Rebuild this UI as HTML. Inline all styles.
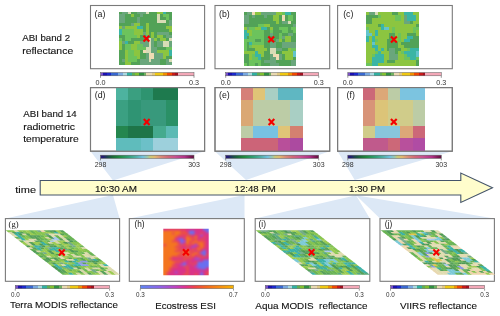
<!DOCTYPE html>
<html><head><meta charset="utf-8"><title>ABI figure</title>
<style>html,body{margin:0;padding:0;background:#fff;width:500px;height:316px;overflow:hidden;position:relative}</style>
</head><body>
<svg width="500" height="316" viewBox="0 0 500 316" style="position:absolute;left:0;top:0;will-change:transform" font-family='"Liberation Sans", sans-serif'><polygon points="90.5,151.2 204.6,151.2 113.0,180.5" fill="#dce8f6"/>
<polygon points="214.8,151.2 329.7,151.2 246.0,180.0" fill="#dce8f6"/>
<polygon points="337.6,151.2 452.3,151.2 354.7,180.0" fill="#dce8f6"/>
<polygon points="113.0,195.0 5.4,218.4 119.6,218.4" fill="#dce8f6"/>
<polygon points="244.5,195.0 129.3,218.4 244.5,218.4" fill="#dce8f6"/>
<polygon points="356.0,195.3 255.2,218.4 369.8,218.4" fill="#dce8f6"/>
<polygon points="356.0,195.3 380.0,218.4 494.4,218.4" fill="#dce8f6"/>
<polygon points="40.2,180.5 460.8,180.5 460.8,173 492.5,187.7 460.8,202.5 460.8,195 40.2,195" fill="#fffdcc" stroke="#44546a" stroke-width="1.1"/>
<rect x="90.5" y="5.5" width="114.1" height="63.2" fill="white" stroke="#7a7a7a" stroke-width="1.1"/>
<rect x="90.5" y="87.6" width="114.1" height="63.6" fill="white" stroke="#7a7a7a" stroke-width="1.1"/>
<rect x="215.0" y="5.5" width="114.7" height="63.2" fill="white" stroke="#7a7a7a" stroke-width="1.1"/>
<rect x="215.0" y="87.6" width="114.7" height="63.6" fill="white" stroke="#7a7a7a" stroke-width="1.1"/>
<rect x="337.6" y="5.5" width="114.7" height="63.2" fill="white" stroke="#7a7a7a" stroke-width="1.1"/>
<rect x="337.6" y="87.6" width="114.7" height="63.6" fill="white" stroke="#7a7a7a" stroke-width="1.1"/>
<rect x="5.4" y="218.6" width="114.2" height="62.7" fill="white" stroke="#7a7a7a" stroke-width="1.1"/>
<rect x="129.3" y="218.6" width="115.0" height="62.7" fill="white" stroke="#7a7a7a" stroke-width="1.1"/>
<rect x="255.2" y="218.6" width="114.6" height="62.7" fill="white" stroke="#7a7a7a" stroke-width="1.1"/>
<rect x="380.0" y="218.6" width="114.4" height="62.7" fill="white" stroke="#7a7a7a" stroke-width="1.1"/>
<g shape-rendering="crispEdges"><rect x="119.20" y="11.50" width="2.98" height="3.02" fill="#52a257"/><rect x="122.13" y="11.50" width="2.98" height="3.02" fill="#6aa67c"/><rect x="125.07" y="11.50" width="2.98" height="3.02" fill="#6aa67c"/><rect x="128.00" y="11.50" width="2.98" height="3.02" fill="#d8dcb6"/><rect x="130.93" y="11.50" width="2.98" height="3.02" fill="#52a257"/><rect x="133.87" y="11.50" width="2.98" height="3.02" fill="#52a257"/><rect x="136.80" y="11.50" width="2.98" height="3.02" fill="#6aa67c"/><rect x="139.73" y="11.50" width="2.98" height="3.02" fill="#6aa67c"/><rect x="142.67" y="11.50" width="2.98" height="3.02" fill="#6aa67c"/><rect x="145.60" y="11.50" width="2.98" height="3.02" fill="#d8dcb6"/><rect x="148.53" y="11.50" width="2.98" height="3.02" fill="#52a257"/><rect x="151.47" y="11.50" width="2.98" height="3.02" fill="#52a257"/><rect x="154.40" y="11.50" width="2.98" height="3.02" fill="#52a257"/><rect x="157.33" y="11.50" width="2.98" height="3.02" fill="#8cc540"/><rect x="160.27" y="11.50" width="2.98" height="3.02" fill="#8cc540"/><rect x="163.20" y="11.50" width="2.98" height="3.02" fill="#3ab5a5"/><rect x="166.13" y="11.50" width="2.98" height="3.02" fill="#52a257"/><rect x="169.07" y="11.50" width="2.98" height="3.02" fill="#52a257"/><rect x="119.20" y="14.47" width="2.98" height="3.02" fill="#6aa67c"/><rect x="122.13" y="14.47" width="2.98" height="3.02" fill="#6aa67c"/><rect x="125.07" y="14.47" width="2.98" height="3.02" fill="#52a257"/><rect x="128.00" y="14.47" width="2.98" height="3.02" fill="#52a257"/><rect x="130.93" y="14.47" width="2.98" height="3.02" fill="#8cc540"/><rect x="133.87" y="14.47" width="2.98" height="3.02" fill="#52a257"/><rect x="136.80" y="14.47" width="2.98" height="3.02" fill="#52a257"/><rect x="139.73" y="14.47" width="2.98" height="3.02" fill="#6aa67c"/><rect x="142.67" y="14.47" width="2.98" height="3.02" fill="#52a257"/><rect x="145.60" y="14.47" width="2.98" height="3.02" fill="#52a257"/><rect x="148.53" y="14.47" width="2.98" height="3.02" fill="#52a257"/><rect x="151.47" y="14.47" width="2.98" height="3.02" fill="#52a257"/><rect x="154.40" y="14.47" width="2.98" height="3.02" fill="#52a257"/><rect x="157.33" y="14.47" width="2.98" height="3.02" fill="#d8dcb6"/><rect x="160.27" y="14.47" width="2.98" height="3.02" fill="#52a257"/><rect x="163.20" y="14.47" width="2.98" height="3.02" fill="#6cc35c"/><rect x="166.13" y="14.47" width="2.98" height="3.02" fill="#6cc35c"/><rect x="169.07" y="14.47" width="2.98" height="3.02" fill="#52a257"/><rect x="119.20" y="17.44" width="2.98" height="3.02" fill="#6aa67c"/><rect x="122.13" y="17.44" width="2.98" height="3.02" fill="#6aa67c"/><rect x="125.07" y="17.44" width="2.98" height="3.02" fill="#52a257"/><rect x="128.00" y="17.44" width="2.98" height="3.02" fill="#52a257"/><rect x="130.93" y="17.44" width="2.98" height="3.02" fill="#52a257"/><rect x="133.87" y="17.44" width="2.98" height="3.02" fill="#52a257"/><rect x="136.80" y="17.44" width="2.98" height="3.02" fill="#6aa67c"/><rect x="139.73" y="17.44" width="2.98" height="3.02" fill="#52a257"/><rect x="142.67" y="17.44" width="2.98" height="3.02" fill="#52a257"/><rect x="145.60" y="17.44" width="2.98" height="3.02" fill="#52a257"/><rect x="148.53" y="17.44" width="2.98" height="3.02" fill="#52a257"/><rect x="151.47" y="17.44" width="2.98" height="3.02" fill="#52a257"/><rect x="154.40" y="17.44" width="2.98" height="3.02" fill="#52a257"/><rect x="157.33" y="17.44" width="2.98" height="3.02" fill="#d8dcb6"/><rect x="160.27" y="17.44" width="2.98" height="3.02" fill="#52a257"/><rect x="163.20" y="17.44" width="2.98" height="3.02" fill="#52a257"/><rect x="166.13" y="17.44" width="2.98" height="3.02" fill="#6cc35c"/><rect x="169.07" y="17.44" width="2.98" height="3.02" fill="#52a257"/><rect x="119.20" y="20.42" width="2.98" height="3.02" fill="#6aa67c"/><rect x="122.13" y="20.42" width="2.98" height="3.02" fill="#6aa67c"/><rect x="125.07" y="20.42" width="2.98" height="3.02" fill="#52a257"/><rect x="128.00" y="20.42" width="2.98" height="3.02" fill="#52a257"/><rect x="130.93" y="20.42" width="2.98" height="3.02" fill="#52a257"/><rect x="133.87" y="20.42" width="2.98" height="3.02" fill="#52a257"/><rect x="136.80" y="20.42" width="2.98" height="3.02" fill="#6aa67c"/><rect x="139.73" y="20.42" width="2.98" height="3.02" fill="#52a257"/><rect x="142.67" y="20.42" width="2.98" height="3.02" fill="#52a257"/><rect x="145.60" y="20.42" width="2.98" height="3.02" fill="#52a257"/><rect x="148.53" y="20.42" width="2.98" height="3.02" fill="#52a257"/><rect x="151.47" y="20.42" width="2.98" height="3.02" fill="#52a257"/><rect x="154.40" y="20.42" width="2.98" height="3.02" fill="#52a257"/><rect x="157.33" y="20.42" width="2.98" height="3.02" fill="#d8dcb6"/><rect x="160.27" y="20.42" width="2.98" height="3.02" fill="#d8dcb6"/><rect x="163.20" y="20.42" width="2.98" height="3.02" fill="#d8dcb6"/><rect x="166.13" y="20.42" width="2.98" height="3.02" fill="#52a257"/><rect x="169.07" y="20.42" width="2.98" height="3.02" fill="#6aa67c"/><rect x="119.20" y="23.39" width="2.98" height="3.02" fill="#52a257"/><rect x="122.13" y="23.39" width="2.98" height="3.02" fill="#52a257"/><rect x="125.07" y="23.39" width="2.98" height="3.02" fill="#52a257"/><rect x="128.00" y="23.39" width="2.98" height="3.02" fill="#52a257"/><rect x="130.93" y="23.39" width="2.98" height="3.02" fill="#6aa67c"/><rect x="133.87" y="23.39" width="2.98" height="3.02" fill="#8cc540"/><rect x="136.80" y="23.39" width="2.98" height="3.02" fill="#8cc540"/><rect x="139.73" y="23.39" width="2.98" height="3.02" fill="#52a257"/><rect x="142.67" y="23.39" width="2.98" height="3.02" fill="#52a257"/><rect x="145.60" y="23.39" width="2.98" height="3.02" fill="#8cc540"/><rect x="148.53" y="23.39" width="2.98" height="3.02" fill="#52a257"/><rect x="151.47" y="23.39" width="2.98" height="3.02" fill="#52a257"/><rect x="154.40" y="23.39" width="2.98" height="3.02" fill="#52a257"/><rect x="157.33" y="23.39" width="2.98" height="3.02" fill="#52a257"/><rect x="160.27" y="23.39" width="2.98" height="3.02" fill="#52a257"/><rect x="163.20" y="23.39" width="2.98" height="3.02" fill="#52a257"/><rect x="166.13" y="23.39" width="2.98" height="3.02" fill="#52a257"/><rect x="169.07" y="23.39" width="2.98" height="3.02" fill="#6aa67c"/><rect x="119.20" y="26.36" width="2.98" height="3.02" fill="#8cc540"/><rect x="122.13" y="26.36" width="2.98" height="3.02" fill="#6aa67c"/><rect x="125.07" y="26.36" width="2.98" height="3.02" fill="#8cc540"/><rect x="128.00" y="26.36" width="2.98" height="3.02" fill="#8cc540"/><rect x="130.93" y="26.36" width="2.98" height="3.02" fill="#8cc540"/><rect x="133.87" y="26.36" width="2.98" height="3.02" fill="#8cc540"/><rect x="136.80" y="26.36" width="2.98" height="3.02" fill="#3ab5a5"/><rect x="139.73" y="26.36" width="2.98" height="3.02" fill="#3ab5a5"/><rect x="142.67" y="26.36" width="2.98" height="3.02" fill="#52a257"/><rect x="145.60" y="26.36" width="2.98" height="3.02" fill="#8cc540"/><rect x="148.53" y="26.36" width="2.98" height="3.02" fill="#52a257"/><rect x="151.47" y="26.36" width="2.98" height="3.02" fill="#52a257"/><rect x="154.40" y="26.36" width="2.98" height="3.02" fill="#52a257"/><rect x="157.33" y="26.36" width="2.98" height="3.02" fill="#52a257"/><rect x="160.27" y="26.36" width="2.98" height="3.02" fill="#52a257"/><rect x="163.20" y="26.36" width="2.98" height="3.02" fill="#52a257"/><rect x="166.13" y="26.36" width="2.98" height="3.02" fill="#8cc540"/><rect x="169.07" y="26.36" width="2.98" height="3.02" fill="#8cc540"/><rect x="119.20" y="29.33" width="2.98" height="3.02" fill="#3ab5a5"/><rect x="122.13" y="29.33" width="2.98" height="3.02" fill="#6cc35c"/><rect x="125.07" y="29.33" width="2.98" height="3.02" fill="#6cc35c"/><rect x="128.00" y="29.33" width="2.98" height="3.02" fill="#6cc35c"/><rect x="130.93" y="29.33" width="2.98" height="3.02" fill="#6cc35c"/><rect x="133.87" y="29.33" width="2.98" height="3.02" fill="#8cc540"/><rect x="136.80" y="29.33" width="2.98" height="3.02" fill="#8cc540"/><rect x="139.73" y="29.33" width="2.98" height="3.02" fill="#8cc540"/><rect x="142.67" y="29.33" width="2.98" height="3.02" fill="#52a257"/><rect x="145.60" y="29.33" width="2.98" height="3.02" fill="#8cc540"/><rect x="148.53" y="29.33" width="2.98" height="3.02" fill="#52a257"/><rect x="151.47" y="29.33" width="2.98" height="3.02" fill="#52a257"/><rect x="154.40" y="29.33" width="2.98" height="3.02" fill="#52a257"/><rect x="157.33" y="29.33" width="2.98" height="3.02" fill="#52a257"/><rect x="160.27" y="29.33" width="2.98" height="3.02" fill="#52a257"/><rect x="163.20" y="29.33" width="2.98" height="3.02" fill="#52a257"/><rect x="166.13" y="29.33" width="2.98" height="3.02" fill="#52a257"/><rect x="169.07" y="29.33" width="2.98" height="3.02" fill="#8cc540"/><rect x="119.20" y="32.31" width="2.98" height="3.02" fill="#3ab5a5"/><rect x="122.13" y="32.31" width="2.98" height="3.02" fill="#6cc35c"/><rect x="125.07" y="32.31" width="2.98" height="3.02" fill="#6cc35c"/><rect x="128.00" y="32.31" width="2.98" height="3.02" fill="#6cc35c"/><rect x="130.93" y="32.31" width="2.98" height="3.02" fill="#6cc35c"/><rect x="133.87" y="32.31" width="2.98" height="3.02" fill="#8cc540"/><rect x="136.80" y="32.31" width="2.98" height="3.02" fill="#8cc540"/><rect x="139.73" y="32.31" width="2.98" height="3.02" fill="#8cc540"/><rect x="142.67" y="32.31" width="2.98" height="3.02" fill="#6aa67c"/><rect x="145.60" y="32.31" width="2.98" height="3.02" fill="#8cc540"/><rect x="148.53" y="32.31" width="2.98" height="3.02" fill="#52a257"/><rect x="151.47" y="32.31" width="2.98" height="3.02" fill="#8cc540"/><rect x="154.40" y="32.31" width="2.98" height="3.02" fill="#52a257"/><rect x="157.33" y="32.31" width="2.98" height="3.02" fill="#6aa67c"/><rect x="160.27" y="32.31" width="2.98" height="3.02" fill="#6aa67c"/><rect x="163.20" y="32.31" width="2.98" height="3.02" fill="#6aa67c"/><rect x="166.13" y="32.31" width="2.98" height="3.02" fill="#6aa67c"/><rect x="169.07" y="32.31" width="2.98" height="3.02" fill="#52a257"/><rect x="119.20" y="35.28" width="2.98" height="3.02" fill="#52a257"/><rect x="122.13" y="35.28" width="2.98" height="3.02" fill="#52a257"/><rect x="125.07" y="35.28" width="2.98" height="3.02" fill="#6cc35c"/><rect x="128.00" y="35.28" width="2.98" height="3.02" fill="#6cc35c"/><rect x="130.93" y="35.28" width="2.98" height="3.02" fill="#6cc35c"/><rect x="133.87" y="35.28" width="2.98" height="3.02" fill="#6cc35c"/><rect x="136.80" y="35.28" width="2.98" height="3.02" fill="#8cc540"/><rect x="139.73" y="35.28" width="2.98" height="3.02" fill="#52a257"/><rect x="142.67" y="35.28" width="2.98" height="3.02" fill="#52a257"/><rect x="145.60" y="35.28" width="2.98" height="3.02" fill="#6aa67c"/><rect x="148.53" y="35.28" width="2.98" height="3.02" fill="#52a257"/><rect x="151.47" y="35.28" width="2.98" height="3.02" fill="#8cc540"/><rect x="154.40" y="35.28" width="2.98" height="3.02" fill="#52a257"/><rect x="157.33" y="35.28" width="2.98" height="3.02" fill="#8cc540"/><rect x="160.27" y="35.28" width="2.98" height="3.02" fill="#8cc540"/><rect x="163.20" y="35.28" width="2.98" height="3.02" fill="#52a257"/><rect x="166.13" y="35.28" width="2.98" height="3.02" fill="#6aa67c"/><rect x="169.07" y="35.28" width="2.98" height="3.02" fill="#6aa67c"/><rect x="119.20" y="38.25" width="2.98" height="3.02" fill="#6cc35c"/><rect x="122.13" y="38.25" width="2.98" height="3.02" fill="#52a257"/><rect x="125.07" y="38.25" width="2.98" height="3.02" fill="#6cc35c"/><rect x="128.00" y="38.25" width="2.98" height="3.02" fill="#6cc35c"/><rect x="130.93" y="38.25" width="2.98" height="3.02" fill="#52a257"/><rect x="133.87" y="38.25" width="2.98" height="3.02" fill="#52a257"/><rect x="136.80" y="38.25" width="2.98" height="3.02" fill="#52a257"/><rect x="139.73" y="38.25" width="2.98" height="3.02" fill="#52a257"/><rect x="142.67" y="38.25" width="2.98" height="3.02" fill="#52a257"/><rect x="145.60" y="38.25" width="2.98" height="3.02" fill="#6aa67c"/><rect x="148.53" y="38.25" width="2.98" height="3.02" fill="#d8dcb6"/><rect x="151.47" y="38.25" width="2.98" height="3.02" fill="#6aa67c"/><rect x="154.40" y="38.25" width="2.98" height="3.02" fill="#8cc540"/><rect x="157.33" y="38.25" width="2.98" height="3.02" fill="#52a257"/><rect x="160.27" y="38.25" width="2.98" height="3.02" fill="#8cc540"/><rect x="163.20" y="38.25" width="2.98" height="3.02" fill="#8cc540"/><rect x="166.13" y="38.25" width="2.98" height="3.02" fill="#52a257"/><rect x="169.07" y="38.25" width="2.98" height="3.02" fill="#d8dcb6"/><rect x="119.20" y="41.22" width="2.98" height="3.02" fill="#8cc540"/><rect x="122.13" y="41.22" width="2.98" height="3.02" fill="#6aa67c"/><rect x="125.07" y="41.22" width="2.98" height="3.02" fill="#3ab5a5"/><rect x="128.00" y="41.22" width="2.98" height="3.02" fill="#52a257"/><rect x="130.93" y="41.22" width="2.98" height="3.02" fill="#52a257"/><rect x="133.87" y="41.22" width="2.98" height="3.02" fill="#8cc540"/><rect x="136.80" y="41.22" width="2.98" height="3.02" fill="#8cc540"/><rect x="139.73" y="41.22" width="2.98" height="3.02" fill="#6aa67c"/><rect x="142.67" y="41.22" width="2.98" height="3.02" fill="#6aa67c"/><rect x="145.60" y="41.22" width="2.98" height="3.02" fill="#6aa67c"/><rect x="148.53" y="41.22" width="2.98" height="3.02" fill="#d8dcb6"/><rect x="151.47" y="41.22" width="2.98" height="3.02" fill="#6aa67c"/><rect x="154.40" y="41.22" width="2.98" height="3.02" fill="#52a257"/><rect x="157.33" y="41.22" width="2.98" height="3.02" fill="#6aa67c"/><rect x="160.27" y="41.22" width="2.98" height="3.02" fill="#6aa67c"/><rect x="163.20" y="41.22" width="2.98" height="3.02" fill="#d8dcb6"/><rect x="166.13" y="41.22" width="2.98" height="3.02" fill="#d8dcb6"/><rect x="169.07" y="41.22" width="2.98" height="3.02" fill="#6aa67c"/><rect x="119.20" y="44.19" width="2.98" height="3.02" fill="#8cc540"/><rect x="122.13" y="44.19" width="2.98" height="3.02" fill="#52a257"/><rect x="125.07" y="44.19" width="2.98" height="3.02" fill="#6cc35c"/><rect x="128.00" y="44.19" width="2.98" height="3.02" fill="#6cc35c"/><rect x="130.93" y="44.19" width="2.98" height="3.02" fill="#8cc540"/><rect x="133.87" y="44.19" width="2.98" height="3.02" fill="#8cc540"/><rect x="136.80" y="44.19" width="2.98" height="3.02" fill="#6cc35c"/><rect x="139.73" y="44.19" width="2.98" height="3.02" fill="#6cc35c"/><rect x="142.67" y="44.19" width="2.98" height="3.02" fill="#6aa67c"/><rect x="145.60" y="44.19" width="2.98" height="3.02" fill="#6aa67c"/><rect x="148.53" y="44.19" width="2.98" height="3.02" fill="#d8dcb6"/><rect x="151.47" y="44.19" width="2.98" height="3.02" fill="#6aa67c"/><rect x="154.40" y="44.19" width="2.98" height="3.02" fill="#52a257"/><rect x="157.33" y="44.19" width="2.98" height="3.02" fill="#6aa67c"/><rect x="160.27" y="44.19" width="2.98" height="3.02" fill="#6aa67c"/><rect x="163.20" y="44.19" width="2.98" height="3.02" fill="#d8dcb6"/><rect x="166.13" y="44.19" width="2.98" height="3.02" fill="#d8dcb6"/><rect x="169.07" y="44.19" width="2.98" height="3.02" fill="#6aa67c"/><rect x="119.20" y="47.17" width="2.98" height="3.02" fill="#8cc540"/><rect x="122.13" y="47.17" width="2.98" height="3.02" fill="#52a257"/><rect x="125.07" y="47.17" width="2.98" height="3.02" fill="#6cc35c"/><rect x="128.00" y="47.17" width="2.98" height="3.02" fill="#6cc35c"/><rect x="130.93" y="47.17" width="2.98" height="3.02" fill="#8cc540"/><rect x="133.87" y="47.17" width="2.98" height="3.02" fill="#8cc540"/><rect x="136.80" y="47.17" width="2.98" height="3.02" fill="#6cc35c"/><rect x="139.73" y="47.17" width="2.98" height="3.02" fill="#6cc35c"/><rect x="142.67" y="47.17" width="2.98" height="3.02" fill="#6cc35c"/><rect x="145.60" y="47.17" width="2.98" height="3.02" fill="#d8dcb6"/><rect x="148.53" y="47.17" width="2.98" height="3.02" fill="#d8dcb6"/><rect x="151.47" y="47.17" width="2.98" height="3.02" fill="#6aa67c"/><rect x="154.40" y="47.17" width="2.98" height="3.02" fill="#6aa67c"/><rect x="157.33" y="47.17" width="2.98" height="3.02" fill="#52a257"/><rect x="160.27" y="47.17" width="2.98" height="3.02" fill="#52a257"/><rect x="163.20" y="47.17" width="2.98" height="3.02" fill="#52a257"/><rect x="166.13" y="47.17" width="2.98" height="3.02" fill="#6cc35c"/><rect x="169.07" y="47.17" width="2.98" height="3.02" fill="#6cc35c"/><rect x="119.20" y="50.14" width="2.98" height="3.02" fill="#52a257"/><rect x="122.13" y="50.14" width="2.98" height="3.02" fill="#52a257"/><rect x="125.07" y="50.14" width="2.98" height="3.02" fill="#8cc540"/><rect x="128.00" y="50.14" width="2.98" height="3.02" fill="#6cc35c"/><rect x="130.93" y="50.14" width="2.98" height="3.02" fill="#6cc35c"/><rect x="133.87" y="50.14" width="2.98" height="3.02" fill="#8cc540"/><rect x="136.80" y="50.14" width="2.98" height="3.02" fill="#8cc540"/><rect x="139.73" y="50.14" width="2.98" height="3.02" fill="#52a257"/><rect x="142.67" y="50.14" width="2.98" height="3.02" fill="#f0dcb4"/><rect x="145.60" y="50.14" width="2.98" height="3.02" fill="#d8dcb6"/><rect x="148.53" y="50.14" width="2.98" height="3.02" fill="#d8dcb6"/><rect x="151.47" y="50.14" width="2.98" height="3.02" fill="#6aa67c"/><rect x="154.40" y="50.14" width="2.98" height="3.02" fill="#6aa67c"/><rect x="157.33" y="50.14" width="2.98" height="3.02" fill="#8cc540"/><rect x="160.27" y="50.14" width="2.98" height="3.02" fill="#8cc540"/><rect x="163.20" y="50.14" width="2.98" height="3.02" fill="#8cc540"/><rect x="166.13" y="50.14" width="2.98" height="3.02" fill="#8cc540"/><rect x="169.07" y="50.14" width="2.98" height="3.02" fill="#3ab5a5"/><rect x="119.20" y="53.11" width="2.98" height="3.02" fill="#52a257"/><rect x="122.13" y="53.11" width="2.98" height="3.02" fill="#52a257"/><rect x="125.07" y="53.11" width="2.98" height="3.02" fill="#8cc540"/><rect x="128.00" y="53.11" width="2.98" height="3.02" fill="#6cc35c"/><rect x="130.93" y="53.11" width="2.98" height="3.02" fill="#6cc35c"/><rect x="133.87" y="53.11" width="2.98" height="3.02" fill="#8cc540"/><rect x="136.80" y="53.11" width="2.98" height="3.02" fill="#8cc540"/><rect x="139.73" y="53.11" width="2.98" height="3.02" fill="#52a257"/><rect x="142.67" y="53.11" width="2.98" height="3.02" fill="#52a257"/><rect x="145.60" y="53.11" width="2.98" height="3.02" fill="#6aa67c"/><rect x="148.53" y="53.11" width="2.98" height="3.02" fill="#f0dcb4"/><rect x="151.47" y="53.11" width="2.98" height="3.02" fill="#f0dcb4"/><rect x="154.40" y="53.11" width="2.98" height="3.02" fill="#6aa67c"/><rect x="157.33" y="53.11" width="2.98" height="3.02" fill="#6aa67c"/><rect x="160.27" y="53.11" width="2.98" height="3.02" fill="#6aa67c"/><rect x="163.20" y="53.11" width="2.98" height="3.02" fill="#8cc540"/><rect x="166.13" y="53.11" width="2.98" height="3.02" fill="#8cc540"/><rect x="169.07" y="53.11" width="2.98" height="3.02" fill="#3ab5a5"/><rect x="119.20" y="56.08" width="2.98" height="3.02" fill="#52a257"/><rect x="122.13" y="56.08" width="2.98" height="3.02" fill="#52a257"/><rect x="125.07" y="56.08" width="2.98" height="3.02" fill="#8cc540"/><rect x="128.00" y="56.08" width="2.98" height="3.02" fill="#6cc35c"/><rect x="130.93" y="56.08" width="2.98" height="3.02" fill="#6cc35c"/><rect x="133.87" y="56.08" width="2.98" height="3.02" fill="#6cc35c"/><rect x="136.80" y="56.08" width="2.98" height="3.02" fill="#8cc540"/><rect x="139.73" y="56.08" width="2.98" height="3.02" fill="#52a257"/><rect x="142.67" y="56.08" width="2.98" height="3.02" fill="#52a257"/><rect x="145.60" y="56.08" width="2.98" height="3.02" fill="#6aa67c"/><rect x="148.53" y="56.08" width="2.98" height="3.02" fill="#f0dcb4"/><rect x="151.47" y="56.08" width="2.98" height="3.02" fill="#f0dcb4"/><rect x="154.40" y="56.08" width="2.98" height="3.02" fill="#6aa67c"/><rect x="157.33" y="56.08" width="2.98" height="3.02" fill="#6aa67c"/><rect x="160.27" y="56.08" width="2.98" height="3.02" fill="#6aa67c"/><rect x="163.20" y="56.08" width="2.98" height="3.02" fill="#8cc540"/><rect x="166.13" y="56.08" width="2.98" height="3.02" fill="#52a257"/><rect x="169.07" y="56.08" width="2.98" height="3.02" fill="#52a257"/><rect x="119.20" y="59.06" width="2.98" height="3.02" fill="#52a257"/><rect x="122.13" y="59.06" width="2.98" height="3.02" fill="#6aa67c"/><rect x="125.07" y="59.06" width="2.98" height="3.02" fill="#8cc540"/><rect x="128.00" y="59.06" width="2.98" height="3.02" fill="#6cc35c"/><rect x="130.93" y="59.06" width="2.98" height="3.02" fill="#6cc35c"/><rect x="133.87" y="59.06" width="2.98" height="3.02" fill="#6cc35c"/><rect x="136.80" y="59.06" width="2.98" height="3.02" fill="#52a257"/><rect x="139.73" y="59.06" width="2.98" height="3.02" fill="#6aa67c"/><rect x="142.67" y="59.06" width="2.98" height="3.02" fill="#6aa67c"/><rect x="145.60" y="59.06" width="2.98" height="3.02" fill="#6aa67c"/><rect x="148.53" y="59.06" width="2.98" height="3.02" fill="#d8dcb6"/><rect x="151.47" y="59.06" width="2.98" height="3.02" fill="#6aa67c"/><rect x="154.40" y="59.06" width="2.98" height="3.02" fill="#6aa67c"/><rect x="157.33" y="59.06" width="2.98" height="3.02" fill="#6aa67c"/><rect x="160.27" y="59.06" width="2.98" height="3.02" fill="#52a257"/><rect x="163.20" y="59.06" width="2.98" height="3.02" fill="#52a257"/><rect x="166.13" y="59.06" width="2.98" height="3.02" fill="#6aa67c"/><rect x="169.07" y="59.06" width="2.98" height="3.02" fill="#d8dcb6"/><rect x="119.20" y="62.03" width="2.98" height="3.02" fill="#52a257"/><rect x="122.13" y="62.03" width="2.98" height="3.02" fill="#52a257"/><rect x="125.07" y="62.03" width="2.98" height="3.02" fill="#8cc540"/><rect x="128.00" y="62.03" width="2.98" height="3.02" fill="#8cc540"/><rect x="130.93" y="62.03" width="2.98" height="3.02" fill="#52a257"/><rect x="133.87" y="62.03" width="2.98" height="3.02" fill="#52a257"/><rect x="136.80" y="62.03" width="2.98" height="3.02" fill="#52a257"/><rect x="139.73" y="62.03" width="2.98" height="3.02" fill="#6aa67c"/><rect x="142.67" y="62.03" width="2.98" height="3.02" fill="#6aa67c"/><rect x="145.60" y="62.03" width="2.98" height="3.02" fill="#6aa67c"/><rect x="148.53" y="62.03" width="2.98" height="3.02" fill="#6aa67c"/><rect x="151.47" y="62.03" width="2.98" height="3.02" fill="#6aa67c"/><rect x="154.40" y="62.03" width="2.98" height="3.02" fill="#6aa67c"/><rect x="157.33" y="62.03" width="2.98" height="3.02" fill="#6aa67c"/><rect x="160.27" y="62.03" width="2.98" height="3.02" fill="#52a257"/><rect x="163.20" y="62.03" width="2.98" height="3.02" fill="#52a257"/><rect x="166.13" y="62.03" width="2.98" height="3.02" fill="#6aa67c"/><rect x="169.07" y="62.03" width="2.98" height="3.02" fill="#6aa67c"/></g>
<g shape-rendering="crispEdges"><rect x="243.60" y="12.00" width="2.98" height="3.03" fill="#52a257"/><rect x="246.53" y="12.00" width="2.98" height="3.03" fill="#6aa67c"/><rect x="249.47" y="12.00" width="2.98" height="3.03" fill="#6aa67c"/><rect x="252.40" y="12.00" width="2.98" height="3.03" fill="#f0dcb4"/><rect x="255.33" y="12.00" width="2.98" height="3.03" fill="#8cc540"/><rect x="258.27" y="12.00" width="2.98" height="3.03" fill="#8cc540"/><rect x="261.20" y="12.00" width="2.98" height="3.03" fill="#6aa67c"/><rect x="264.13" y="12.00" width="2.98" height="3.03" fill="#6aa67c"/><rect x="267.07" y="12.00" width="2.98" height="3.03" fill="#6aa67c"/><rect x="270.00" y="12.00" width="2.98" height="3.03" fill="#6aa67c"/><rect x="272.93" y="12.00" width="2.98" height="3.03" fill="#6aa67c"/><rect x="275.87" y="12.00" width="2.98" height="3.03" fill="#8cc540"/><rect x="278.80" y="12.00" width="2.98" height="3.03" fill="#8cc540"/><rect x="281.73" y="12.00" width="2.98" height="3.03" fill="#6cc35c"/><rect x="284.67" y="12.00" width="2.98" height="3.03" fill="#3ab5a5"/><rect x="287.60" y="12.00" width="2.98" height="3.03" fill="#3ab5a5"/><rect x="290.53" y="12.00" width="2.98" height="3.03" fill="#52a257"/><rect x="293.47" y="12.00" width="2.98" height="3.03" fill="#52a257"/><rect x="243.60" y="14.98" width="2.98" height="3.03" fill="#6aa67c"/><rect x="246.53" y="14.98" width="2.98" height="3.03" fill="#6aa67c"/><rect x="249.47" y="14.98" width="2.98" height="3.03" fill="#52a257"/><rect x="252.40" y="14.98" width="2.98" height="3.03" fill="#6aa67c"/><rect x="255.33" y="14.98" width="2.98" height="3.03" fill="#52a257"/><rect x="258.27" y="14.98" width="2.98" height="3.03" fill="#52a257"/><rect x="261.20" y="14.98" width="2.98" height="3.03" fill="#52a257"/><rect x="264.13" y="14.98" width="2.98" height="3.03" fill="#6aa67c"/><rect x="267.07" y="14.98" width="2.98" height="3.03" fill="#52a257"/><rect x="270.00" y="14.98" width="2.98" height="3.03" fill="#52a257"/><rect x="272.93" y="14.98" width="2.98" height="3.03" fill="#8cc540"/><rect x="275.87" y="14.98" width="2.98" height="3.03" fill="#8cc540"/><rect x="278.80" y="14.98" width="2.98" height="3.03" fill="#52a257"/><rect x="281.73" y="14.98" width="2.98" height="3.03" fill="#f0dcb4"/><rect x="284.67" y="14.98" width="2.98" height="3.03" fill="#52a257"/><rect x="287.60" y="14.98" width="2.98" height="3.03" fill="#6cc35c"/><rect x="290.53" y="14.98" width="2.98" height="3.03" fill="#6cc35c"/><rect x="293.47" y="14.98" width="2.98" height="3.03" fill="#52a257"/><rect x="243.60" y="17.96" width="2.98" height="3.03" fill="#6aa67c"/><rect x="246.53" y="17.96" width="2.98" height="3.03" fill="#6aa67c"/><rect x="249.47" y="17.96" width="2.98" height="3.03" fill="#52a257"/><rect x="252.40" y="17.96" width="2.98" height="3.03" fill="#52a257"/><rect x="255.33" y="17.96" width="2.98" height="3.03" fill="#52a257"/><rect x="258.27" y="17.96" width="2.98" height="3.03" fill="#52a257"/><rect x="261.20" y="17.96" width="2.98" height="3.03" fill="#52a257"/><rect x="264.13" y="17.96" width="2.98" height="3.03" fill="#52a257"/><rect x="267.07" y="17.96" width="2.98" height="3.03" fill="#52a257"/><rect x="270.00" y="17.96" width="2.98" height="3.03" fill="#52a257"/><rect x="272.93" y="17.96" width="2.98" height="3.03" fill="#8cc540"/><rect x="275.87" y="17.96" width="2.98" height="3.03" fill="#8cc540"/><rect x="278.80" y="17.96" width="2.98" height="3.03" fill="#52a257"/><rect x="281.73" y="17.96" width="2.98" height="3.03" fill="#f0dcb4"/><rect x="284.67" y="17.96" width="2.98" height="3.03" fill="#52a257"/><rect x="287.60" y="17.96" width="2.98" height="3.03" fill="#6cc35c"/><rect x="290.53" y="17.96" width="2.98" height="3.03" fill="#6cc35c"/><rect x="293.47" y="17.96" width="2.98" height="3.03" fill="#52a257"/><rect x="243.60" y="20.93" width="2.98" height="3.03" fill="#6aa67c"/><rect x="246.53" y="20.93" width="2.98" height="3.03" fill="#6aa67c"/><rect x="249.47" y="20.93" width="2.98" height="3.03" fill="#52a257"/><rect x="252.40" y="20.93" width="2.98" height="3.03" fill="#52a257"/><rect x="255.33" y="20.93" width="2.98" height="3.03" fill="#52a257"/><rect x="258.27" y="20.93" width="2.98" height="3.03" fill="#52a257"/><rect x="261.20" y="20.93" width="2.98" height="3.03" fill="#52a257"/><rect x="264.13" y="20.93" width="2.98" height="3.03" fill="#52a257"/><rect x="267.07" y="20.93" width="2.98" height="3.03" fill="#52a257"/><rect x="270.00" y="20.93" width="2.98" height="3.03" fill="#52a257"/><rect x="272.93" y="20.93" width="2.98" height="3.03" fill="#52a257"/><rect x="275.87" y="20.93" width="2.98" height="3.03" fill="#8cc540"/><rect x="278.80" y="20.93" width="2.98" height="3.03" fill="#52a257"/><rect x="281.73" y="20.93" width="2.98" height="3.03" fill="#6aa67c"/><rect x="284.67" y="20.93" width="2.98" height="3.03" fill="#6aa67c"/><rect x="287.60" y="20.93" width="2.98" height="3.03" fill="#d8dcb6"/><rect x="290.53" y="20.93" width="2.98" height="3.03" fill="#52a257"/><rect x="293.47" y="20.93" width="2.98" height="3.03" fill="#52a257"/><rect x="243.60" y="23.91" width="2.98" height="3.03" fill="#52a257"/><rect x="246.53" y="23.91" width="2.98" height="3.03" fill="#52a257"/><rect x="249.47" y="23.91" width="2.98" height="3.03" fill="#52a257"/><rect x="252.40" y="23.91" width="2.98" height="3.03" fill="#52a257"/><rect x="255.33" y="23.91" width="2.98" height="3.03" fill="#52a257"/><rect x="258.27" y="23.91" width="2.98" height="3.03" fill="#6cc35c"/><rect x="261.20" y="23.91" width="2.98" height="3.03" fill="#6cc35c"/><rect x="264.13" y="23.91" width="2.98" height="3.03" fill="#8cc540"/><rect x="267.07" y="23.91" width="2.98" height="3.03" fill="#8cc540"/><rect x="270.00" y="23.91" width="2.98" height="3.03" fill="#52a257"/><rect x="272.93" y="23.91" width="2.98" height="3.03" fill="#52a257"/><rect x="275.87" y="23.91" width="2.98" height="3.03" fill="#52a257"/><rect x="278.80" y="23.91" width="2.98" height="3.03" fill="#52a257"/><rect x="281.73" y="23.91" width="2.98" height="3.03" fill="#52a257"/><rect x="284.67" y="23.91" width="2.98" height="3.03" fill="#52a257"/><rect x="287.60" y="23.91" width="2.98" height="3.03" fill="#52a257"/><rect x="290.53" y="23.91" width="2.98" height="3.03" fill="#52a257"/><rect x="293.47" y="23.91" width="2.98" height="3.03" fill="#6aa67c"/><rect x="243.60" y="26.89" width="2.98" height="3.03" fill="#8cc540"/><rect x="246.53" y="26.89" width="2.98" height="3.03" fill="#6aa67c"/><rect x="249.47" y="26.89" width="2.98" height="3.03" fill="#6cc35c"/><rect x="252.40" y="26.89" width="2.98" height="3.03" fill="#6cc35c"/><rect x="255.33" y="26.89" width="2.98" height="3.03" fill="#8cc540"/><rect x="258.27" y="26.89" width="2.98" height="3.03" fill="#8cc540"/><rect x="261.20" y="26.89" width="2.98" height="3.03" fill="#3ab5a5"/><rect x="264.13" y="26.89" width="2.98" height="3.03" fill="#3ab5a5"/><rect x="267.07" y="26.89" width="2.98" height="3.03" fill="#52a257"/><rect x="270.00" y="26.89" width="2.98" height="3.03" fill="#8cc540"/><rect x="272.93" y="26.89" width="2.98" height="3.03" fill="#52a257"/><rect x="275.87" y="26.89" width="2.98" height="3.03" fill="#52a257"/><rect x="278.80" y="26.89" width="2.98" height="3.03" fill="#6cc35c"/><rect x="281.73" y="26.89" width="2.98" height="3.03" fill="#6cc35c"/><rect x="284.67" y="26.89" width="2.98" height="3.03" fill="#6cc35c"/><rect x="287.60" y="26.89" width="2.98" height="3.03" fill="#52a257"/><rect x="290.53" y="26.89" width="2.98" height="3.03" fill="#6cc35c"/><rect x="293.47" y="26.89" width="2.98" height="3.03" fill="#6cc35c"/><rect x="243.60" y="29.87" width="2.98" height="3.03" fill="#3ab5a5"/><rect x="246.53" y="29.87" width="2.98" height="3.03" fill="#8cc540"/><rect x="249.47" y="29.87" width="2.98" height="3.03" fill="#8cc540"/><rect x="252.40" y="29.87" width="2.98" height="3.03" fill="#6cc35c"/><rect x="255.33" y="29.87" width="2.98" height="3.03" fill="#6cc35c"/><rect x="258.27" y="29.87" width="2.98" height="3.03" fill="#6cc35c"/><rect x="261.20" y="29.87" width="2.98" height="3.03" fill="#6cc35c"/><rect x="264.13" y="29.87" width="2.98" height="3.03" fill="#52a257"/><rect x="267.07" y="29.87" width="2.98" height="3.03" fill="#52a257"/><rect x="270.00" y="29.87" width="2.98" height="3.03" fill="#6cc35c"/><rect x="272.93" y="29.87" width="2.98" height="3.03" fill="#52a257"/><rect x="275.87" y="29.87" width="2.98" height="3.03" fill="#52a257"/><rect x="278.80" y="29.87" width="2.98" height="3.03" fill="#52a257"/><rect x="281.73" y="29.87" width="2.98" height="3.03" fill="#6cc35c"/><rect x="284.67" y="29.87" width="2.98" height="3.03" fill="#6cc35c"/><rect x="287.60" y="29.87" width="2.98" height="3.03" fill="#52a257"/><rect x="290.53" y="29.87" width="2.98" height="3.03" fill="#52a257"/><rect x="293.47" y="29.87" width="2.98" height="3.03" fill="#6cc35c"/><rect x="243.60" y="32.84" width="2.98" height="3.03" fill="#3ab5a5"/><rect x="246.53" y="32.84" width="2.98" height="3.03" fill="#3ab5a5"/><rect x="249.47" y="32.84" width="2.98" height="3.03" fill="#8cc540"/><rect x="252.40" y="32.84" width="2.98" height="3.03" fill="#6cc35c"/><rect x="255.33" y="32.84" width="2.98" height="3.03" fill="#6cc35c"/><rect x="258.27" y="32.84" width="2.98" height="3.03" fill="#6cc35c"/><rect x="261.20" y="32.84" width="2.98" height="3.03" fill="#6cc35c"/><rect x="264.13" y="32.84" width="2.98" height="3.03" fill="#52a257"/><rect x="267.07" y="32.84" width="2.98" height="3.03" fill="#52a257"/><rect x="270.00" y="32.84" width="2.98" height="3.03" fill="#6aa67c"/><rect x="272.93" y="32.84" width="2.98" height="3.03" fill="#52a257"/><rect x="275.87" y="32.84" width="2.98" height="3.03" fill="#52a257"/><rect x="278.80" y="32.84" width="2.98" height="3.03" fill="#6cc35c"/><rect x="281.73" y="32.84" width="2.98" height="3.03" fill="#52a257"/><rect x="284.67" y="32.84" width="2.98" height="3.03" fill="#52a257"/><rect x="287.60" y="32.84" width="2.98" height="3.03" fill="#6aa67c"/><rect x="290.53" y="32.84" width="2.98" height="3.03" fill="#6aa67c"/><rect x="293.47" y="32.84" width="2.98" height="3.03" fill="#52a257"/><rect x="243.60" y="35.82" width="2.98" height="3.03" fill="#3ab5a5"/><rect x="246.53" y="35.82" width="2.98" height="3.03" fill="#52a257"/><rect x="249.47" y="35.82" width="2.98" height="3.03" fill="#6cc35c"/><rect x="252.40" y="35.82" width="2.98" height="3.03" fill="#6cc35c"/><rect x="255.33" y="35.82" width="2.98" height="3.03" fill="#6cc35c"/><rect x="258.27" y="35.82" width="2.98" height="3.03" fill="#6cc35c"/><rect x="261.20" y="35.82" width="2.98" height="3.03" fill="#6cc35c"/><rect x="264.13" y="35.82" width="2.98" height="3.03" fill="#52a257"/><rect x="267.07" y="35.82" width="2.98" height="3.03" fill="#52a257"/><rect x="270.00" y="35.82" width="2.98" height="3.03" fill="#52a257"/><rect x="272.93" y="35.82" width="2.98" height="3.03" fill="#52a257"/><rect x="275.87" y="35.82" width="2.98" height="3.03" fill="#52a257"/><rect x="278.80" y="35.82" width="2.98" height="3.03" fill="#6cc35c"/><rect x="281.73" y="35.82" width="2.98" height="3.03" fill="#6aa67c"/><rect x="284.67" y="35.82" width="2.98" height="3.03" fill="#8cc540"/><rect x="287.60" y="35.82" width="2.98" height="3.03" fill="#8cc540"/><rect x="290.53" y="35.82" width="2.98" height="3.03" fill="#52a257"/><rect x="293.47" y="35.82" width="2.98" height="3.03" fill="#52a257"/><rect x="243.60" y="38.80" width="2.98" height="3.03" fill="#6cc35c"/><rect x="246.53" y="38.80" width="2.98" height="3.03" fill="#6cc35c"/><rect x="249.47" y="38.80" width="2.98" height="3.03" fill="#6cc35c"/><rect x="252.40" y="38.80" width="2.98" height="3.03" fill="#6cc35c"/><rect x="255.33" y="38.80" width="2.98" height="3.03" fill="#52a257"/><rect x="258.27" y="38.80" width="2.98" height="3.03" fill="#52a257"/><rect x="261.20" y="38.80" width="2.98" height="3.03" fill="#6cc35c"/><rect x="264.13" y="38.80" width="2.98" height="3.03" fill="#52a257"/><rect x="267.07" y="38.80" width="2.98" height="3.03" fill="#52a257"/><rect x="270.00" y="38.80" width="2.98" height="3.03" fill="#52a257"/><rect x="272.93" y="38.80" width="2.98" height="3.03" fill="#52a257"/><rect x="275.87" y="38.80" width="2.98" height="3.03" fill="#6aa67c"/><rect x="278.80" y="38.80" width="2.98" height="3.03" fill="#8cc540"/><rect x="281.73" y="38.80" width="2.98" height="3.03" fill="#52a257"/><rect x="284.67" y="38.80" width="2.98" height="3.03" fill="#8cc540"/><rect x="287.60" y="38.80" width="2.98" height="3.03" fill="#8cc540"/><rect x="290.53" y="38.80" width="2.98" height="3.03" fill="#52a257"/><rect x="293.47" y="38.80" width="2.98" height="3.03" fill="#52a257"/><rect x="243.60" y="41.78" width="2.98" height="3.03" fill="#6cc35c"/><rect x="246.53" y="41.78" width="2.98" height="3.03" fill="#52a257"/><rect x="249.47" y="41.78" width="2.98" height="3.03" fill="#3ab5a5"/><rect x="252.40" y="41.78" width="2.98" height="3.03" fill="#6cc35c"/><rect x="255.33" y="41.78" width="2.98" height="3.03" fill="#6cc35c"/><rect x="258.27" y="41.78" width="2.98" height="3.03" fill="#6cc35c"/><rect x="261.20" y="41.78" width="2.98" height="3.03" fill="#6cc35c"/><rect x="264.13" y="41.78" width="2.98" height="3.03" fill="#52a257"/><rect x="267.07" y="41.78" width="2.98" height="3.03" fill="#52a257"/><rect x="270.00" y="41.78" width="2.98" height="3.03" fill="#6aa67c"/><rect x="272.93" y="41.78" width="2.98" height="3.03" fill="#6aa67c"/><rect x="275.87" y="41.78" width="2.98" height="3.03" fill="#52a257"/><rect x="278.80" y="41.78" width="2.98" height="3.03" fill="#52a257"/><rect x="281.73" y="41.78" width="2.98" height="3.03" fill="#6aa67c"/><rect x="284.67" y="41.78" width="2.98" height="3.03" fill="#6aa67c"/><rect x="287.60" y="41.78" width="2.98" height="3.03" fill="#6aa67c"/><rect x="290.53" y="41.78" width="2.98" height="3.03" fill="#6aa67c"/><rect x="293.47" y="41.78" width="2.98" height="3.03" fill="#6aa67c"/><rect x="243.60" y="44.76" width="2.98" height="3.03" fill="#6cc35c"/><rect x="246.53" y="44.76" width="2.98" height="3.03" fill="#52a257"/><rect x="249.47" y="44.76" width="2.98" height="3.03" fill="#6cc35c"/><rect x="252.40" y="44.76" width="2.98" height="3.03" fill="#8cc540"/><rect x="255.33" y="44.76" width="2.98" height="3.03" fill="#8cc540"/><rect x="258.27" y="44.76" width="2.98" height="3.03" fill="#8cc540"/><rect x="261.20" y="44.76" width="2.98" height="3.03" fill="#8cc540"/><rect x="264.13" y="44.76" width="2.98" height="3.03" fill="#52a257"/><rect x="267.07" y="44.76" width="2.98" height="3.03" fill="#52a257"/><rect x="270.00" y="44.76" width="2.98" height="3.03" fill="#6aa67c"/><rect x="272.93" y="44.76" width="2.98" height="3.03" fill="#6aa67c"/><rect x="275.87" y="44.76" width="2.98" height="3.03" fill="#52a257"/><rect x="278.80" y="44.76" width="2.98" height="3.03" fill="#52a257"/><rect x="281.73" y="44.76" width="2.98" height="3.03" fill="#6aa67c"/><rect x="284.67" y="44.76" width="2.98" height="3.03" fill="#6aa67c"/><rect x="287.60" y="44.76" width="2.98" height="3.03" fill="#6aa67c"/><rect x="290.53" y="44.76" width="2.98" height="3.03" fill="#6aa67c"/><rect x="293.47" y="44.76" width="2.98" height="3.03" fill="#6aa67c"/><rect x="243.60" y="47.73" width="2.98" height="3.03" fill="#6cc35c"/><rect x="246.53" y="47.73" width="2.98" height="3.03" fill="#52a257"/><rect x="249.47" y="47.73" width="2.98" height="3.03" fill="#52a257"/><rect x="252.40" y="47.73" width="2.98" height="3.03" fill="#52a257"/><rect x="255.33" y="47.73" width="2.98" height="3.03" fill="#8cc540"/><rect x="258.27" y="47.73" width="2.98" height="3.03" fill="#8cc540"/><rect x="261.20" y="47.73" width="2.98" height="3.03" fill="#8cc540"/><rect x="264.13" y="47.73" width="2.98" height="3.03" fill="#8cc540"/><rect x="267.07" y="47.73" width="2.98" height="3.03" fill="#52a257"/><rect x="270.00" y="47.73" width="2.98" height="3.03" fill="#d8dcb6"/><rect x="272.93" y="47.73" width="2.98" height="3.03" fill="#d8dcb6"/><rect x="275.87" y="47.73" width="2.98" height="3.03" fill="#6aa67c"/><rect x="278.80" y="47.73" width="2.98" height="3.03" fill="#6aa67c"/><rect x="281.73" y="47.73" width="2.98" height="3.03" fill="#52a257"/><rect x="284.67" y="47.73" width="2.98" height="3.03" fill="#52a257"/><rect x="287.60" y="47.73" width="2.98" height="3.03" fill="#8cc540"/><rect x="290.53" y="47.73" width="2.98" height="3.03" fill="#6cc35c"/><rect x="293.47" y="47.73" width="2.98" height="3.03" fill="#6cc35c"/><rect x="243.60" y="50.71" width="2.98" height="3.03" fill="#8cc540"/><rect x="246.53" y="50.71" width="2.98" height="3.03" fill="#8cc540"/><rect x="249.47" y="50.71" width="2.98" height="3.03" fill="#8cc540"/><rect x="252.40" y="50.71" width="2.98" height="3.03" fill="#8cc540"/><rect x="255.33" y="50.71" width="2.98" height="3.03" fill="#3ab5a5"/><rect x="258.27" y="50.71" width="2.98" height="3.03" fill="#8cc540"/><rect x="261.20" y="50.71" width="2.98" height="3.03" fill="#8cc540"/><rect x="264.13" y="50.71" width="2.98" height="3.03" fill="#52a257"/><rect x="267.07" y="50.71" width="2.98" height="3.03" fill="#52a257"/><rect x="270.00" y="50.71" width="2.98" height="3.03" fill="#d8dcb6"/><rect x="272.93" y="50.71" width="2.98" height="3.03" fill="#d8dcb6"/><rect x="275.87" y="50.71" width="2.98" height="3.03" fill="#52a257"/><rect x="278.80" y="50.71" width="2.98" height="3.03" fill="#52a257"/><rect x="281.73" y="50.71" width="2.98" height="3.03" fill="#8cc540"/><rect x="284.67" y="50.71" width="2.98" height="3.03" fill="#8cc540"/><rect x="287.60" y="50.71" width="2.98" height="3.03" fill="#8cc540"/><rect x="290.53" y="50.71" width="2.98" height="3.03" fill="#8cc540"/><rect x="293.47" y="50.71" width="2.98" height="3.03" fill="#62c4cc"/><rect x="243.60" y="53.69" width="2.98" height="3.03" fill="#52a257"/><rect x="246.53" y="53.69" width="2.98" height="3.03" fill="#52a257"/><rect x="249.47" y="53.69" width="2.98" height="3.03" fill="#8cc540"/><rect x="252.40" y="53.69" width="2.98" height="3.03" fill="#6cc35c"/><rect x="255.33" y="53.69" width="2.98" height="3.03" fill="#3ab5a5"/><rect x="258.27" y="53.69" width="2.98" height="3.03" fill="#3ab5a5"/><rect x="261.20" y="53.69" width="2.98" height="3.03" fill="#8cc540"/><rect x="264.13" y="53.69" width="2.98" height="3.03" fill="#52a257"/><rect x="267.07" y="53.69" width="2.98" height="3.03" fill="#52a257"/><rect x="270.00" y="53.69" width="2.98" height="3.03" fill="#6aa67c"/><rect x="272.93" y="53.69" width="2.98" height="3.03" fill="#f0dcb4"/><rect x="275.87" y="53.69" width="2.98" height="3.03" fill="#f0dcb4"/><rect x="278.80" y="53.69" width="2.98" height="3.03" fill="#6aa67c"/><rect x="281.73" y="53.69" width="2.98" height="3.03" fill="#52a257"/><rect x="284.67" y="53.69" width="2.98" height="3.03" fill="#8cc540"/><rect x="287.60" y="53.69" width="2.98" height="3.03" fill="#8cc540"/><rect x="290.53" y="53.69" width="2.98" height="3.03" fill="#8cc540"/><rect x="293.47" y="53.69" width="2.98" height="3.03" fill="#62c4cc"/><rect x="243.60" y="56.67" width="2.98" height="3.03" fill="#52a257"/><rect x="246.53" y="56.67" width="2.98" height="3.03" fill="#52a257"/><rect x="249.47" y="56.67" width="2.98" height="3.03" fill="#8cc540"/><rect x="252.40" y="56.67" width="2.98" height="3.03" fill="#6cc35c"/><rect x="255.33" y="56.67" width="2.98" height="3.03" fill="#6cc35c"/><rect x="258.27" y="56.67" width="2.98" height="3.03" fill="#3ab5a5"/><rect x="261.20" y="56.67" width="2.98" height="3.03" fill="#52a257"/><rect x="264.13" y="56.67" width="2.98" height="3.03" fill="#52a257"/><rect x="267.07" y="56.67" width="2.98" height="3.03" fill="#52a257"/><rect x="270.00" y="56.67" width="2.98" height="3.03" fill="#6aa67c"/><rect x="272.93" y="56.67" width="2.98" height="3.03" fill="#6aa67c"/><rect x="275.87" y="56.67" width="2.98" height="3.03" fill="#f0dcb4"/><rect x="278.80" y="56.67" width="2.98" height="3.03" fill="#6aa67c"/><rect x="281.73" y="56.67" width="2.98" height="3.03" fill="#52a257"/><rect x="284.67" y="56.67" width="2.98" height="3.03" fill="#8cc540"/><rect x="287.60" y="56.67" width="2.98" height="3.03" fill="#8cc540"/><rect x="290.53" y="56.67" width="2.98" height="3.03" fill="#8cc540"/><rect x="293.47" y="56.67" width="2.98" height="3.03" fill="#52a257"/><rect x="243.60" y="59.64" width="2.98" height="3.03" fill="#52a257"/><rect x="246.53" y="59.64" width="2.98" height="3.03" fill="#52a257"/><rect x="249.47" y="59.64" width="2.98" height="3.03" fill="#6cc35c"/><rect x="252.40" y="59.64" width="2.98" height="3.03" fill="#6cc35c"/><rect x="255.33" y="59.64" width="2.98" height="3.03" fill="#6cc35c"/><rect x="258.27" y="59.64" width="2.98" height="3.03" fill="#6cc35c"/><rect x="261.20" y="59.64" width="2.98" height="3.03" fill="#52a257"/><rect x="264.13" y="59.64" width="2.98" height="3.03" fill="#6aa67c"/><rect x="267.07" y="59.64" width="2.98" height="3.03" fill="#6aa67c"/><rect x="270.00" y="59.64" width="2.98" height="3.03" fill="#6aa67c"/><rect x="272.93" y="59.64" width="2.98" height="3.03" fill="#6aa67c"/><rect x="275.87" y="59.64" width="2.98" height="3.03" fill="#52a257"/><rect x="278.80" y="59.64" width="2.98" height="3.03" fill="#52a257"/><rect x="281.73" y="59.64" width="2.98" height="3.03" fill="#52a257"/><rect x="284.67" y="59.64" width="2.98" height="3.03" fill="#52a257"/><rect x="287.60" y="59.64" width="2.98" height="3.03" fill="#52a257"/><rect x="290.53" y="59.64" width="2.98" height="3.03" fill="#6aa67c"/><rect x="293.47" y="59.64" width="2.98" height="3.03" fill="#6aa67c"/><rect x="243.60" y="62.62" width="2.98" height="3.03" fill="#6cc35c"/><rect x="246.53" y="62.62" width="2.98" height="3.03" fill="#52a257"/><rect x="249.47" y="62.62" width="2.98" height="3.03" fill="#6cc35c"/><rect x="252.40" y="62.62" width="2.98" height="3.03" fill="#6cc35c"/><rect x="255.33" y="62.62" width="2.98" height="3.03" fill="#52a257"/><rect x="258.27" y="62.62" width="2.98" height="3.03" fill="#6cc35c"/><rect x="261.20" y="62.62" width="2.98" height="3.03" fill="#52a257"/><rect x="264.13" y="62.62" width="2.98" height="3.03" fill="#52a257"/><rect x="267.07" y="62.62" width="2.98" height="3.03" fill="#52a257"/><rect x="270.00" y="62.62" width="2.98" height="3.03" fill="#6aa67c"/><rect x="272.93" y="62.62" width="2.98" height="3.03" fill="#6aa67c"/><rect x="275.87" y="62.62" width="2.98" height="3.03" fill="#6aa67c"/><rect x="278.80" y="62.62" width="2.98" height="3.03" fill="#52a257"/><rect x="281.73" y="62.62" width="2.98" height="3.03" fill="#52a257"/><rect x="284.67" y="62.62" width="2.98" height="3.03" fill="#52a257"/><rect x="287.60" y="62.62" width="2.98" height="3.03" fill="#52a257"/><rect x="290.53" y="62.62" width="2.98" height="3.03" fill="#6aa67c"/><rect x="293.47" y="62.62" width="2.98" height="3.03" fill="#6aa67c"/></g>
<g shape-rendering="crispEdges"><rect x="365.80" y="12.00" width="3.01" height="3.03" fill="#8cc540"/><rect x="368.76" y="12.00" width="3.01" height="3.03" fill="#6aa67c"/><rect x="371.72" y="12.00" width="3.01" height="3.03" fill="#6aa67c"/><rect x="374.68" y="12.00" width="3.01" height="3.03" fill="#d8dcb6"/><rect x="377.64" y="12.00" width="3.01" height="3.03" fill="#8cc540"/><rect x="380.61" y="12.00" width="3.01" height="3.03" fill="#8cc540"/><rect x="383.57" y="12.00" width="3.01" height="3.03" fill="#8cc540"/><rect x="386.53" y="12.00" width="3.01" height="3.03" fill="#8cc540"/><rect x="389.49" y="12.00" width="3.01" height="3.03" fill="#8cc540"/><rect x="392.45" y="12.00" width="3.01" height="3.03" fill="#52a257"/><rect x="395.41" y="12.00" width="3.01" height="3.03" fill="#52a257"/><rect x="398.37" y="12.00" width="3.01" height="3.03" fill="#8cc540"/><rect x="401.33" y="12.00" width="3.01" height="3.03" fill="#8cc540"/><rect x="404.29" y="12.00" width="3.01" height="3.03" fill="#3ab5a5"/><rect x="407.26" y="12.00" width="3.01" height="3.03" fill="#3ab5a5"/><rect x="410.22" y="12.00" width="3.01" height="3.03" fill="#3ab5a5"/><rect x="413.18" y="12.00" width="3.01" height="3.03" fill="#8cc540"/><rect x="416.14" y="12.00" width="3.01" height="3.03" fill="#8cc540"/><rect x="365.80" y="14.98" width="3.01" height="3.03" fill="#52a257"/><rect x="368.76" y="14.98" width="3.01" height="3.03" fill="#52a257"/><rect x="371.72" y="14.98" width="3.01" height="3.03" fill="#52a257"/><rect x="374.68" y="14.98" width="3.01" height="3.03" fill="#52a257"/><rect x="377.64" y="14.98" width="3.01" height="3.03" fill="#6cc35c"/><rect x="380.61" y="14.98" width="3.01" height="3.03" fill="#8cc540"/><rect x="383.57" y="14.98" width="3.01" height="3.03" fill="#8cc540"/><rect x="386.53" y="14.98" width="3.01" height="3.03" fill="#8cc540"/><rect x="389.49" y="14.98" width="3.01" height="3.03" fill="#8cc540"/><rect x="392.45" y="14.98" width="3.01" height="3.03" fill="#8cc540"/><rect x="395.41" y="14.98" width="3.01" height="3.03" fill="#6cc35c"/><rect x="398.37" y="14.98" width="3.01" height="3.03" fill="#6cc35c"/><rect x="401.33" y="14.98" width="3.01" height="3.03" fill="#8cc540"/><rect x="404.29" y="14.98" width="3.01" height="3.03" fill="#6aa67c"/><rect x="407.26" y="14.98" width="3.01" height="3.03" fill="#3ab5a5"/><rect x="410.22" y="14.98" width="3.01" height="3.03" fill="#3ab5a5"/><rect x="413.18" y="14.98" width="3.01" height="3.03" fill="#3ab5a5"/><rect x="416.14" y="14.98" width="3.01" height="3.03" fill="#8cc540"/><rect x="365.80" y="17.96" width="3.01" height="3.03" fill="#52a257"/><rect x="368.76" y="17.96" width="3.01" height="3.03" fill="#52a257"/><rect x="371.72" y="17.96" width="3.01" height="3.03" fill="#8cc540"/><rect x="374.68" y="17.96" width="3.01" height="3.03" fill="#8cc540"/><rect x="377.64" y="17.96" width="3.01" height="3.03" fill="#8cc540"/><rect x="380.61" y="17.96" width="3.01" height="3.03" fill="#8cc540"/><rect x="383.57" y="17.96" width="3.01" height="3.03" fill="#8cc540"/><rect x="386.53" y="17.96" width="3.01" height="3.03" fill="#8cc540"/><rect x="389.49" y="17.96" width="3.01" height="3.03" fill="#8cc540"/><rect x="392.45" y="17.96" width="3.01" height="3.03" fill="#8cc540"/><rect x="395.41" y="17.96" width="3.01" height="3.03" fill="#6cc35c"/><rect x="398.37" y="17.96" width="3.01" height="3.03" fill="#6cc35c"/><rect x="401.33" y="17.96" width="3.01" height="3.03" fill="#8cc540"/><rect x="404.29" y="17.96" width="3.01" height="3.03" fill="#6aa67c"/><rect x="407.26" y="17.96" width="3.01" height="3.03" fill="#3ab5a5"/><rect x="410.22" y="17.96" width="3.01" height="3.03" fill="#3ab5a5"/><rect x="413.18" y="17.96" width="3.01" height="3.03" fill="#3ab5a5"/><rect x="416.14" y="17.96" width="3.01" height="3.03" fill="#8cc540"/><rect x="365.80" y="20.93" width="3.01" height="3.03" fill="#52a257"/><rect x="368.76" y="20.93" width="3.01" height="3.03" fill="#52a257"/><rect x="371.72" y="20.93" width="3.01" height="3.03" fill="#8cc540"/><rect x="374.68" y="20.93" width="3.01" height="3.03" fill="#8cc540"/><rect x="377.64" y="20.93" width="3.01" height="3.03" fill="#8cc540"/><rect x="380.61" y="20.93" width="3.01" height="3.03" fill="#8cc540"/><rect x="383.57" y="20.93" width="3.01" height="3.03" fill="#8cc540"/><rect x="386.53" y="20.93" width="3.01" height="3.03" fill="#8cc540"/><rect x="389.49" y="20.93" width="3.01" height="3.03" fill="#8cc540"/><rect x="392.45" y="20.93" width="3.01" height="3.03" fill="#8cc540"/><rect x="395.41" y="20.93" width="3.01" height="3.03" fill="#8cc540"/><rect x="398.37" y="20.93" width="3.01" height="3.03" fill="#8cc540"/><rect x="401.33" y="20.93" width="3.01" height="3.03" fill="#8cc540"/><rect x="404.29" y="20.93" width="3.01" height="3.03" fill="#6aa67c"/><rect x="407.26" y="20.93" width="3.01" height="3.03" fill="#6aa67c"/><rect x="410.22" y="20.93" width="3.01" height="3.03" fill="#52a257"/><rect x="413.18" y="20.93" width="3.01" height="3.03" fill="#8cc540"/><rect x="416.14" y="20.93" width="3.01" height="3.03" fill="#8cc540"/><rect x="365.80" y="23.91" width="3.01" height="3.03" fill="#8cc540"/><rect x="368.76" y="23.91" width="3.01" height="3.03" fill="#8cc540"/><rect x="371.72" y="23.91" width="3.01" height="3.03" fill="#8cc540"/><rect x="374.68" y="23.91" width="3.01" height="3.03" fill="#8cc540"/><rect x="377.64" y="23.91" width="3.01" height="3.03" fill="#52a257"/><rect x="380.61" y="23.91" width="3.01" height="3.03" fill="#3ab5a5"/><rect x="383.57" y="23.91" width="3.01" height="3.03" fill="#8cc540"/><rect x="386.53" y="23.91" width="3.01" height="3.03" fill="#8cc540"/><rect x="389.49" y="23.91" width="3.01" height="3.03" fill="#8cc540"/><rect x="392.45" y="23.91" width="3.01" height="3.03" fill="#8cc540"/><rect x="395.41" y="23.91" width="3.01" height="3.03" fill="#8cc540"/><rect x="398.37" y="23.91" width="3.01" height="3.03" fill="#8cc540"/><rect x="401.33" y="23.91" width="3.01" height="3.03" fill="#8cc540"/><rect x="404.29" y="23.91" width="3.01" height="3.03" fill="#8cc540"/><rect x="407.26" y="23.91" width="3.01" height="3.03" fill="#8cc540"/><rect x="410.22" y="23.91" width="3.01" height="3.03" fill="#8cc540"/><rect x="413.18" y="23.91" width="3.01" height="3.03" fill="#8cc540"/><rect x="416.14" y="23.91" width="3.01" height="3.03" fill="#52a257"/><rect x="365.80" y="26.89" width="3.01" height="3.03" fill="#6cc35c"/><rect x="368.76" y="26.89" width="3.01" height="3.03" fill="#8cc540"/><rect x="371.72" y="26.89" width="3.01" height="3.03" fill="#8cc540"/><rect x="374.68" y="26.89" width="3.01" height="3.03" fill="#8cc540"/><rect x="377.64" y="26.89" width="3.01" height="3.03" fill="#8cc540"/><rect x="380.61" y="26.89" width="3.01" height="3.03" fill="#3ab5a5"/><rect x="383.57" y="26.89" width="3.01" height="3.03" fill="#62c4cc"/><rect x="386.53" y="26.89" width="3.01" height="3.03" fill="#62c4cc"/><rect x="389.49" y="26.89" width="3.01" height="3.03" fill="#8cc540"/><rect x="392.45" y="26.89" width="3.01" height="3.03" fill="#6cc35c"/><rect x="395.41" y="26.89" width="3.01" height="3.03" fill="#8cc540"/><rect x="398.37" y="26.89" width="3.01" height="3.03" fill="#8cc540"/><rect x="401.33" y="26.89" width="3.01" height="3.03" fill="#8cc540"/><rect x="404.29" y="26.89" width="3.01" height="3.03" fill="#8cc540"/><rect x="407.26" y="26.89" width="3.01" height="3.03" fill="#8cc540"/><rect x="410.22" y="26.89" width="3.01" height="3.03" fill="#8cc540"/><rect x="413.18" y="26.89" width="3.01" height="3.03" fill="#6cc35c"/><rect x="416.14" y="26.89" width="3.01" height="3.03" fill="#6cc35c"/><rect x="365.80" y="29.87" width="3.01" height="3.03" fill="#62c4cc"/><rect x="368.76" y="29.87" width="3.01" height="3.03" fill="#8cc540"/><rect x="371.72" y="29.87" width="3.01" height="3.03" fill="#8cc540"/><rect x="374.68" y="29.87" width="3.01" height="3.03" fill="#3ab5a5"/><rect x="377.64" y="29.87" width="3.01" height="3.03" fill="#8cc540"/><rect x="380.61" y="29.87" width="3.01" height="3.03" fill="#8cc540"/><rect x="383.57" y="29.87" width="3.01" height="3.03" fill="#8cc540"/><rect x="386.53" y="29.87" width="3.01" height="3.03" fill="#8cc540"/><rect x="389.49" y="29.87" width="3.01" height="3.03" fill="#8cc540"/><rect x="392.45" y="29.87" width="3.01" height="3.03" fill="#6cc35c"/><rect x="395.41" y="29.87" width="3.01" height="3.03" fill="#8cc540"/><rect x="398.37" y="29.87" width="3.01" height="3.03" fill="#8cc540"/><rect x="401.33" y="29.87" width="3.01" height="3.03" fill="#8cc540"/><rect x="404.29" y="29.87" width="3.01" height="3.03" fill="#8cc540"/><rect x="407.26" y="29.87" width="3.01" height="3.03" fill="#8cc540"/><rect x="410.22" y="29.87" width="3.01" height="3.03" fill="#8cc540"/><rect x="413.18" y="29.87" width="3.01" height="3.03" fill="#6cc35c"/><rect x="416.14" y="29.87" width="3.01" height="3.03" fill="#8cc540"/><rect x="365.80" y="32.84" width="3.01" height="3.03" fill="#62c4cc"/><rect x="368.76" y="32.84" width="3.01" height="3.03" fill="#62c4cc"/><rect x="371.72" y="32.84" width="3.01" height="3.03" fill="#8cc540"/><rect x="374.68" y="32.84" width="3.01" height="3.03" fill="#3ab5a5"/><rect x="377.64" y="32.84" width="3.01" height="3.03" fill="#8cc540"/><rect x="380.61" y="32.84" width="3.01" height="3.03" fill="#8cc540"/><rect x="383.57" y="32.84" width="3.01" height="3.03" fill="#8cc540"/><rect x="386.53" y="32.84" width="3.01" height="3.03" fill="#8cc540"/><rect x="389.49" y="32.84" width="3.01" height="3.03" fill="#52a257"/><rect x="392.45" y="32.84" width="3.01" height="3.03" fill="#52a257"/><rect x="395.41" y="32.84" width="3.01" height="3.03" fill="#8cc540"/><rect x="398.37" y="32.84" width="3.01" height="3.03" fill="#6cc35c"/><rect x="401.33" y="32.84" width="3.01" height="3.03" fill="#8cc540"/><rect x="404.29" y="32.84" width="3.01" height="3.03" fill="#8cc540"/><rect x="407.26" y="32.84" width="3.01" height="3.03" fill="#52a257"/><rect x="410.22" y="32.84" width="3.01" height="3.03" fill="#52a257"/><rect x="413.18" y="32.84" width="3.01" height="3.03" fill="#52a257"/><rect x="416.14" y="32.84" width="3.01" height="3.03" fill="#8cc540"/><rect x="365.80" y="35.82" width="3.01" height="3.03" fill="#3ab5a5"/><rect x="368.76" y="35.82" width="3.01" height="3.03" fill="#8cc540"/><rect x="371.72" y="35.82" width="3.01" height="3.03" fill="#3ab5a5"/><rect x="374.68" y="35.82" width="3.01" height="3.03" fill="#8cc540"/><rect x="377.64" y="35.82" width="3.01" height="3.03" fill="#8cc540"/><rect x="380.61" y="35.82" width="3.01" height="3.03" fill="#8cc540"/><rect x="383.57" y="35.82" width="3.01" height="3.03" fill="#8cc540"/><rect x="386.53" y="35.82" width="3.01" height="3.03" fill="#8cc540"/><rect x="389.49" y="35.82" width="3.01" height="3.03" fill="#52a257"/><rect x="392.45" y="35.82" width="3.01" height="3.03" fill="#52a257"/><rect x="395.41" y="35.82" width="3.01" height="3.03" fill="#8cc540"/><rect x="398.37" y="35.82" width="3.01" height="3.03" fill="#6cc35c"/><rect x="401.33" y="35.82" width="3.01" height="3.03" fill="#8cc540"/><rect x="404.29" y="35.82" width="3.01" height="3.03" fill="#8cc540"/><rect x="407.26" y="35.82" width="3.01" height="3.03" fill="#3ab5a5"/><rect x="410.22" y="35.82" width="3.01" height="3.03" fill="#3ab5a5"/><rect x="413.18" y="35.82" width="3.01" height="3.03" fill="#52a257"/><rect x="416.14" y="35.82" width="3.01" height="3.03" fill="#52a257"/><rect x="365.80" y="38.80" width="3.01" height="3.03" fill="#3ab5a5"/><rect x="368.76" y="38.80" width="3.01" height="3.03" fill="#8cc540"/><rect x="371.72" y="38.80" width="3.01" height="3.03" fill="#3ab5a5"/><rect x="374.68" y="38.80" width="3.01" height="3.03" fill="#6cc35c"/><rect x="377.64" y="38.80" width="3.01" height="3.03" fill="#8cc540"/><rect x="380.61" y="38.80" width="3.01" height="3.03" fill="#8cc540"/><rect x="383.57" y="38.80" width="3.01" height="3.03" fill="#8cc540"/><rect x="386.53" y="38.80" width="3.01" height="3.03" fill="#52a257"/><rect x="389.49" y="38.80" width="3.01" height="3.03" fill="#52a257"/><rect x="392.45" y="38.80" width="3.01" height="3.03" fill="#52a257"/><rect x="395.41" y="38.80" width="3.01" height="3.03" fill="#8cc540"/><rect x="398.37" y="38.80" width="3.01" height="3.03" fill="#6cc35c"/><rect x="401.33" y="38.80" width="3.01" height="3.03" fill="#8cc540"/><rect x="404.29" y="38.80" width="3.01" height="3.03" fill="#3ab5a5"/><rect x="407.26" y="38.80" width="3.01" height="3.03" fill="#3ab5a5"/><rect x="410.22" y="38.80" width="3.01" height="3.03" fill="#52a257"/><rect x="413.18" y="38.80" width="3.01" height="3.03" fill="#52a257"/><rect x="416.14" y="38.80" width="3.01" height="3.03" fill="#52a257"/><rect x="365.80" y="41.78" width="3.01" height="3.03" fill="#8cc540"/><rect x="368.76" y="41.78" width="3.01" height="3.03" fill="#8cc540"/><rect x="371.72" y="41.78" width="3.01" height="3.03" fill="#62c4cc"/><rect x="374.68" y="41.78" width="3.01" height="3.03" fill="#8cc540"/><rect x="377.64" y="41.78" width="3.01" height="3.03" fill="#8cc540"/><rect x="380.61" y="41.78" width="3.01" height="3.03" fill="#8cc540"/><rect x="383.57" y="41.78" width="3.01" height="3.03" fill="#8cc540"/><rect x="386.53" y="41.78" width="3.01" height="3.03" fill="#52a257"/><rect x="389.49" y="41.78" width="3.01" height="3.03" fill="#52a257"/><rect x="392.45" y="41.78" width="3.01" height="3.03" fill="#52a257"/><rect x="395.41" y="41.78" width="3.01" height="3.03" fill="#52a257"/><rect x="398.37" y="41.78" width="3.01" height="3.03" fill="#8cc540"/><rect x="401.33" y="41.78" width="3.01" height="3.03" fill="#52a257"/><rect x="404.29" y="41.78" width="3.01" height="3.03" fill="#52a257"/><rect x="407.26" y="41.78" width="3.01" height="3.03" fill="#52a257"/><rect x="410.22" y="41.78" width="3.01" height="3.03" fill="#52a257"/><rect x="413.18" y="41.78" width="3.01" height="3.03" fill="#52a257"/><rect x="416.14" y="41.78" width="3.01" height="3.03" fill="#52a257"/><rect x="365.80" y="44.76" width="3.01" height="3.03" fill="#8cc540"/><rect x="368.76" y="44.76" width="3.01" height="3.03" fill="#8cc540"/><rect x="371.72" y="44.76" width="3.01" height="3.03" fill="#3ab5a5"/><rect x="374.68" y="44.76" width="3.01" height="3.03" fill="#3ab5a5"/><rect x="377.64" y="44.76" width="3.01" height="3.03" fill="#8cc540"/><rect x="380.61" y="44.76" width="3.01" height="3.03" fill="#8cc540"/><rect x="383.57" y="44.76" width="3.01" height="3.03" fill="#8cc540"/><rect x="386.53" y="44.76" width="3.01" height="3.03" fill="#52a257"/><rect x="389.49" y="44.76" width="3.01" height="3.03" fill="#52a257"/><rect x="392.45" y="44.76" width="3.01" height="3.03" fill="#52a257"/><rect x="395.41" y="44.76" width="3.01" height="3.03" fill="#52a257"/><rect x="398.37" y="44.76" width="3.01" height="3.03" fill="#8cc540"/><rect x="401.33" y="44.76" width="3.01" height="3.03" fill="#8cc540"/><rect x="404.29" y="44.76" width="3.01" height="3.03" fill="#52a257"/><rect x="407.26" y="44.76" width="3.01" height="3.03" fill="#52a257"/><rect x="410.22" y="44.76" width="3.01" height="3.03" fill="#52a257"/><rect x="413.18" y="44.76" width="3.01" height="3.03" fill="#52a257"/><rect x="416.14" y="44.76" width="3.01" height="3.03" fill="#52a257"/><rect x="365.80" y="47.73" width="3.01" height="3.03" fill="#8cc540"/><rect x="368.76" y="47.73" width="3.01" height="3.03" fill="#8cc540"/><rect x="371.72" y="47.73" width="3.01" height="3.03" fill="#8cc540"/><rect x="374.68" y="47.73" width="3.01" height="3.03" fill="#3ab5a5"/><rect x="377.64" y="47.73" width="3.01" height="3.03" fill="#8cc540"/><rect x="380.61" y="47.73" width="3.01" height="3.03" fill="#3ab5a5"/><rect x="383.57" y="47.73" width="3.01" height="3.03" fill="#8cc540"/><rect x="386.53" y="47.73" width="3.01" height="3.03" fill="#52a257"/><rect x="389.49" y="47.73" width="3.01" height="3.03" fill="#6aa67c"/><rect x="392.45" y="47.73" width="3.01" height="3.03" fill="#6aa67c"/><rect x="395.41" y="47.73" width="3.01" height="3.03" fill="#52a257"/><rect x="398.37" y="47.73" width="3.01" height="3.03" fill="#52a257"/><rect x="401.33" y="47.73" width="3.01" height="3.03" fill="#8cc540"/><rect x="404.29" y="47.73" width="3.01" height="3.03" fill="#8cc540"/><rect x="407.26" y="47.73" width="3.01" height="3.03" fill="#6cc35c"/><rect x="410.22" y="47.73" width="3.01" height="3.03" fill="#3ab5a5"/><rect x="413.18" y="47.73" width="3.01" height="3.03" fill="#3ab5a5"/><rect x="416.14" y="47.73" width="3.01" height="3.03" fill="#3ab5a5"/><rect x="365.80" y="50.71" width="3.01" height="3.03" fill="#8cc540"/><rect x="368.76" y="50.71" width="3.01" height="3.03" fill="#8cc540"/><rect x="371.72" y="50.71" width="3.01" height="3.03" fill="#8cc540"/><rect x="374.68" y="50.71" width="3.01" height="3.03" fill="#6cc35c"/><rect x="377.64" y="50.71" width="3.01" height="3.03" fill="#3ab5a5"/><rect x="380.61" y="50.71" width="3.01" height="3.03" fill="#8cc540"/><rect x="383.57" y="50.71" width="3.01" height="3.03" fill="#8cc540"/><rect x="386.53" y="50.71" width="3.01" height="3.03" fill="#8cc540"/><rect x="389.49" y="50.71" width="3.01" height="3.03" fill="#6aa67c"/><rect x="392.45" y="50.71" width="3.01" height="3.03" fill="#6aa67c"/><rect x="395.41" y="50.71" width="3.01" height="3.03" fill="#52a257"/><rect x="398.37" y="50.71" width="3.01" height="3.03" fill="#8cc540"/><rect x="401.33" y="50.71" width="3.01" height="3.03" fill="#6cc35c"/><rect x="404.29" y="50.71" width="3.01" height="3.03" fill="#3ab5a5"/><rect x="407.26" y="50.71" width="3.01" height="3.03" fill="#3ab5a5"/><rect x="410.22" y="50.71" width="3.01" height="3.03" fill="#3ab5a5"/><rect x="413.18" y="50.71" width="3.01" height="3.03" fill="#3ab5a5"/><rect x="416.14" y="50.71" width="3.01" height="3.03" fill="#62c4cc"/><rect x="365.80" y="53.69" width="3.01" height="3.03" fill="#8cc540"/><rect x="368.76" y="53.69" width="3.01" height="3.03" fill="#8cc540"/><rect x="371.72" y="53.69" width="3.01" height="3.03" fill="#6cc35c"/><rect x="374.68" y="53.69" width="3.01" height="3.03" fill="#3ab5a5"/><rect x="377.64" y="53.69" width="3.01" height="3.03" fill="#3ab5a5"/><rect x="380.61" y="53.69" width="3.01" height="3.03" fill="#3ab5a5"/><rect x="383.57" y="53.69" width="3.01" height="3.03" fill="#8cc540"/><rect x="386.53" y="53.69" width="3.01" height="3.03" fill="#8cc540"/><rect x="389.49" y="53.69" width="3.01" height="3.03" fill="#6aa67c"/><rect x="392.45" y="53.69" width="3.01" height="3.03" fill="#6aa67c"/><rect x="395.41" y="53.69" width="3.01" height="3.03" fill="#6aa67c"/><rect x="398.37" y="53.69" width="3.01" height="3.03" fill="#8cc540"/><rect x="401.33" y="53.69" width="3.01" height="3.03" fill="#8cc540"/><rect x="404.29" y="53.69" width="3.01" height="3.03" fill="#6cc35c"/><rect x="407.26" y="53.69" width="3.01" height="3.03" fill="#3ab5a5"/><rect x="410.22" y="53.69" width="3.01" height="3.03" fill="#3ab5a5"/><rect x="413.18" y="53.69" width="3.01" height="3.03" fill="#3ab5a5"/><rect x="416.14" y="53.69" width="3.01" height="3.03" fill="#62c4cc"/><rect x="365.80" y="56.67" width="3.01" height="3.03" fill="#8cc540"/><rect x="368.76" y="56.67" width="3.01" height="3.03" fill="#8cc540"/><rect x="371.72" y="56.67" width="3.01" height="3.03" fill="#3ab5a5"/><rect x="374.68" y="56.67" width="3.01" height="3.03" fill="#3ab5a5"/><rect x="377.64" y="56.67" width="3.01" height="3.03" fill="#3ab5a5"/><rect x="380.61" y="56.67" width="3.01" height="3.03" fill="#3ab5a5"/><rect x="383.57" y="56.67" width="3.01" height="3.03" fill="#8cc540"/><rect x="386.53" y="56.67" width="3.01" height="3.03" fill="#8cc540"/><rect x="389.49" y="56.67" width="3.01" height="3.03" fill="#6aa67c"/><rect x="392.45" y="56.67" width="3.01" height="3.03" fill="#6aa67c"/><rect x="395.41" y="56.67" width="3.01" height="3.03" fill="#6aa67c"/><rect x="398.37" y="56.67" width="3.01" height="3.03" fill="#8cc540"/><rect x="401.33" y="56.67" width="3.01" height="3.03" fill="#8cc540"/><rect x="404.29" y="56.67" width="3.01" height="3.03" fill="#6cc35c"/><rect x="407.26" y="56.67" width="3.01" height="3.03" fill="#6cc35c"/><rect x="410.22" y="56.67" width="3.01" height="3.03" fill="#3ab5a5"/><rect x="413.18" y="56.67" width="3.01" height="3.03" fill="#3ab5a5"/><rect x="416.14" y="56.67" width="3.01" height="3.03" fill="#6cc35c"/><rect x="365.80" y="59.64" width="3.01" height="3.03" fill="#8cc540"/><rect x="368.76" y="59.64" width="3.01" height="3.03" fill="#8cc540"/><rect x="371.72" y="59.64" width="3.01" height="3.03" fill="#3ab5a5"/><rect x="374.68" y="59.64" width="3.01" height="3.03" fill="#3ab5a5"/><rect x="377.64" y="59.64" width="3.01" height="3.03" fill="#3ab5a5"/><rect x="380.61" y="59.64" width="3.01" height="3.03" fill="#3ab5a5"/><rect x="383.57" y="59.64" width="3.01" height="3.03" fill="#8cc540"/><rect x="386.53" y="59.64" width="3.01" height="3.03" fill="#52a257"/><rect x="389.49" y="59.64" width="3.01" height="3.03" fill="#52a257"/><rect x="392.45" y="59.64" width="3.01" height="3.03" fill="#52a257"/><rect x="395.41" y="59.64" width="3.01" height="3.03" fill="#8cc540"/><rect x="398.37" y="59.64" width="3.01" height="3.03" fill="#8cc540"/><rect x="401.33" y="59.64" width="3.01" height="3.03" fill="#8cc540"/><rect x="404.29" y="59.64" width="3.01" height="3.03" fill="#8cc540"/><rect x="407.26" y="59.64" width="3.01" height="3.03" fill="#8cc540"/><rect x="410.22" y="59.64" width="3.01" height="3.03" fill="#8cc540"/><rect x="413.18" y="59.64" width="3.01" height="3.03" fill="#8cc540"/><rect x="416.14" y="59.64" width="3.01" height="3.03" fill="#52a257"/><rect x="365.80" y="62.62" width="3.01" height="3.03" fill="#6cc35c"/><rect x="368.76" y="62.62" width="3.01" height="3.03" fill="#6cc35c"/><rect x="371.72" y="62.62" width="3.01" height="3.03" fill="#3ab5a5"/><rect x="374.68" y="62.62" width="3.01" height="3.03" fill="#3ab5a5"/><rect x="377.64" y="62.62" width="3.01" height="3.03" fill="#8cc540"/><rect x="380.61" y="62.62" width="3.01" height="3.03" fill="#8cc540"/><rect x="383.57" y="62.62" width="3.01" height="3.03" fill="#8cc540"/><rect x="386.53" y="62.62" width="3.01" height="3.03" fill="#8cc540"/><rect x="389.49" y="62.62" width="3.01" height="3.03" fill="#8cc540"/><rect x="392.45" y="62.62" width="3.01" height="3.03" fill="#8cc540"/><rect x="395.41" y="62.62" width="3.01" height="3.03" fill="#8cc540"/><rect x="398.37" y="62.62" width="3.01" height="3.03" fill="#8cc540"/><rect x="401.33" y="62.62" width="3.01" height="3.03" fill="#8cc540"/><rect x="404.29" y="62.62" width="3.01" height="3.03" fill="#8cc540"/><rect x="407.26" y="62.62" width="3.01" height="3.03" fill="#8cc540"/><rect x="410.22" y="62.62" width="3.01" height="3.03" fill="#8cc540"/><rect x="413.18" y="62.62" width="3.01" height="3.03" fill="#8cc540"/><rect x="416.14" y="62.62" width="3.01" height="3.03" fill="#52a257"/></g>
<g shape-rendering="crispEdges"><rect x="115.60" y="87.60" width="12.53" height="12.77" fill="#4db39f"/><rect x="128.08" y="87.60" width="12.53" height="12.77" fill="#3a9f80"/><rect x="140.56" y="87.60" width="12.53" height="12.77" fill="#2e9470"/><rect x="153.04" y="87.60" width="12.53" height="12.77" fill="#1e7a4e"/><rect x="165.52" y="87.60" width="12.53" height="12.77" fill="#1e7a4e"/><rect x="115.60" y="100.32" width="12.53" height="12.77" fill="#3ba082"/><rect x="128.08" y="100.32" width="12.53" height="12.77" fill="#2f9473"/><rect x="140.56" y="100.32" width="12.53" height="12.77" fill="#38997c"/><rect x="153.04" y="100.32" width="12.53" height="12.77" fill="#38997c"/><rect x="165.52" y="100.32" width="12.53" height="12.77" fill="#2a9066"/><rect x="115.60" y="113.04" width="12.53" height="12.77" fill="#3ba082"/><rect x="128.08" y="113.04" width="12.53" height="12.77" fill="#2f9473"/><rect x="140.56" y="113.04" width="12.53" height="12.77" fill="#38997c"/><rect x="153.04" y="113.04" width="12.53" height="12.77" fill="#38997c"/><rect x="165.52" y="113.04" width="12.53" height="12.77" fill="#2a9066"/><rect x="115.60" y="125.76" width="12.53" height="12.77" fill="#24864e"/><rect x="128.08" y="125.76" width="12.53" height="12.77" fill="#1e7548"/><rect x="140.56" y="125.76" width="12.53" height="12.77" fill="#1e7548"/><rect x="153.04" y="125.76" width="12.53" height="12.77" fill="#45aa8e"/><rect x="165.52" y="125.76" width="12.53" height="12.77" fill="#5cbab4"/><rect x="115.60" y="138.48" width="12.53" height="12.77" fill="#5fbcbc"/><rect x="128.08" y="138.48" width="12.53" height="12.77" fill="#5fbcbc"/><rect x="140.56" y="138.48" width="12.53" height="12.77" fill="#6cc0c8"/><rect x="153.04" y="138.48" width="12.53" height="12.77" fill="#9dd0dc"/><rect x="165.52" y="138.48" width="12.53" height="12.77" fill="#9dd0dc"/></g>
<g shape-rendering="crispEdges"><rect x="240.50" y="87.60" width="12.49" height="12.77" fill="#d68078"/><rect x="252.94" y="87.60" width="12.49" height="12.77" fill="#e0c477"/><rect x="265.38" y="87.60" width="12.49" height="12.77" fill="#a9cfc4"/><rect x="277.82" y="87.60" width="12.49" height="12.77" fill="#5fb7c2"/><rect x="290.26" y="87.60" width="12.49" height="12.77" fill="#5fb7c2"/><rect x="240.50" y="100.32" width="12.49" height="12.77" fill="#daa874"/><rect x="252.94" y="100.32" width="12.49" height="12.77" fill="#bccca6"/><rect x="265.38" y="100.32" width="12.49" height="12.77" fill="#bccca6"/><rect x="277.82" y="100.32" width="12.49" height="12.77" fill="#bccca6"/><rect x="290.26" y="100.32" width="12.49" height="12.77" fill="#a9cfc4"/><rect x="240.50" y="113.04" width="12.49" height="12.77" fill="#daa874"/><rect x="252.94" y="113.04" width="12.49" height="12.77" fill="#bccca6"/><rect x="265.38" y="113.04" width="12.49" height="12.77" fill="#bccca6"/><rect x="277.82" y="113.04" width="12.49" height="12.77" fill="#bccca6"/><rect x="290.26" y="113.04" width="12.49" height="12.77" fill="#a9cfc4"/><rect x="240.50" y="125.76" width="12.49" height="12.77" fill="#bccca6"/><rect x="252.94" y="125.76" width="12.49" height="12.77" fill="#78c2e2"/><rect x="265.38" y="125.76" width="12.49" height="12.77" fill="#78c2e2"/><rect x="277.82" y="125.76" width="12.49" height="12.77" fill="#e0c477"/><rect x="290.26" y="125.76" width="12.49" height="12.77" fill="#d48070"/><rect x="240.50" y="138.48" width="12.49" height="12.77" fill="#cc6478"/><rect x="252.94" y="138.48" width="12.49" height="12.77" fill="#cc6478"/><rect x="265.38" y="138.48" width="12.49" height="12.77" fill="#cc6478"/><rect x="277.82" y="138.48" width="12.49" height="12.77" fill="#b84f9a"/><rect x="290.26" y="138.48" width="12.49" height="12.77" fill="#ac4aa0"/></g>
<g shape-rendering="crispEdges"><rect x="362.90" y="87.60" width="12.45" height="12.77" fill="#cc6878"/><rect x="375.30" y="87.60" width="12.45" height="12.77" fill="#dca878"/><rect x="387.70" y="87.60" width="12.45" height="12.77" fill="#bccca6"/><rect x="400.10" y="87.60" width="12.45" height="12.77" fill="#7cc4e0"/><rect x="412.50" y="87.60" width="12.45" height="12.77" fill="#7cc4e0"/><rect x="362.90" y="100.32" width="12.45" height="12.77" fill="#d89478"/><rect x="375.30" y="100.32" width="12.45" height="12.77" fill="#dcc478"/><rect x="387.70" y="100.32" width="12.45" height="12.77" fill="#d0cc8a"/><rect x="400.10" y="100.32" width="12.45" height="12.77" fill="#d0cc8a"/><rect x="412.50" y="100.32" width="12.45" height="12.77" fill="#bccca6"/><rect x="362.90" y="113.04" width="12.45" height="12.77" fill="#d89478"/><rect x="375.30" y="113.04" width="12.45" height="12.77" fill="#dcc478"/><rect x="387.70" y="113.04" width="12.45" height="12.77" fill="#d0cc8a"/><rect x="400.10" y="113.04" width="12.45" height="12.77" fill="#d0cc8a"/><rect x="412.50" y="113.04" width="12.45" height="12.77" fill="#bccca6"/><rect x="362.90" y="125.76" width="12.45" height="12.77" fill="#d0cc8a"/><rect x="375.30" y="125.76" width="12.45" height="12.77" fill="#88c6dc"/><rect x="387.70" y="125.76" width="12.45" height="12.77" fill="#88c6dc"/><rect x="400.10" y="125.76" width="12.45" height="12.77" fill="#dca878"/><rect x="412.50" y="125.76" width="12.45" height="12.77" fill="#cc6878"/><rect x="362.90" y="138.48" width="12.45" height="12.77" fill="#c05a8c"/><rect x="375.30" y="138.48" width="12.45" height="12.77" fill="#c05a8c"/><rect x="387.70" y="138.48" width="12.45" height="12.77" fill="#cc6878"/><rect x="400.10" y="138.48" width="12.45" height="12.77" fill="#b8509c"/><rect x="412.50" y="138.48" width="12.45" height="12.77" fill="#b04ca4"/></g>
<defs><filter id="esiblur" color-interpolation-filters="sRGB" x="-5%" y="-5%" width="110%" height="110%"><feGaussianBlur stdDeviation="1.3 0.8" color-interpolation-filters="sRGB"/></filter><clipPath id="esiclip"><rect x="163.3" y="228.7" width="45.4" height="46.6"/></clipPath></defs>
<g clip-path="url(#esiclip)"><g filter="url(#esiblur)"><rect x="155" y="220" width="62" height="64" fill="#ea5a48"/><rect x="157.62" y="224.82" width="3.54" height="2.64" fill="#da3488"/><rect x="160.46" y="224.82" width="3.54" height="2.64" fill="#da3488"/><rect x="163.30" y="224.82" width="3.54" height="2.64" fill="#da3488"/><rect x="166.14" y="224.82" width="3.54" height="2.64" fill="#e84a54"/><rect x="168.98" y="224.82" width="3.54" height="2.64" fill="#e84a54"/><rect x="171.81" y="224.82" width="3.54" height="2.64" fill="#e84a54"/><rect x="174.65" y="224.82" width="3.54" height="2.64" fill="#e84a54"/><rect x="177.49" y="224.82" width="3.54" height="2.64" fill="#e84a54"/><rect x="180.33" y="224.82" width="3.54" height="2.64" fill="#e84a54"/><rect x="183.16" y="224.82" width="3.54" height="2.64" fill="#e84a54"/><rect x="186.00" y="224.82" width="3.54" height="2.64" fill="#da3488"/><rect x="188.84" y="224.82" width="3.54" height="2.64" fill="#da3488"/><rect x="191.68" y="224.82" width="3.54" height="2.64" fill="#da3488"/><rect x="194.51" y="224.82" width="3.54" height="2.64" fill="#da3488"/><rect x="197.35" y="224.82" width="3.54" height="2.64" fill="#da3488"/><rect x="200.19" y="224.82" width="3.54" height="2.64" fill="#da3488"/><rect x="203.03" y="224.82" width="3.54" height="2.64" fill="#6a70f0"/><rect x="205.86" y="224.82" width="3.54" height="2.64" fill="#6a70f0"/><rect x="208.70" y="224.82" width="3.54" height="2.64" fill="#6a70f0"/><rect x="211.54" y="224.82" width="3.54" height="2.64" fill="#6a70f0"/><rect x="157.62" y="226.76" width="3.54" height="2.64" fill="#da3488"/><rect x="160.46" y="226.76" width="3.54" height="2.64" fill="#da3488"/><rect x="163.30" y="226.76" width="3.54" height="2.64" fill="#da3488"/><rect x="166.14" y="226.76" width="3.54" height="2.64" fill="#e84a54"/><rect x="168.98" y="226.76" width="3.54" height="2.64" fill="#e84a54"/><rect x="171.81" y="226.76" width="3.54" height="2.64" fill="#e84a54"/><rect x="174.65" y="226.76" width="3.54" height="2.64" fill="#e84a54"/><rect x="177.49" y="226.76" width="3.54" height="2.64" fill="#e84a54"/><rect x="180.33" y="226.76" width="3.54" height="2.64" fill="#e84a54"/><rect x="183.16" y="226.76" width="3.54" height="2.64" fill="#e84a54"/><rect x="186.00" y="226.76" width="3.54" height="2.64" fill="#da3488"/><rect x="188.84" y="226.76" width="3.54" height="2.64" fill="#da3488"/><rect x="191.68" y="226.76" width="3.54" height="2.64" fill="#da3488"/><rect x="194.51" y="226.76" width="3.54" height="2.64" fill="#da3488"/><rect x="197.35" y="226.76" width="3.54" height="2.64" fill="#da3488"/><rect x="200.19" y="226.76" width="3.54" height="2.64" fill="#da3488"/><rect x="203.03" y="226.76" width="3.54" height="2.64" fill="#6a70f0"/><rect x="205.86" y="226.76" width="3.54" height="2.64" fill="#6a70f0"/><rect x="208.70" y="226.76" width="3.54" height="2.64" fill="#6a70f0"/><rect x="211.54" y="226.76" width="3.54" height="2.64" fill="#6a70f0"/><rect x="157.62" y="228.70" width="3.54" height="2.64" fill="#da3488"/><rect x="160.46" y="228.70" width="3.54" height="2.64" fill="#da3488"/><rect x="163.30" y="228.70" width="3.54" height="2.64" fill="#da3488"/><rect x="166.14" y="228.70" width="3.54" height="2.64" fill="#e84a54"/><rect x="168.98" y="228.70" width="3.54" height="2.64" fill="#e84a54"/><rect x="171.81" y="228.70" width="3.54" height="2.64" fill="#e84a54"/><rect x="174.65" y="228.70" width="3.54" height="2.64" fill="#e84a54"/><rect x="177.49" y="228.70" width="3.54" height="2.64" fill="#e84a54"/><rect x="180.33" y="228.70" width="3.54" height="2.64" fill="#e84a54"/><rect x="183.16" y="228.70" width="3.54" height="2.64" fill="#e84a54"/><rect x="186.00" y="228.70" width="3.54" height="2.64" fill="#da3488"/><rect x="188.84" y="228.70" width="3.54" height="2.64" fill="#da3488"/><rect x="191.68" y="228.70" width="3.54" height="2.64" fill="#da3488"/><rect x="194.51" y="228.70" width="3.54" height="2.64" fill="#da3488"/><rect x="197.35" y="228.70" width="3.54" height="2.64" fill="#da3488"/><rect x="200.19" y="228.70" width="3.54" height="2.64" fill="#da3488"/><rect x="203.03" y="228.70" width="3.54" height="2.64" fill="#6a70f0"/><rect x="205.86" y="228.70" width="3.54" height="2.64" fill="#6a70f0"/><rect x="208.70" y="228.70" width="3.54" height="2.64" fill="#6a70f0"/><rect x="211.54" y="228.70" width="3.54" height="2.64" fill="#6a70f0"/><rect x="157.62" y="230.64" width="3.54" height="2.64" fill="#f47620"/><rect x="160.46" y="230.64" width="3.54" height="2.64" fill="#f47620"/><rect x="163.30" y="230.64" width="3.54" height="2.64" fill="#f47620"/><rect x="166.14" y="230.64" width="3.54" height="2.64" fill="#f47620"/><rect x="168.98" y="230.64" width="3.54" height="2.64" fill="#f47620"/><rect x="171.81" y="230.64" width="3.54" height="2.64" fill="#f47620"/><rect x="174.65" y="230.64" width="3.54" height="2.64" fill="#f47620"/><rect x="177.49" y="230.64" width="3.54" height="2.64" fill="#f47620"/><rect x="180.33" y="230.64" width="3.54" height="2.64" fill="#e84a54"/><rect x="183.16" y="230.64" width="3.54" height="2.64" fill="#e84a54"/><rect x="186.00" y="230.64" width="3.54" height="2.64" fill="#da3488"/><rect x="188.84" y="230.64" width="3.54" height="2.64" fill="#6a70f0"/><rect x="191.68" y="230.64" width="3.54" height="2.64" fill="#6a70f0"/><rect x="194.51" y="230.64" width="3.54" height="2.64" fill="#da3488"/><rect x="197.35" y="230.64" width="3.54" height="2.64" fill="#da3488"/><rect x="200.19" y="230.64" width="3.54" height="2.64" fill="#da3488"/><rect x="203.03" y="230.64" width="3.54" height="2.64" fill="#da3488"/><rect x="205.86" y="230.64" width="3.54" height="2.64" fill="#6a70f0"/><rect x="208.70" y="230.64" width="3.54" height="2.64" fill="#6a70f0"/><rect x="211.54" y="230.64" width="3.54" height="2.64" fill="#6a70f0"/><rect x="157.62" y="232.58" width="3.54" height="2.64" fill="#f47620"/><rect x="160.46" y="232.58" width="3.54" height="2.64" fill="#f47620"/><rect x="163.30" y="232.58" width="3.54" height="2.64" fill="#f47620"/><rect x="166.14" y="232.58" width="3.54" height="2.64" fill="#f47620"/><rect x="168.98" y="232.58" width="3.54" height="2.64" fill="#f47620"/><rect x="171.81" y="232.58" width="3.54" height="2.64" fill="#e84a54"/><rect x="174.65" y="232.58" width="3.54" height="2.64" fill="#f47620"/><rect x="177.49" y="232.58" width="3.54" height="2.64" fill="#f47620"/><rect x="180.33" y="232.58" width="3.54" height="2.64" fill="#e84a54"/><rect x="183.16" y="232.58" width="3.54" height="2.64" fill="#f05a28"/><rect x="186.00" y="232.58" width="3.54" height="2.64" fill="#e84a54"/><rect x="188.84" y="232.58" width="3.54" height="2.64" fill="#6a70f0"/><rect x="191.68" y="232.58" width="3.54" height="2.64" fill="#6a70f0"/><rect x="194.51" y="232.58" width="3.54" height="2.64" fill="#da3488"/><rect x="197.35" y="232.58" width="3.54" height="2.64" fill="#da3488"/><rect x="200.19" y="232.58" width="3.54" height="2.64" fill="#e84a54"/><rect x="203.03" y="232.58" width="3.54" height="2.64" fill="#da3488"/><rect x="205.86" y="232.58" width="3.54" height="2.64" fill="#da3488"/><rect x="208.70" y="232.58" width="3.54" height="2.64" fill="#da3488"/><rect x="211.54" y="232.58" width="3.54" height="2.64" fill="#da3488"/><rect x="157.62" y="234.52" width="3.54" height="2.64" fill="#f47620"/><rect x="160.46" y="234.52" width="3.54" height="2.64" fill="#f47620"/><rect x="163.30" y="234.52" width="3.54" height="2.64" fill="#f47620"/><rect x="166.14" y="234.52" width="3.54" height="2.64" fill="#f47620"/><rect x="168.98" y="234.52" width="3.54" height="2.64" fill="#f47620"/><rect x="171.81" y="234.52" width="3.54" height="2.64" fill="#f47620"/><rect x="174.65" y="234.52" width="3.54" height="2.64" fill="#f47620"/><rect x="177.49" y="234.52" width="3.54" height="2.64" fill="#e84a54"/><rect x="180.33" y="234.52" width="3.54" height="2.64" fill="#e84a54"/><rect x="183.16" y="234.52" width="3.54" height="2.64" fill="#da3488"/><rect x="186.00" y="234.52" width="3.54" height="2.64" fill="#e84a54"/><rect x="188.84" y="234.52" width="3.54" height="2.64" fill="#e84a54"/><rect x="191.68" y="234.52" width="3.54" height="2.64" fill="#da3488"/><rect x="194.51" y="234.52" width="3.54" height="2.64" fill="#e84a54"/><rect x="197.35" y="234.52" width="3.54" height="2.64" fill="#da3488"/><rect x="200.19" y="234.52" width="3.54" height="2.64" fill="#9c50d8"/><rect x="203.03" y="234.52" width="3.54" height="2.64" fill="#da3488"/><rect x="205.86" y="234.52" width="3.54" height="2.64" fill="#da3488"/><rect x="208.70" y="234.52" width="3.54" height="2.64" fill="#da3488"/><rect x="211.54" y="234.52" width="3.54" height="2.64" fill="#da3488"/><rect x="157.62" y="236.47" width="3.54" height="2.64" fill="#f47620"/><rect x="160.46" y="236.47" width="3.54" height="2.64" fill="#f47620"/><rect x="163.30" y="236.47" width="3.54" height="2.64" fill="#f47620"/><rect x="166.14" y="236.47" width="3.54" height="2.64" fill="#f47620"/><rect x="168.98" y="236.47" width="3.54" height="2.64" fill="#f47620"/><rect x="171.81" y="236.47" width="3.54" height="2.64" fill="#f47620"/><rect x="174.65" y="236.47" width="3.54" height="2.64" fill="#e84a54"/><rect x="177.49" y="236.47" width="3.54" height="2.64" fill="#da3488"/><rect x="180.33" y="236.47" width="3.54" height="2.64" fill="#da3488"/><rect x="183.16" y="236.47" width="3.54" height="2.64" fill="#e84a54"/><rect x="186.00" y="236.47" width="3.54" height="2.64" fill="#f47620"/><rect x="188.84" y="236.47" width="3.54" height="2.64" fill="#e84a54"/><rect x="191.68" y="236.47" width="3.54" height="2.64" fill="#e84a54"/><rect x="194.51" y="236.47" width="3.54" height="2.64" fill="#f47620"/><rect x="197.35" y="236.47" width="3.54" height="2.64" fill="#da3488"/><rect x="200.19" y="236.47" width="3.54" height="2.64" fill="#da3488"/><rect x="203.03" y="236.47" width="3.54" height="2.64" fill="#e84a54"/><rect x="205.86" y="236.47" width="3.54" height="2.64" fill="#da3488"/><rect x="208.70" y="236.47" width="3.54" height="2.64" fill="#da3488"/><rect x="211.54" y="236.47" width="3.54" height="2.64" fill="#da3488"/><rect x="157.62" y="238.41" width="3.54" height="2.64" fill="#f47620"/><rect x="160.46" y="238.41" width="3.54" height="2.64" fill="#f47620"/><rect x="163.30" y="238.41" width="3.54" height="2.64" fill="#f47620"/><rect x="166.14" y="238.41" width="3.54" height="2.64" fill="#f47620"/><rect x="168.98" y="238.41" width="3.54" height="2.64" fill="#f47620"/><rect x="171.81" y="238.41" width="3.54" height="2.64" fill="#f47620"/><rect x="174.65" y="238.41" width="3.54" height="2.64" fill="#da3488"/><rect x="177.49" y="238.41" width="3.54" height="2.64" fill="#9c50d8"/><rect x="180.33" y="238.41" width="3.54" height="2.64" fill="#6a70f0"/><rect x="183.16" y="238.41" width="3.54" height="2.64" fill="#da3488"/><rect x="186.00" y="238.41" width="3.54" height="2.64" fill="#f47620"/><rect x="188.84" y="238.41" width="3.54" height="2.64" fill="#f47620"/><rect x="191.68" y="238.41" width="3.54" height="2.64" fill="#e84a54"/><rect x="194.51" y="238.41" width="3.54" height="2.64" fill="#e84a54"/><rect x="197.35" y="238.41" width="3.54" height="2.64" fill="#da3488"/><rect x="200.19" y="238.41" width="3.54" height="2.64" fill="#e84a54"/><rect x="203.03" y="238.41" width="3.54" height="2.64" fill="#da3488"/><rect x="205.86" y="238.41" width="3.54" height="2.64" fill="#da3488"/><rect x="208.70" y="238.41" width="3.54" height="2.64" fill="#da3488"/><rect x="211.54" y="238.41" width="3.54" height="2.64" fill="#da3488"/><rect x="157.62" y="240.35" width="3.54" height="2.64" fill="#f47620"/><rect x="160.46" y="240.35" width="3.54" height="2.64" fill="#f47620"/><rect x="163.30" y="240.35" width="3.54" height="2.64" fill="#f47620"/><rect x="166.14" y="240.35" width="3.54" height="2.64" fill="#f47620"/><rect x="168.98" y="240.35" width="3.54" height="2.64" fill="#f47620"/><rect x="171.81" y="240.35" width="3.54" height="2.64" fill="#e84a54"/><rect x="174.65" y="240.35" width="3.54" height="2.64" fill="#e84a54"/><rect x="177.49" y="240.35" width="3.54" height="2.64" fill="#da3488"/><rect x="180.33" y="240.35" width="3.54" height="2.64" fill="#6a70f0"/><rect x="183.16" y="240.35" width="3.54" height="2.64" fill="#9c50d8"/><rect x="186.00" y="240.35" width="3.54" height="2.64" fill="#f47620"/><rect x="188.84" y="240.35" width="3.54" height="2.64" fill="#e84a54"/><rect x="191.68" y="240.35" width="3.54" height="2.64" fill="#e84a54"/><rect x="194.51" y="240.35" width="3.54" height="2.64" fill="#f47620"/><rect x="197.35" y="240.35" width="3.54" height="2.64" fill="#e84a54"/><rect x="200.19" y="240.35" width="3.54" height="2.64" fill="#e84a54"/><rect x="203.03" y="240.35" width="3.54" height="2.64" fill="#e84a54"/><rect x="205.86" y="240.35" width="3.54" height="2.64" fill="#da3488"/><rect x="208.70" y="240.35" width="3.54" height="2.64" fill="#da3488"/><rect x="211.54" y="240.35" width="3.54" height="2.64" fill="#da3488"/><rect x="157.62" y="242.29" width="3.54" height="2.64" fill="#f47620"/><rect x="160.46" y="242.29" width="3.54" height="2.64" fill="#f47620"/><rect x="163.30" y="242.29" width="3.54" height="2.64" fill="#f47620"/><rect x="166.14" y="242.29" width="3.54" height="2.64" fill="#f47620"/><rect x="168.98" y="242.29" width="3.54" height="2.64" fill="#f47620"/><rect x="171.81" y="242.29" width="3.54" height="2.64" fill="#f47620"/><rect x="174.65" y="242.29" width="3.54" height="2.64" fill="#f47620"/><rect x="177.49" y="242.29" width="3.54" height="2.64" fill="#e84a54"/><rect x="180.33" y="242.29" width="3.54" height="2.64" fill="#9c50d8"/><rect x="183.16" y="242.29" width="3.54" height="2.64" fill="#da3488"/><rect x="186.00" y="242.29" width="3.54" height="2.64" fill="#f47620"/><rect x="188.84" y="242.29" width="3.54" height="2.64" fill="#e84a54"/><rect x="191.68" y="242.29" width="3.54" height="2.64" fill="#f47620"/><rect x="194.51" y="242.29" width="3.54" height="2.64" fill="#e84a54"/><rect x="197.35" y="242.29" width="3.54" height="2.64" fill="#f47620"/><rect x="200.19" y="242.29" width="3.54" height="2.64" fill="#f47620"/><rect x="203.03" y="242.29" width="3.54" height="2.64" fill="#e84a54"/><rect x="205.86" y="242.29" width="3.54" height="2.64" fill="#da3488"/><rect x="208.70" y="242.29" width="3.54" height="2.64" fill="#da3488"/><rect x="211.54" y="242.29" width="3.54" height="2.64" fill="#da3488"/><rect x="157.62" y="244.23" width="3.54" height="2.64" fill="#e84a54"/><rect x="160.46" y="244.23" width="3.54" height="2.64" fill="#e84a54"/><rect x="163.30" y="244.23" width="3.54" height="2.64" fill="#e84a54"/><rect x="166.14" y="244.23" width="3.54" height="2.64" fill="#f47620"/><rect x="168.98" y="244.23" width="3.54" height="2.64" fill="#f47620"/><rect x="171.81" y="244.23" width="3.54" height="2.64" fill="#f47620"/><rect x="174.65" y="244.23" width="3.54" height="2.64" fill="#f47620"/><rect x="177.49" y="244.23" width="3.54" height="2.64" fill="#e84a54"/><rect x="180.33" y="244.23" width="3.54" height="2.64" fill="#e84a54"/><rect x="183.16" y="244.23" width="3.54" height="2.64" fill="#e84a54"/><rect x="186.00" y="244.23" width="3.54" height="2.64" fill="#e84a54"/><rect x="188.84" y="244.23" width="3.54" height="2.64" fill="#e84a54"/><rect x="191.68" y="244.23" width="3.54" height="2.64" fill="#da3488"/><rect x="194.51" y="244.23" width="3.54" height="2.64" fill="#9c50d8"/><rect x="197.35" y="244.23" width="3.54" height="2.64" fill="#e84a54"/><rect x="200.19" y="244.23" width="3.54" height="2.64" fill="#f47620"/><rect x="203.03" y="244.23" width="3.54" height="2.64" fill="#e84a54"/><rect x="205.86" y="244.23" width="3.54" height="2.64" fill="#da3488"/><rect x="208.70" y="244.23" width="3.54" height="2.64" fill="#da3488"/><rect x="211.54" y="244.23" width="3.54" height="2.64" fill="#da3488"/><rect x="157.62" y="246.17" width="3.54" height="2.64" fill="#f47620"/><rect x="160.46" y="246.17" width="3.54" height="2.64" fill="#f47620"/><rect x="163.30" y="246.17" width="3.54" height="2.64" fill="#f47620"/><rect x="166.14" y="246.17" width="3.54" height="2.64" fill="#f47620"/><rect x="168.98" y="246.17" width="3.54" height="2.64" fill="#f47620"/><rect x="171.81" y="246.17" width="3.54" height="2.64" fill="#f47620"/><rect x="174.65" y="246.17" width="3.54" height="2.64" fill="#e84a54"/><rect x="177.49" y="246.17" width="3.54" height="2.64" fill="#e84a54"/><rect x="180.33" y="246.17" width="3.54" height="2.64" fill="#da3488"/><rect x="183.16" y="246.17" width="3.54" height="2.64" fill="#da3488"/><rect x="186.00" y="246.17" width="3.54" height="2.64" fill="#e84a54"/><rect x="188.84" y="246.17" width="3.54" height="2.64" fill="#da3488"/><rect x="191.68" y="246.17" width="3.54" height="2.64" fill="#9c50d8"/><rect x="194.51" y="246.17" width="3.54" height="2.64" fill="#da3488"/><rect x="197.35" y="246.17" width="3.54" height="2.64" fill="#e84a54"/><rect x="200.19" y="246.17" width="3.54" height="2.64" fill="#f47620"/><rect x="203.03" y="246.17" width="3.54" height="2.64" fill="#e84a54"/><rect x="205.86" y="246.17" width="3.54" height="2.64" fill="#da3488"/><rect x="208.70" y="246.17" width="3.54" height="2.64" fill="#da3488"/><rect x="211.54" y="246.17" width="3.54" height="2.64" fill="#da3488"/><rect x="157.62" y="248.12" width="3.54" height="2.64" fill="#f47620"/><rect x="160.46" y="248.12" width="3.54" height="2.64" fill="#f47620"/><rect x="163.30" y="248.12" width="3.54" height="2.64" fill="#f47620"/><rect x="166.14" y="248.12" width="3.54" height="2.64" fill="#f47620"/><rect x="168.98" y="248.12" width="3.54" height="2.64" fill="#f47620"/><rect x="171.81" y="248.12" width="3.54" height="2.64" fill="#f47620"/><rect x="174.65" y="248.12" width="3.54" height="2.64" fill="#f47620"/><rect x="177.49" y="248.12" width="3.54" height="2.64" fill="#e84a54"/><rect x="180.33" y="248.12" width="3.54" height="2.64" fill="#e84a54"/><rect x="183.16" y="248.12" width="3.54" height="2.64" fill="#da3488"/><rect x="186.00" y="248.12" width="3.54" height="2.64" fill="#e84a54"/><rect x="188.84" y="248.12" width="3.54" height="2.64" fill="#da3488"/><rect x="191.68" y="248.12" width="3.54" height="2.64" fill="#e84a54"/><rect x="194.51" y="248.12" width="3.54" height="2.64" fill="#e84a54"/><rect x="197.35" y="248.12" width="3.54" height="2.64" fill="#f47620"/><rect x="200.19" y="248.12" width="3.54" height="2.64" fill="#e84a54"/><rect x="203.03" y="248.12" width="3.54" height="2.64" fill="#da3488"/><rect x="205.86" y="248.12" width="3.54" height="2.64" fill="#da3488"/><rect x="208.70" y="248.12" width="3.54" height="2.64" fill="#da3488"/><rect x="211.54" y="248.12" width="3.54" height="2.64" fill="#da3488"/><rect x="157.62" y="250.06" width="3.54" height="2.64" fill="#f47620"/><rect x="160.46" y="250.06" width="3.54" height="2.64" fill="#f47620"/><rect x="163.30" y="250.06" width="3.54" height="2.64" fill="#f47620"/><rect x="166.14" y="250.06" width="3.54" height="2.64" fill="#f47620"/><rect x="168.98" y="250.06" width="3.54" height="2.64" fill="#f47620"/><rect x="171.81" y="250.06" width="3.54" height="2.64" fill="#f47620"/><rect x="174.65" y="250.06" width="3.54" height="2.64" fill="#e84a54"/><rect x="177.49" y="250.06" width="3.54" height="2.64" fill="#e84a54"/><rect x="180.33" y="250.06" width="3.54" height="2.64" fill="#e84a54"/><rect x="183.16" y="250.06" width="3.54" height="2.64" fill="#f47620"/><rect x="186.00" y="250.06" width="3.54" height="2.64" fill="#f47620"/><rect x="188.84" y="250.06" width="3.54" height="2.64" fill="#e84a54"/><rect x="191.68" y="250.06" width="3.54" height="2.64" fill="#e84a54"/><rect x="194.51" y="250.06" width="3.54" height="2.64" fill="#da3488"/><rect x="197.35" y="250.06" width="3.54" height="2.64" fill="#e84a54"/><rect x="200.19" y="250.06" width="3.54" height="2.64" fill="#da3488"/><rect x="203.03" y="250.06" width="3.54" height="2.64" fill="#6a70f0"/><rect x="205.86" y="250.06" width="3.54" height="2.64" fill="#da3488"/><rect x="208.70" y="250.06" width="3.54" height="2.64" fill="#da3488"/><rect x="211.54" y="250.06" width="3.54" height="2.64" fill="#da3488"/><rect x="157.62" y="252.00" width="3.54" height="2.64" fill="#f47620"/><rect x="160.46" y="252.00" width="3.54" height="2.64" fill="#f47620"/><rect x="163.30" y="252.00" width="3.54" height="2.64" fill="#f47620"/><rect x="166.14" y="252.00" width="3.54" height="2.64" fill="#f47620"/><rect x="168.98" y="252.00" width="3.54" height="2.64" fill="#f47620"/><rect x="171.81" y="252.00" width="3.54" height="2.64" fill="#f47620"/><rect x="174.65" y="252.00" width="3.54" height="2.64" fill="#f47620"/><rect x="177.49" y="252.00" width="3.54" height="2.64" fill="#f47620"/><rect x="180.33" y="252.00" width="3.54" height="2.64" fill="#e84a54"/><rect x="183.16" y="252.00" width="3.54" height="2.64" fill="#f47620"/><rect x="186.00" y="252.00" width="3.54" height="2.64" fill="#f47620"/><rect x="188.84" y="252.00" width="3.54" height="2.64" fill="#e84a54"/><rect x="191.68" y="252.00" width="3.54" height="2.64" fill="#e84a54"/><rect x="194.51" y="252.00" width="3.54" height="2.64" fill="#f47620"/><rect x="197.35" y="252.00" width="3.54" height="2.64" fill="#e84a54"/><rect x="200.19" y="252.00" width="3.54" height="2.64" fill="#6a70f0"/><rect x="203.03" y="252.00" width="3.54" height="2.64" fill="#6a70f0"/><rect x="205.86" y="252.00" width="3.54" height="2.64" fill="#da3488"/><rect x="208.70" y="252.00" width="3.54" height="2.64" fill="#da3488"/><rect x="211.54" y="252.00" width="3.54" height="2.64" fill="#da3488"/><rect x="157.62" y="253.94" width="3.54" height="2.64" fill="#f47620"/><rect x="160.46" y="253.94" width="3.54" height="2.64" fill="#f47620"/><rect x="163.30" y="253.94" width="3.54" height="2.64" fill="#f47620"/><rect x="166.14" y="253.94" width="3.54" height="2.64" fill="#f47620"/><rect x="168.98" y="253.94" width="3.54" height="2.64" fill="#f47620"/><rect x="171.81" y="253.94" width="3.54" height="2.64" fill="#f47620"/><rect x="174.65" y="253.94" width="3.54" height="2.64" fill="#f47620"/><rect x="177.49" y="253.94" width="3.54" height="2.64" fill="#e84a54"/><rect x="180.33" y="253.94" width="3.54" height="2.64" fill="#e84a54"/><rect x="183.16" y="253.94" width="3.54" height="2.64" fill="#e84a54"/><rect x="186.00" y="253.94" width="3.54" height="2.64" fill="#f47620"/><rect x="188.84" y="253.94" width="3.54" height="2.64" fill="#e84a54"/><rect x="191.68" y="253.94" width="3.54" height="2.64" fill="#f47620"/><rect x="194.51" y="253.94" width="3.54" height="2.64" fill="#e84a54"/><rect x="197.35" y="253.94" width="3.54" height="2.64" fill="#e84a54"/><rect x="200.19" y="253.94" width="3.54" height="2.64" fill="#da3488"/><rect x="203.03" y="253.94" width="3.54" height="2.64" fill="#6a70f0"/><rect x="205.86" y="253.94" width="3.54" height="2.64" fill="#e84a54"/><rect x="208.70" y="253.94" width="3.54" height="2.64" fill="#e84a54"/><rect x="211.54" y="253.94" width="3.54" height="2.64" fill="#e84a54"/><rect x="157.62" y="255.88" width="3.54" height="2.64" fill="#f47620"/><rect x="160.46" y="255.88" width="3.54" height="2.64" fill="#f47620"/><rect x="163.30" y="255.88" width="3.54" height="2.64" fill="#f47620"/><rect x="166.14" y="255.88" width="3.54" height="2.64" fill="#f47620"/><rect x="168.98" y="255.88" width="3.54" height="2.64" fill="#f47620"/><rect x="171.81" y="255.88" width="3.54" height="2.64" fill="#e84a54"/><rect x="174.65" y="255.88" width="3.54" height="2.64" fill="#e84a54"/><rect x="177.49" y="255.88" width="3.54" height="2.64" fill="#e84a54"/><rect x="180.33" y="255.88" width="3.54" height="2.64" fill="#e84a54"/><rect x="183.16" y="255.88" width="3.54" height="2.64" fill="#e84a54"/><rect x="186.00" y="255.88" width="3.54" height="2.64" fill="#e84a54"/><rect x="188.84" y="255.88" width="3.54" height="2.64" fill="#e84a54"/><rect x="191.68" y="255.88" width="3.54" height="2.64" fill="#e84a54"/><rect x="194.51" y="255.88" width="3.54" height="2.64" fill="#da3488"/><rect x="197.35" y="255.88" width="3.54" height="2.64" fill="#e84a54"/><rect x="200.19" y="255.88" width="3.54" height="2.64" fill="#e84a54"/><rect x="203.03" y="255.88" width="3.54" height="2.64" fill="#e84a54"/><rect x="205.86" y="255.88" width="3.54" height="2.64" fill="#da3488"/><rect x="208.70" y="255.88" width="3.54" height="2.64" fill="#da3488"/><rect x="211.54" y="255.88" width="3.54" height="2.64" fill="#da3488"/><rect x="157.62" y="257.82" width="3.54" height="2.64" fill="#f47620"/><rect x="160.46" y="257.82" width="3.54" height="2.64" fill="#f47620"/><rect x="163.30" y="257.82" width="3.54" height="2.64" fill="#f47620"/><rect x="166.14" y="257.82" width="3.54" height="2.64" fill="#f47620"/><rect x="168.98" y="257.82" width="3.54" height="2.64" fill="#e84a54"/><rect x="171.81" y="257.82" width="3.54" height="2.64" fill="#da3488"/><rect x="174.65" y="257.82" width="3.54" height="2.64" fill="#da3488"/><rect x="177.49" y="257.82" width="3.54" height="2.64" fill="#da3488"/><rect x="180.33" y="257.82" width="3.54" height="2.64" fill="#da3488"/><rect x="183.16" y="257.82" width="3.54" height="2.64" fill="#e84a54"/><rect x="186.00" y="257.82" width="3.54" height="2.64" fill="#e84a54"/><rect x="188.84" y="257.82" width="3.54" height="2.64" fill="#e84a54"/><rect x="191.68" y="257.82" width="3.54" height="2.64" fill="#da3488"/><rect x="194.51" y="257.82" width="3.54" height="2.64" fill="#9c50d8"/><rect x="197.35" y="257.82" width="3.54" height="2.64" fill="#9c50d8"/><rect x="200.19" y="257.82" width="3.54" height="2.64" fill="#da3488"/><rect x="203.03" y="257.82" width="3.54" height="2.64" fill="#da3488"/><rect x="205.86" y="257.82" width="3.54" height="2.64" fill="#da3488"/><rect x="208.70" y="257.82" width="3.54" height="2.64" fill="#da3488"/><rect x="211.54" y="257.82" width="3.54" height="2.64" fill="#da3488"/><rect x="157.62" y="259.77" width="3.54" height="2.64" fill="#f47620"/><rect x="160.46" y="259.77" width="3.54" height="2.64" fill="#f47620"/><rect x="163.30" y="259.77" width="3.54" height="2.64" fill="#f47620"/><rect x="166.14" y="259.77" width="3.54" height="2.64" fill="#f47620"/><rect x="168.98" y="259.77" width="3.54" height="2.64" fill="#f47620"/><rect x="171.81" y="259.77" width="3.54" height="2.64" fill="#e84a54"/><rect x="174.65" y="259.77" width="3.54" height="2.64" fill="#e84a54"/><rect x="177.49" y="259.77" width="3.54" height="2.64" fill="#e84a54"/><rect x="180.33" y="259.77" width="3.54" height="2.64" fill="#e84a54"/><rect x="183.16" y="259.77" width="3.54" height="2.64" fill="#e84a54"/><rect x="186.00" y="259.77" width="3.54" height="2.64" fill="#da3488"/><rect x="188.84" y="259.77" width="3.54" height="2.64" fill="#da3488"/><rect x="191.68" y="259.77" width="3.54" height="2.64" fill="#da3488"/><rect x="194.51" y="259.77" width="3.54" height="2.64" fill="#da3488"/><rect x="197.35" y="259.77" width="3.54" height="2.64" fill="#da3488"/><rect x="200.19" y="259.77" width="3.54" height="2.64" fill="#da3488"/><rect x="203.03" y="259.77" width="3.54" height="2.64" fill="#6a70f0"/><rect x="205.86" y="259.77" width="3.54" height="2.64" fill="#6a70f0"/><rect x="208.70" y="259.77" width="3.54" height="2.64" fill="#6a70f0"/><rect x="211.54" y="259.77" width="3.54" height="2.64" fill="#6a70f0"/><rect x="157.62" y="261.71" width="3.54" height="2.64" fill="#f47620"/><rect x="160.46" y="261.71" width="3.54" height="2.64" fill="#f47620"/><rect x="163.30" y="261.71" width="3.54" height="2.64" fill="#f47620"/><rect x="166.14" y="261.71" width="3.54" height="2.64" fill="#f47620"/><rect x="168.98" y="261.71" width="3.54" height="2.64" fill="#f47620"/><rect x="171.81" y="261.71" width="3.54" height="2.64" fill="#f47620"/><rect x="174.65" y="261.71" width="3.54" height="2.64" fill="#e84a54"/><rect x="177.49" y="261.71" width="3.54" height="2.64" fill="#e84a54"/><rect x="180.33" y="261.71" width="3.54" height="2.64" fill="#da3488"/><rect x="183.16" y="261.71" width="3.54" height="2.64" fill="#9c50d8"/><rect x="186.00" y="261.71" width="3.54" height="2.64" fill="#da3488"/><rect x="188.84" y="261.71" width="3.54" height="2.64" fill="#e84a54"/><rect x="191.68" y="261.71" width="3.54" height="2.64" fill="#da3488"/><rect x="194.51" y="261.71" width="3.54" height="2.64" fill="#e84a54"/><rect x="197.35" y="261.71" width="3.54" height="2.64" fill="#6a70f0"/><rect x="200.19" y="261.71" width="3.54" height="2.64" fill="#6a70f0"/><rect x="203.03" y="261.71" width="3.54" height="2.64" fill="#6a70f0"/><rect x="205.86" y="261.71" width="3.54" height="2.64" fill="#6a70f0"/><rect x="208.70" y="261.71" width="3.54" height="2.64" fill="#6a70f0"/><rect x="211.54" y="261.71" width="3.54" height="2.64" fill="#6a70f0"/><rect x="157.62" y="263.65" width="3.54" height="2.64" fill="#f47620"/><rect x="160.46" y="263.65" width="3.54" height="2.64" fill="#f47620"/><rect x="163.30" y="263.65" width="3.54" height="2.64" fill="#f47620"/><rect x="166.14" y="263.65" width="3.54" height="2.64" fill="#f47620"/><rect x="168.98" y="263.65" width="3.54" height="2.64" fill="#f47620"/><rect x="171.81" y="263.65" width="3.54" height="2.64" fill="#e84a54"/><rect x="174.65" y="263.65" width="3.54" height="2.64" fill="#da3488"/><rect x="177.49" y="263.65" width="3.54" height="2.64" fill="#da3488"/><rect x="180.33" y="263.65" width="3.54" height="2.64" fill="#9c50d8"/><rect x="183.16" y="263.65" width="3.54" height="2.64" fill="#6a70f0"/><rect x="186.00" y="263.65" width="3.54" height="2.64" fill="#da3488"/><rect x="188.84" y="263.65" width="3.54" height="2.64" fill="#da3488"/><rect x="191.68" y="263.65" width="3.54" height="2.64" fill="#e84a54"/><rect x="194.51" y="263.65" width="3.54" height="2.64" fill="#da3488"/><rect x="197.35" y="263.65" width="3.54" height="2.64" fill="#6a70f0"/><rect x="200.19" y="263.65" width="3.54" height="2.64" fill="#6a70f0"/><rect x="203.03" y="263.65" width="3.54" height="2.64" fill="#6a70f0"/><rect x="205.86" y="263.65" width="3.54" height="2.64" fill="#6a70f0"/><rect x="208.70" y="263.65" width="3.54" height="2.64" fill="#6a70f0"/><rect x="211.54" y="263.65" width="3.54" height="2.64" fill="#6a70f0"/><rect x="157.62" y="265.59" width="3.54" height="2.64" fill="#f47620"/><rect x="160.46" y="265.59" width="3.54" height="2.64" fill="#f47620"/><rect x="163.30" y="265.59" width="3.54" height="2.64" fill="#f47620"/><rect x="166.14" y="265.59" width="3.54" height="2.64" fill="#f47620"/><rect x="168.98" y="265.59" width="3.54" height="2.64" fill="#f47620"/><rect x="171.81" y="265.59" width="3.54" height="2.64" fill="#e84a54"/><rect x="174.65" y="265.59" width="3.54" height="2.64" fill="#e84a54"/><rect x="177.49" y="265.59" width="3.54" height="2.64" fill="#da3488"/><rect x="180.33" y="265.59" width="3.54" height="2.64" fill="#da3488"/><rect x="183.16" y="265.59" width="3.54" height="2.64" fill="#e84a54"/><rect x="186.00" y="265.59" width="3.54" height="2.64" fill="#e84a54"/><rect x="188.84" y="265.59" width="3.54" height="2.64" fill="#da3488"/><rect x="191.68" y="265.59" width="3.54" height="2.64" fill="#da3488"/><rect x="194.51" y="265.59" width="3.54" height="2.64" fill="#9c50d8"/><rect x="197.35" y="265.59" width="3.54" height="2.64" fill="#6a70f0"/><rect x="200.19" y="265.59" width="3.54" height="2.64" fill="#6a70f0"/><rect x="203.03" y="265.59" width="3.54" height="2.64" fill="#6a70f0"/><rect x="205.86" y="265.59" width="3.54" height="2.64" fill="#6a70f0"/><rect x="208.70" y="265.59" width="3.54" height="2.64" fill="#6a70f0"/><rect x="211.54" y="265.59" width="3.54" height="2.64" fill="#6a70f0"/><rect x="157.62" y="267.53" width="3.54" height="2.64" fill="#f47620"/><rect x="160.46" y="267.53" width="3.54" height="2.64" fill="#f47620"/><rect x="163.30" y="267.53" width="3.54" height="2.64" fill="#f47620"/><rect x="166.14" y="267.53" width="3.54" height="2.64" fill="#f47620"/><rect x="168.98" y="267.53" width="3.54" height="2.64" fill="#e84a54"/><rect x="171.81" y="267.53" width="3.54" height="2.64" fill="#da3488"/><rect x="174.65" y="267.53" width="3.54" height="2.64" fill="#da3488"/><rect x="177.49" y="267.53" width="3.54" height="2.64" fill="#da3488"/><rect x="180.33" y="267.53" width="3.54" height="2.64" fill="#da3488"/><rect x="183.16" y="267.53" width="3.54" height="2.64" fill="#da3488"/><rect x="186.00" y="267.53" width="3.54" height="2.64" fill="#e84a54"/><rect x="188.84" y="267.53" width="3.54" height="2.64" fill="#da3488"/><rect x="191.68" y="267.53" width="3.54" height="2.64" fill="#da3488"/><rect x="194.51" y="267.53" width="3.54" height="2.64" fill="#da3488"/><rect x="197.35" y="267.53" width="3.54" height="2.64" fill="#9c50d8"/><rect x="200.19" y="267.53" width="3.54" height="2.64" fill="#6a70f0"/><rect x="203.03" y="267.53" width="3.54" height="2.64" fill="#6a70f0"/><rect x="205.86" y="267.53" width="3.54" height="2.64" fill="#da3488"/><rect x="208.70" y="267.53" width="3.54" height="2.64" fill="#da3488"/><rect x="211.54" y="267.53" width="3.54" height="2.64" fill="#da3488"/><rect x="157.62" y="269.47" width="3.54" height="2.64" fill="#f47620"/><rect x="160.46" y="269.47" width="3.54" height="2.64" fill="#f47620"/><rect x="163.30" y="269.47" width="3.54" height="2.64" fill="#f47620"/><rect x="166.14" y="269.47" width="3.54" height="2.64" fill="#f47620"/><rect x="168.98" y="269.47" width="3.54" height="2.64" fill="#e84a54"/><rect x="171.81" y="269.47" width="3.54" height="2.64" fill="#da3488"/><rect x="174.65" y="269.47" width="3.54" height="2.64" fill="#da3488"/><rect x="177.49" y="269.47" width="3.54" height="2.64" fill="#da3488"/><rect x="180.33" y="269.47" width="3.54" height="2.64" fill="#da3488"/><rect x="183.16" y="269.47" width="3.54" height="2.64" fill="#da3488"/><rect x="186.00" y="269.47" width="3.54" height="2.64" fill="#e84a54"/><rect x="188.84" y="269.47" width="3.54" height="2.64" fill="#da3488"/><rect x="191.68" y="269.47" width="3.54" height="2.64" fill="#da3488"/><rect x="194.51" y="269.47" width="3.54" height="2.64" fill="#da3488"/><rect x="197.35" y="269.47" width="3.54" height="2.64" fill="#da3488"/><rect x="200.19" y="269.47" width="3.54" height="2.64" fill="#da3488"/><rect x="203.03" y="269.47" width="3.54" height="2.64" fill="#da3488"/><rect x="205.86" y="269.47" width="3.54" height="2.64" fill="#da3488"/><rect x="208.70" y="269.47" width="3.54" height="2.64" fill="#da3488"/><rect x="211.54" y="269.47" width="3.54" height="2.64" fill="#da3488"/><rect x="157.62" y="271.42" width="3.54" height="2.64" fill="#f47620"/><rect x="160.46" y="271.42" width="3.54" height="2.64" fill="#f47620"/><rect x="163.30" y="271.42" width="3.54" height="2.64" fill="#f47620"/><rect x="166.14" y="271.42" width="3.54" height="2.64" fill="#e84a54"/><rect x="168.98" y="271.42" width="3.54" height="2.64" fill="#da3488"/><rect x="171.81" y="271.42" width="3.54" height="2.64" fill="#da3488"/><rect x="174.65" y="271.42" width="3.54" height="2.64" fill="#9c50d8"/><rect x="177.49" y="271.42" width="3.54" height="2.64" fill="#da3488"/><rect x="180.33" y="271.42" width="3.54" height="2.64" fill="#da3488"/><rect x="183.16" y="271.42" width="3.54" height="2.64" fill="#da3488"/><rect x="186.00" y="271.42" width="3.54" height="2.64" fill="#e84a54"/><rect x="188.84" y="271.42" width="3.54" height="2.64" fill="#da3488"/><rect x="191.68" y="271.42" width="3.54" height="2.64" fill="#da3488"/><rect x="194.51" y="271.42" width="3.54" height="2.64" fill="#da3488"/><rect x="197.35" y="271.42" width="3.54" height="2.64" fill="#da3488"/><rect x="200.19" y="271.42" width="3.54" height="2.64" fill="#9c50d8"/><rect x="203.03" y="271.42" width="3.54" height="2.64" fill="#da3488"/><rect x="205.86" y="271.42" width="3.54" height="2.64" fill="#e84a54"/><rect x="208.70" y="271.42" width="3.54" height="2.64" fill="#e84a54"/><rect x="211.54" y="271.42" width="3.54" height="2.64" fill="#e84a54"/><rect x="157.62" y="273.36" width="3.54" height="2.64" fill="#f47620"/><rect x="160.46" y="273.36" width="3.54" height="2.64" fill="#f47620"/><rect x="163.30" y="273.36" width="3.54" height="2.64" fill="#f47620"/><rect x="166.14" y="273.36" width="3.54" height="2.64" fill="#e84a54"/><rect x="168.98" y="273.36" width="3.54" height="2.64" fill="#da3488"/><rect x="171.81" y="273.36" width="3.54" height="2.64" fill="#da3488"/><rect x="174.65" y="273.36" width="3.54" height="2.64" fill="#da3488"/><rect x="177.49" y="273.36" width="3.54" height="2.64" fill="#da3488"/><rect x="180.33" y="273.36" width="3.54" height="2.64" fill="#da3488"/><rect x="183.16" y="273.36" width="3.54" height="2.64" fill="#e84a54"/><rect x="186.00" y="273.36" width="3.54" height="2.64" fill="#e84a54"/><rect x="188.84" y="273.36" width="3.54" height="2.64" fill="#da3488"/><rect x="191.68" y="273.36" width="3.54" height="2.64" fill="#da3488"/><rect x="194.51" y="273.36" width="3.54" height="2.64" fill="#e84a54"/><rect x="197.35" y="273.36" width="3.54" height="2.64" fill="#da3488"/><rect x="200.19" y="273.36" width="3.54" height="2.64" fill="#6a70f0"/><rect x="203.03" y="273.36" width="3.54" height="2.64" fill="#da3488"/><rect x="205.86" y="273.36" width="3.54" height="2.64" fill="#e84a54"/><rect x="208.70" y="273.36" width="3.54" height="2.64" fill="#e84a54"/><rect x="211.54" y="273.36" width="3.54" height="2.64" fill="#e84a54"/><rect x="157.62" y="275.30" width="3.54" height="2.64" fill="#f47620"/><rect x="160.46" y="275.30" width="3.54" height="2.64" fill="#f47620"/><rect x="163.30" y="275.30" width="3.54" height="2.64" fill="#f47620"/><rect x="166.14" y="275.30" width="3.54" height="2.64" fill="#e84a54"/><rect x="168.98" y="275.30" width="3.54" height="2.64" fill="#da3488"/><rect x="171.81" y="275.30" width="3.54" height="2.64" fill="#da3488"/><rect x="174.65" y="275.30" width="3.54" height="2.64" fill="#da3488"/><rect x="177.49" y="275.30" width="3.54" height="2.64" fill="#da3488"/><rect x="180.33" y="275.30" width="3.54" height="2.64" fill="#da3488"/><rect x="183.16" y="275.30" width="3.54" height="2.64" fill="#e84a54"/><rect x="186.00" y="275.30" width="3.54" height="2.64" fill="#e84a54"/><rect x="188.84" y="275.30" width="3.54" height="2.64" fill="#da3488"/><rect x="191.68" y="275.30" width="3.54" height="2.64" fill="#da3488"/><rect x="194.51" y="275.30" width="3.54" height="2.64" fill="#e84a54"/><rect x="197.35" y="275.30" width="3.54" height="2.64" fill="#da3488"/><rect x="200.19" y="275.30" width="3.54" height="2.64" fill="#6a70f0"/><rect x="203.03" y="275.30" width="3.54" height="2.64" fill="#da3488"/><rect x="205.86" y="275.30" width="3.54" height="2.64" fill="#e84a54"/><rect x="208.70" y="275.30" width="3.54" height="2.64" fill="#e84a54"/><rect x="211.54" y="275.30" width="3.54" height="2.64" fill="#e84a54"/><rect x="157.62" y="277.24" width="3.54" height="2.64" fill="#f47620"/><rect x="160.46" y="277.24" width="3.54" height="2.64" fill="#f47620"/><rect x="163.30" y="277.24" width="3.54" height="2.64" fill="#f47620"/><rect x="166.14" y="277.24" width="3.54" height="2.64" fill="#e84a54"/><rect x="168.98" y="277.24" width="3.54" height="2.64" fill="#da3488"/><rect x="171.81" y="277.24" width="3.54" height="2.64" fill="#da3488"/><rect x="174.65" y="277.24" width="3.54" height="2.64" fill="#da3488"/><rect x="177.49" y="277.24" width="3.54" height="2.64" fill="#da3488"/><rect x="180.33" y="277.24" width="3.54" height="2.64" fill="#da3488"/><rect x="183.16" y="277.24" width="3.54" height="2.64" fill="#e84a54"/><rect x="186.00" y="277.24" width="3.54" height="2.64" fill="#e84a54"/><rect x="188.84" y="277.24" width="3.54" height="2.64" fill="#da3488"/><rect x="191.68" y="277.24" width="3.54" height="2.64" fill="#da3488"/><rect x="194.51" y="277.24" width="3.54" height="2.64" fill="#e84a54"/><rect x="197.35" y="277.24" width="3.54" height="2.64" fill="#da3488"/><rect x="200.19" y="277.24" width="3.54" height="2.64" fill="#6a70f0"/><rect x="203.03" y="277.24" width="3.54" height="2.64" fill="#da3488"/><rect x="205.86" y="277.24" width="3.54" height="2.64" fill="#e84a54"/><rect x="208.70" y="277.24" width="3.54" height="2.64" fill="#e84a54"/><rect x="211.54" y="277.24" width="3.54" height="2.64" fill="#e84a54"/><rect x="163.3" y="228.7" width="30" height="1.4" fill="#dc3488"/></g></g>
<g transform="matrix(1,0,1.2800,1,5.60,230.20)"><rect x="0.00" y="0.00" width="4.10" height="2.05" fill="#86c450"/><rect x="3.80" y="0.00" width="4.10" height="2.05" fill="#86c450"/><rect x="7.60" y="0.00" width="4.10" height="2.05" fill="#d8d8aa"/><rect x="11.40" y="0.00" width="4.10" height="2.05" fill="#86c450"/><rect x="15.20" y="0.00" width="4.10" height="2.05" fill="#86c450"/><rect x="19.00" y="0.00" width="4.10" height="2.05" fill="#9ccb52"/><rect x="22.80" y="0.00" width="4.10" height="2.05" fill="#6ab456"/><rect x="26.60" y="0.00" width="4.10" height="2.05" fill="#86c450"/><rect x="30.40" y="0.00" width="4.10" height="2.05" fill="#74ac88"/><rect x="34.20" y="0.00" width="4.10" height="2.05" fill="#eed4aa"/><rect x="38.00" y="0.00" width="4.10" height="2.05" fill="#6ab456"/><rect x="41.80" y="0.00" width="4.10" height="2.05" fill="#58a25a"/><rect x="45.60" y="0.00" width="4.10" height="2.05" fill="#4e9a55"/><rect x="49.40" y="0.00" width="4.10" height="2.05" fill="#9ccb52"/><rect x="53.20" y="0.00" width="4.10" height="2.05" fill="#58a25a"/><rect x="0.00" y="1.70" width="4.10" height="2.05" fill="#d8d8aa"/><rect x="3.80" y="1.70" width="4.10" height="2.05" fill="#58a25a"/><rect x="7.60" y="1.70" width="4.10" height="2.05" fill="#3cb2a6"/><rect x="11.40" y="1.70" width="4.10" height="2.05" fill="#58a25a"/><rect x="15.20" y="1.70" width="4.10" height="2.05" fill="#86c450"/><rect x="19.00" y="1.70" width="4.10" height="2.05" fill="#9ccb52"/><rect x="22.80" y="1.70" width="4.10" height="2.05" fill="#6ab456"/><rect x="26.60" y="1.70" width="4.10" height="2.05" fill="#86c450"/><rect x="30.40" y="1.70" width="4.10" height="2.05" fill="#86c450"/><rect x="34.20" y="1.70" width="4.10" height="2.05" fill="#9ccb52"/><rect x="38.00" y="1.70" width="4.10" height="2.05" fill="#9ccb52"/><rect x="41.80" y="1.70" width="4.10" height="2.05" fill="#6ab456"/><rect x="45.60" y="1.70" width="4.10" height="2.05" fill="#3cb2a6"/><rect x="49.40" y="1.70" width="4.10" height="2.05" fill="#9ccb52"/><rect x="53.20" y="1.70" width="4.10" height="2.05" fill="#6ab456"/><rect x="0.00" y="3.40" width="4.10" height="2.05" fill="#d8d8aa"/><rect x="3.80" y="3.40" width="4.10" height="2.05" fill="#3cb2a6"/><rect x="7.60" y="3.40" width="4.10" height="2.05" fill="#4e9a55"/><rect x="11.40" y="3.40" width="4.10" height="2.05" fill="#d8d8aa"/><rect x="15.20" y="3.40" width="4.10" height="2.05" fill="#58a25a"/><rect x="19.00" y="3.40" width="4.10" height="2.05" fill="#9ccb52"/><rect x="22.80" y="3.40" width="4.10" height="2.05" fill="#86c450"/><rect x="26.60" y="3.40" width="4.10" height="2.05" fill="#86c450"/><rect x="30.40" y="3.40" width="4.10" height="2.05" fill="#86c450"/><rect x="34.20" y="3.40" width="4.10" height="2.05" fill="#74ac88"/><rect x="38.00" y="3.40" width="4.10" height="2.05" fill="#e0dcb0"/><rect x="41.80" y="3.40" width="4.10" height="2.05" fill="#e0dcb0"/><rect x="45.60" y="3.40" width="4.10" height="2.05" fill="#e0dcb0"/><rect x="49.40" y="3.40" width="4.10" height="2.05" fill="#58a25a"/><rect x="53.20" y="3.40" width="4.10" height="2.05" fill="#6ab456"/><rect x="0.00" y="5.10" width="4.10" height="2.05" fill="#d8d8aa"/><rect x="3.80" y="5.10" width="4.10" height="2.05" fill="#3cb2a6"/><rect x="7.60" y="5.10" width="4.10" height="2.05" fill="#6ab456"/><rect x="11.40" y="5.10" width="4.10" height="2.05" fill="#86c450"/><rect x="15.20" y="5.10" width="4.10" height="2.05" fill="#58a25a"/><rect x="19.00" y="5.10" width="4.10" height="2.05" fill="#58a25a"/><rect x="22.80" y="5.10" width="4.10" height="2.05" fill="#58a25a"/><rect x="26.60" y="5.10" width="4.10" height="2.05" fill="#6ab456"/><rect x="30.40" y="5.10" width="4.10" height="2.05" fill="#86c450"/><rect x="34.20" y="5.10" width="4.10" height="2.05" fill="#4e9a55"/><rect x="38.00" y="5.10" width="4.10" height="2.05" fill="#e0dcb0"/><rect x="41.80" y="5.10" width="4.10" height="2.05" fill="#6ab456"/><rect x="45.60" y="5.10" width="4.10" height="2.05" fill="#e0dcb0"/><rect x="49.40" y="5.10" width="4.10" height="2.05" fill="#9ccb52"/><rect x="53.20" y="5.10" width="4.10" height="2.05" fill="#6ab456"/><rect x="0.00" y="6.80" width="4.10" height="2.05" fill="#6ab456"/><rect x="3.80" y="6.80" width="4.10" height="2.05" fill="#3cb2a6"/><rect x="7.60" y="6.80" width="4.10" height="2.05" fill="#86c450"/><rect x="11.40" y="6.80" width="4.10" height="2.05" fill="#86c450"/><rect x="15.20" y="6.80" width="4.10" height="2.05" fill="#58a25a"/><rect x="19.00" y="6.80" width="4.10" height="2.05" fill="#58a25a"/><rect x="22.80" y="6.80" width="4.10" height="2.05" fill="#6ab456"/><rect x="26.60" y="6.80" width="4.10" height="2.05" fill="#86c450"/><rect x="30.40" y="6.80" width="4.10" height="2.05" fill="#d8d8aa"/><rect x="34.20" y="6.80" width="4.10" height="2.05" fill="#4e9a55"/><rect x="38.00" y="6.80" width="4.10" height="2.05" fill="#a8c8ec"/><rect x="41.80" y="6.80" width="4.10" height="2.05" fill="#6ab456"/><rect x="45.60" y="6.80" width="4.10" height="2.05" fill="#d8d8aa"/><rect x="49.40" y="6.80" width="4.10" height="2.05" fill="#6ab456"/><rect x="53.20" y="6.80" width="4.10" height="2.05" fill="#6ab456"/><rect x="0.00" y="8.50" width="4.10" height="2.05" fill="#d8d8aa"/><rect x="3.80" y="8.50" width="4.10" height="2.05" fill="#3cb2a6"/><rect x="7.60" y="8.50" width="4.10" height="2.05" fill="#9ccb52"/><rect x="11.40" y="8.50" width="4.10" height="2.05" fill="#e0dcb0"/><rect x="15.20" y="8.50" width="4.10" height="2.05" fill="#e0dcb0"/><rect x="19.00" y="8.50" width="4.10" height="2.05" fill="#58a25a"/><rect x="22.80" y="8.50" width="4.10" height="2.05" fill="#6ab456"/><rect x="26.60" y="8.50" width="4.10" height="2.05" fill="#6ab456"/><rect x="30.40" y="8.50" width="4.10" height="2.05" fill="#9ccb52"/><rect x="34.20" y="8.50" width="4.10" height="2.05" fill="#a8c8ec"/><rect x="38.00" y="8.50" width="4.10" height="2.05" fill="#a8c8ec"/><rect x="41.80" y="8.50" width="4.10" height="2.05" fill="#58a25a"/><rect x="45.60" y="8.50" width="4.10" height="2.05" fill="#d8d8aa"/><rect x="49.40" y="8.50" width="4.10" height="2.05" fill="#4e9a55"/><rect x="53.20" y="8.50" width="4.10" height="2.05" fill="#6ab456"/><rect x="0.00" y="10.20" width="4.10" height="2.05" fill="#6ab456"/><rect x="3.80" y="10.20" width="4.10" height="2.05" fill="#e0dcb0"/><rect x="7.60" y="10.20" width="4.10" height="2.05" fill="#e0dcb0"/><rect x="11.40" y="10.20" width="4.10" height="2.05" fill="#e0dcb0"/><rect x="15.20" y="10.20" width="4.10" height="2.05" fill="#58a25a"/><rect x="19.00" y="10.20" width="4.10" height="2.05" fill="#58a25a"/><rect x="22.80" y="10.20" width="4.10" height="2.05" fill="#86c450"/><rect x="26.60" y="10.20" width="4.10" height="2.05" fill="#6ab456"/><rect x="30.40" y="10.20" width="4.10" height="2.05" fill="#a8c8ec"/><rect x="34.20" y="10.20" width="4.10" height="2.05" fill="#d8d8aa"/><rect x="38.00" y="10.20" width="4.10" height="2.05" fill="#9ccb52"/><rect x="41.80" y="10.20" width="4.10" height="2.05" fill="#9ccb52"/><rect x="45.60" y="10.20" width="4.10" height="2.05" fill="#d8d8aa"/><rect x="49.40" y="10.20" width="4.10" height="2.05" fill="#4e9a55"/><rect x="53.20" y="10.20" width="4.10" height="2.05" fill="#6ab456"/><rect x="0.00" y="11.90" width="4.10" height="2.05" fill="#9ccb52"/><rect x="3.80" y="11.90" width="4.10" height="2.05" fill="#d8d8aa"/><rect x="7.60" y="11.90" width="4.10" height="2.05" fill="#58a25a"/><rect x="11.40" y="11.90" width="4.10" height="2.05" fill="#9ccb52"/><rect x="15.20" y="11.90" width="4.10" height="2.05" fill="#9ccb52"/><rect x="19.00" y="11.90" width="4.10" height="2.05" fill="#3cb2a6"/><rect x="22.80" y="11.90" width="4.10" height="2.05" fill="#86c450"/><rect x="26.60" y="11.90" width="4.10" height="2.05" fill="#d8d8aa"/><rect x="30.40" y="11.90" width="4.10" height="2.05" fill="#9ccb52"/><rect x="34.20" y="11.90" width="4.10" height="2.05" fill="#d8d8aa"/><rect x="38.00" y="11.90" width="4.10" height="2.05" fill="#9ccb52"/><rect x="41.80" y="11.90" width="4.10" height="2.05" fill="#4e9a55"/><rect x="45.60" y="11.90" width="4.10" height="2.05" fill="#74ac88"/><rect x="49.40" y="11.90" width="4.10" height="2.05" fill="#86c450"/><rect x="53.20" y="11.90" width="4.10" height="2.05" fill="#86c450"/><rect x="0.00" y="13.60" width="4.10" height="2.05" fill="#9ccb52"/><rect x="3.80" y="13.60" width="4.10" height="2.05" fill="#d8d8aa"/><rect x="7.60" y="13.60" width="4.10" height="2.05" fill="#4e9a55"/><rect x="11.40" y="13.60" width="4.10" height="2.05" fill="#9ccb52"/><rect x="15.20" y="13.60" width="4.10" height="2.05" fill="#4e9a55"/><rect x="19.00" y="13.60" width="4.10" height="2.05" fill="#3cb2a6"/><rect x="22.80" y="13.60" width="4.10" height="2.05" fill="#58a25a"/><rect x="26.60" y="13.60" width="4.10" height="2.05" fill="#6ab456"/><rect x="30.40" y="13.60" width="4.10" height="2.05" fill="#9ccb52"/><rect x="34.20" y="13.60" width="4.10" height="2.05" fill="#6ab456"/><rect x="38.00" y="13.60" width="4.10" height="2.05" fill="#9ccb52"/><rect x="41.80" y="13.60" width="4.10" height="2.05" fill="#9ccb52"/><rect x="45.60" y="13.60" width="4.10" height="2.05" fill="#74ac88"/><rect x="49.40" y="13.60" width="4.10" height="2.05" fill="#86c450"/><rect x="53.20" y="13.60" width="4.10" height="2.05" fill="#9ccb52"/><rect x="0.00" y="15.30" width="4.10" height="2.05" fill="#4e9a55"/><rect x="3.80" y="15.30" width="4.10" height="2.05" fill="#9ccb52"/><rect x="7.60" y="15.30" width="4.10" height="2.05" fill="#3cb2a6"/><rect x="11.40" y="15.30" width="4.10" height="2.05" fill="#3cb2a6"/><rect x="15.20" y="15.30" width="4.10" height="2.05" fill="#4e9a55"/><rect x="19.00" y="15.30" width="4.10" height="2.05" fill="#9ccb52"/><rect x="22.80" y="15.30" width="4.10" height="2.05" fill="#58a25a"/><rect x="26.60" y="15.30" width="4.10" height="2.05" fill="#4e9a55"/><rect x="30.40" y="15.30" width="4.10" height="2.05" fill="#9ccb52"/><rect x="34.20" y="15.30" width="4.10" height="2.05" fill="#6ab456"/><rect x="38.00" y="15.30" width="4.10" height="2.05" fill="#9ccb52"/><rect x="41.80" y="15.30" width="4.10" height="2.05" fill="#6ab456"/><rect x="45.60" y="15.30" width="4.10" height="2.05" fill="#74ac88"/><rect x="49.40" y="15.30" width="4.10" height="2.05" fill="#9ccb52"/><rect x="53.20" y="15.30" width="4.10" height="2.05" fill="#6ab456"/><rect x="0.00" y="17.00" width="4.10" height="2.05" fill="#d8d8aa"/><rect x="3.80" y="17.00" width="4.10" height="2.05" fill="#58a25a"/><rect x="7.60" y="17.00" width="4.10" height="2.05" fill="#3cb2a6"/><rect x="11.40" y="17.00" width="4.10" height="2.05" fill="#58a25a"/><rect x="15.20" y="17.00" width="4.10" height="2.05" fill="#86c450"/><rect x="19.00" y="17.00" width="4.10" height="2.05" fill="#74ac88"/><rect x="22.80" y="17.00" width="4.10" height="2.05" fill="#3cb2a6"/><rect x="26.60" y="17.00" width="4.10" height="2.05" fill="#3cb2a6"/><rect x="30.40" y="17.00" width="4.10" height="2.05" fill="#58a25a"/><rect x="34.20" y="17.00" width="4.10" height="2.05" fill="#6ab456"/><rect x="38.00" y="17.00" width="4.10" height="2.05" fill="#9ccb52"/><rect x="41.80" y="17.00" width="4.10" height="2.05" fill="#6ab456"/><rect x="45.60" y="17.00" width="4.10" height="2.05" fill="#86c450"/><rect x="49.40" y="17.00" width="4.10" height="2.05" fill="#9ccb52"/><rect x="53.20" y="17.00" width="4.10" height="2.05" fill="#d8d8aa"/><rect x="0.00" y="18.70" width="4.10" height="2.05" fill="#6ab456"/><rect x="3.80" y="18.70" width="4.10" height="2.05" fill="#6ab456"/><rect x="7.60" y="18.70" width="4.10" height="2.05" fill="#3cb2a6"/><rect x="11.40" y="18.70" width="4.10" height="2.05" fill="#9ccb52"/><rect x="15.20" y="18.70" width="4.10" height="2.05" fill="#86c450"/><rect x="19.00" y="18.70" width="4.10" height="2.05" fill="#3cb2a6"/><rect x="22.80" y="18.70" width="4.10" height="2.05" fill="#3cb2a6"/><rect x="26.60" y="18.70" width="4.10" height="2.05" fill="#86c450"/><rect x="30.40" y="18.70" width="4.10" height="2.05" fill="#74ac88"/><rect x="34.20" y="18.70" width="4.10" height="2.05" fill="#74ac88"/><rect x="38.00" y="18.70" width="4.10" height="2.05" fill="#58a25a"/><rect x="41.80" y="18.70" width="4.10" height="2.05" fill="#9ccb52"/><rect x="45.60" y="18.70" width="4.10" height="2.05" fill="#86c450"/><rect x="49.40" y="18.70" width="4.10" height="2.05" fill="#9ccb52"/><rect x="53.20" y="18.70" width="4.10" height="2.05" fill="#86c450"/><rect x="0.00" y="20.40" width="4.10" height="2.05" fill="#4e9a55"/><rect x="3.80" y="20.40" width="4.10" height="2.05" fill="#d8d8aa"/><rect x="7.60" y="20.40" width="4.10" height="2.05" fill="#9ccb52"/><rect x="11.40" y="20.40" width="4.10" height="2.05" fill="#9ccb52"/><rect x="15.20" y="20.40" width="4.10" height="2.05" fill="#4e9a55"/><rect x="19.00" y="20.40" width="4.10" height="2.05" fill="#9ccb52"/><rect x="22.80" y="20.40" width="4.10" height="2.05" fill="#3cb2a6"/><rect x="26.60" y="20.40" width="4.10" height="2.05" fill="#d8d8aa"/><rect x="30.40" y="20.40" width="4.10" height="2.05" fill="#86c450"/><rect x="34.20" y="20.40" width="4.10" height="2.05" fill="#86c450"/><rect x="38.00" y="20.40" width="4.10" height="2.05" fill="#4e9a55"/><rect x="41.80" y="20.40" width="4.10" height="2.05" fill="#58a25a"/><rect x="45.60" y="20.40" width="4.10" height="2.05" fill="#86c450"/><rect x="49.40" y="20.40" width="4.10" height="2.05" fill="#86c450"/><rect x="53.20" y="20.40" width="4.10" height="2.05" fill="#86c450"/><rect x="0.00" y="22.10" width="4.10" height="2.05" fill="#58a25a"/><rect x="3.80" y="22.10" width="4.10" height="2.05" fill="#6ab456"/><rect x="7.60" y="22.10" width="4.10" height="2.05" fill="#74ac88"/><rect x="11.40" y="22.10" width="4.10" height="2.05" fill="#9ccb52"/><rect x="15.20" y="22.10" width="4.10" height="2.05" fill="#4e9a55"/><rect x="19.00" y="22.10" width="4.10" height="2.05" fill="#9ccb52"/><rect x="22.80" y="22.10" width="4.10" height="2.05" fill="#9ccb52"/><rect x="26.60" y="22.10" width="4.10" height="2.05" fill="#d8d8aa"/><rect x="30.40" y="22.10" width="4.10" height="2.05" fill="#e0dcb0"/><rect x="34.20" y="22.10" width="4.10" height="2.05" fill="#86c450"/><rect x="38.00" y="22.10" width="4.10" height="2.05" fill="#6ab456"/><rect x="41.80" y="22.10" width="4.10" height="2.05" fill="#86c450"/><rect x="45.60" y="22.10" width="4.10" height="2.05" fill="#6ab456"/><rect x="49.40" y="22.10" width="4.10" height="2.05" fill="#e0dcb0"/><rect x="53.20" y="22.10" width="4.10" height="2.05" fill="#6ab456"/><rect x="0.00" y="23.80" width="4.10" height="2.05" fill="#86c450"/><rect x="3.80" y="23.80" width="4.10" height="2.05" fill="#6ab456"/><rect x="7.60" y="23.80" width="4.10" height="2.05" fill="#9ccb52"/><rect x="11.40" y="23.80" width="4.10" height="2.05" fill="#9ccb52"/><rect x="15.20" y="23.80" width="4.10" height="2.05" fill="#86c450"/><rect x="19.00" y="23.80" width="4.10" height="2.05" fill="#4e9a55"/><rect x="22.80" y="23.80" width="4.10" height="2.05" fill="#9ccb52"/><rect x="26.60" y="23.80" width="4.10" height="2.05" fill="#e0dcb0"/><rect x="30.40" y="23.80" width="4.10" height="2.05" fill="#86c450"/><rect x="34.20" y="23.80" width="4.10" height="2.05" fill="#d8d8aa"/><rect x="38.00" y="23.80" width="4.10" height="2.05" fill="#6ab456"/><rect x="41.80" y="23.80" width="4.10" height="2.05" fill="#86c450"/><rect x="45.60" y="23.80" width="4.10" height="2.05" fill="#e0dcb0"/><rect x="49.40" y="23.80" width="4.10" height="2.05" fill="#d8d8aa"/><rect x="53.20" y="23.80" width="4.10" height="2.05" fill="#6ab456"/><rect x="0.00" y="25.50" width="4.10" height="2.05" fill="#58a25a"/><rect x="3.80" y="25.50" width="4.10" height="2.05" fill="#6ab456"/><rect x="7.60" y="25.50" width="4.10" height="2.05" fill="#e0dcb0"/><rect x="11.40" y="25.50" width="4.10" height="2.05" fill="#9ccb52"/><rect x="15.20" y="25.50" width="4.10" height="2.05" fill="#86c450"/><rect x="19.00" y="25.50" width="4.10" height="2.05" fill="#e0dcb0"/><rect x="22.80" y="25.50" width="4.10" height="2.05" fill="#9ccb52"/><rect x="26.60" y="25.50" width="4.10" height="2.05" fill="#9ccb52"/><rect x="30.40" y="25.50" width="4.10" height="2.05" fill="#86c450"/><rect x="34.20" y="25.50" width="4.10" height="2.05" fill="#d8d8aa"/><rect x="38.00" y="25.50" width="4.10" height="2.05" fill="#e0dcb0"/><rect x="41.80" y="25.50" width="4.10" height="2.05" fill="#86c450"/><rect x="45.60" y="25.50" width="4.10" height="2.05" fill="#e0dcb0"/><rect x="49.40" y="25.50" width="4.10" height="2.05" fill="#d8d8aa"/><rect x="53.20" y="25.50" width="4.10" height="2.05" fill="#e0dcb0"/><rect x="0.00" y="27.20" width="4.10" height="2.05" fill="#86c450"/><rect x="3.80" y="27.20" width="4.10" height="2.05" fill="#4e9a55"/><rect x="7.60" y="27.20" width="4.10" height="2.05" fill="#6ab456"/><rect x="11.40" y="27.20" width="4.10" height="2.05" fill="#4e9a55"/><rect x="15.20" y="27.20" width="4.10" height="2.05" fill="#6ab456"/><rect x="19.00" y="27.20" width="4.10" height="2.05" fill="#e0dcb0"/><rect x="22.80" y="27.20" width="4.10" height="2.05" fill="#9ccb52"/><rect x="26.60" y="27.20" width="4.10" height="2.05" fill="#58a25a"/><rect x="30.40" y="27.20" width="4.10" height="2.05" fill="#86c450"/><rect x="34.20" y="27.20" width="4.10" height="2.05" fill="#6ab456"/><rect x="38.00" y="27.20" width="4.10" height="2.05" fill="#58a25a"/><rect x="41.80" y="27.20" width="4.10" height="2.05" fill="#86c450"/><rect x="45.60" y="27.20" width="4.10" height="2.05" fill="#74ac88"/><rect x="49.40" y="27.20" width="4.10" height="2.05" fill="#d8d8aa"/><rect x="53.20" y="27.20" width="4.10" height="2.05" fill="#86c450"/><rect x="0.00" y="28.90" width="4.10" height="2.05" fill="#58a25a"/><rect x="3.80" y="28.90" width="4.10" height="2.05" fill="#4e9a55"/><rect x="7.60" y="28.90" width="4.10" height="2.05" fill="#d8d8aa"/><rect x="11.40" y="28.90" width="4.10" height="2.05" fill="#58a25a"/><rect x="15.20" y="28.90" width="4.10" height="2.05" fill="#86c450"/><rect x="19.00" y="28.90" width="4.10" height="2.05" fill="#6ab456"/><rect x="22.80" y="28.90" width="4.10" height="2.05" fill="#e0dcb0"/><rect x="26.60" y="28.90" width="4.10" height="2.05" fill="#e0dcb0"/><rect x="30.40" y="28.90" width="4.10" height="2.05" fill="#3cb2a6"/><rect x="34.20" y="28.90" width="4.10" height="2.05" fill="#86c450"/><rect x="38.00" y="28.90" width="4.10" height="2.05" fill="#58a25a"/><rect x="41.80" y="28.90" width="4.10" height="2.05" fill="#86c450"/><rect x="45.60" y="28.90" width="4.10" height="2.05" fill="#74ac88"/><rect x="49.40" y="28.90" width="4.10" height="2.05" fill="#3cb2a6"/><rect x="53.20" y="28.90" width="4.10" height="2.05" fill="#58a25a"/><rect x="0.00" y="30.60" width="4.10" height="2.05" fill="#58a25a"/><rect x="3.80" y="30.60" width="4.10" height="2.05" fill="#86c450"/><rect x="7.60" y="30.60" width="4.10" height="2.05" fill="#86c450"/><rect x="11.40" y="30.60" width="4.10" height="2.05" fill="#86c450"/><rect x="15.20" y="30.60" width="4.10" height="2.05" fill="#9ccb52"/><rect x="19.00" y="30.60" width="4.10" height="2.05" fill="#3cb2a6"/><rect x="22.80" y="30.60" width="4.10" height="2.05" fill="#4e9a55"/><rect x="26.60" y="30.60" width="4.10" height="2.05" fill="#3cb2a6"/><rect x="30.40" y="30.60" width="4.10" height="2.05" fill="#86c450"/><rect x="34.20" y="30.60" width="4.10" height="2.05" fill="#8c9ae6"/><rect x="38.00" y="30.60" width="4.10" height="2.05" fill="#8c9ae6"/><rect x="41.80" y="30.60" width="4.10" height="2.05" fill="#58a25a"/><rect x="45.60" y="30.60" width="4.10" height="2.05" fill="#4e9a55"/><rect x="49.40" y="30.60" width="4.10" height="2.05" fill="#4e9a55"/><rect x="53.20" y="30.60" width="4.10" height="2.05" fill="#86c450"/><rect x="0.00" y="32.30" width="4.10" height="2.05" fill="#86c450"/><rect x="3.80" y="32.30" width="4.10" height="2.05" fill="#4e9a55"/><rect x="7.60" y="32.30" width="4.10" height="2.05" fill="#86c450"/><rect x="11.40" y="32.30" width="4.10" height="2.05" fill="#74ac88"/><rect x="15.20" y="32.30" width="4.10" height="2.05" fill="#86c450"/><rect x="19.00" y="32.30" width="4.10" height="2.05" fill="#9ccb52"/><rect x="22.80" y="32.30" width="4.10" height="2.05" fill="#86c450"/><rect x="26.60" y="32.30" width="4.10" height="2.05" fill="#3cb2a6"/><rect x="30.40" y="32.30" width="4.10" height="2.05" fill="#8c9ae6"/><rect x="34.20" y="32.30" width="4.10" height="2.05" fill="#58a25a"/><rect x="38.00" y="32.30" width="4.10" height="2.05" fill="#86c450"/><rect x="41.80" y="32.30" width="4.10" height="2.05" fill="#9ccb52"/><rect x="45.60" y="32.30" width="4.10" height="2.05" fill="#4e9a55"/><rect x="49.40" y="32.30" width="4.10" height="2.05" fill="#9ccb52"/><rect x="53.20" y="32.30" width="4.10" height="2.05" fill="#9ccb52"/><rect x="0.00" y="34.00" width="4.10" height="2.05" fill="#86c450"/><rect x="3.80" y="34.00" width="4.10" height="2.05" fill="#3cb2a6"/><rect x="7.60" y="34.00" width="4.10" height="2.05" fill="#9ccb52"/><rect x="11.40" y="34.00" width="4.10" height="2.05" fill="#d8d8aa"/><rect x="15.20" y="34.00" width="4.10" height="2.05" fill="#3cb2a6"/><rect x="19.00" y="34.00" width="4.10" height="2.05" fill="#6ab456"/><rect x="22.80" y="34.00" width="4.10" height="2.05" fill="#3cb2a6"/><rect x="26.60" y="34.00" width="4.10" height="2.05" fill="#3cb2a6"/><rect x="30.40" y="34.00" width="4.10" height="2.05" fill="#8c9ae6"/><rect x="34.20" y="34.00" width="4.10" height="2.05" fill="#8c9ae6"/><rect x="38.00" y="34.00" width="4.10" height="2.05" fill="#86c450"/><rect x="41.80" y="34.00" width="4.10" height="2.05" fill="#9ccb52"/><rect x="45.60" y="34.00" width="4.10" height="2.05" fill="#86c450"/><rect x="49.40" y="34.00" width="4.10" height="2.05" fill="#d8d8aa"/><rect x="53.20" y="34.00" width="4.10" height="2.05" fill="#3cb2a6"/><rect x="0.00" y="35.70" width="4.10" height="2.05" fill="#4e9a55"/><rect x="3.80" y="35.70" width="4.10" height="2.05" fill="#3cb2a6"/><rect x="7.60" y="35.70" width="4.10" height="2.05" fill="#74ac88"/><rect x="11.40" y="35.70" width="4.10" height="2.05" fill="#3cb2a6"/><rect x="15.20" y="35.70" width="4.10" height="2.05" fill="#3cb2a6"/><rect x="19.00" y="35.70" width="4.10" height="2.05" fill="#6ab456"/><rect x="22.80" y="35.70" width="4.10" height="2.05" fill="#58a25a"/><rect x="26.60" y="35.70" width="4.10" height="2.05" fill="#86c450"/><rect x="30.40" y="35.70" width="4.10" height="2.05" fill="#86c450"/><rect x="34.20" y="35.70" width="4.10" height="2.05" fill="#9ccb52"/><rect x="38.00" y="35.70" width="4.10" height="2.05" fill="#6ab456"/><rect x="41.80" y="35.70" width="4.10" height="2.05" fill="#6ab456"/><rect x="45.60" y="35.70" width="4.10" height="2.05" fill="#86c450"/><rect x="49.40" y="35.70" width="4.10" height="2.05" fill="#e0dcb0"/><rect x="53.20" y="35.70" width="4.10" height="2.05" fill="#e0dcb0"/><rect x="0.00" y="37.40" width="4.10" height="2.05" fill="#4e9a55"/><rect x="3.80" y="37.40" width="4.10" height="2.05" fill="#3cb2a6"/><rect x="7.60" y="37.40" width="4.10" height="2.05" fill="#86c450"/><rect x="11.40" y="37.40" width="4.10" height="2.05" fill="#74ac88"/><rect x="15.20" y="37.40" width="4.10" height="2.05" fill="#3cb2a6"/><rect x="19.00" y="37.40" width="4.10" height="2.05" fill="#d8d8aa"/><rect x="22.80" y="37.40" width="4.10" height="2.05" fill="#58a25a"/><rect x="26.60" y="37.40" width="4.10" height="2.05" fill="#86c450"/><rect x="30.40" y="37.40" width="4.10" height="2.05" fill="#d8d8aa"/><rect x="34.20" y="37.40" width="4.10" height="2.05" fill="#9ccb52"/><rect x="38.00" y="37.40" width="4.10" height="2.05" fill="#d8d8aa"/><rect x="41.80" y="37.40" width="4.10" height="2.05" fill="#d8d8aa"/><rect x="45.60" y="37.40" width="4.10" height="2.05" fill="#58a25a"/><rect x="49.40" y="37.40" width="4.10" height="2.05" fill="#86c450"/><rect x="53.20" y="37.40" width="4.10" height="2.05" fill="#e0dcb0"/><rect x="0.00" y="39.10" width="4.10" height="2.05" fill="#4e9a55"/><rect x="3.80" y="39.10" width="4.10" height="2.05" fill="#58a25a"/><rect x="7.60" y="39.10" width="4.10" height="2.05" fill="#9ccb52"/><rect x="11.40" y="39.10" width="4.10" height="2.05" fill="#6ab456"/><rect x="15.20" y="39.10" width="4.10" height="2.05" fill="#86c450"/><rect x="19.00" y="39.10" width="4.10" height="2.05" fill="#86c450"/><rect x="22.80" y="39.10" width="4.10" height="2.05" fill="#d8d8aa"/><rect x="26.60" y="39.10" width="4.10" height="2.05" fill="#6ab456"/><rect x="30.40" y="39.10" width="4.10" height="2.05" fill="#d8d8aa"/><rect x="34.20" y="39.10" width="4.10" height="2.05" fill="#74ac88"/><rect x="38.00" y="39.10" width="4.10" height="2.05" fill="#6ab456"/><rect x="41.80" y="39.10" width="4.10" height="2.05" fill="#9ccb52"/><rect x="45.60" y="39.10" width="4.10" height="2.05" fill="#6ab456"/><rect x="49.40" y="39.10" width="4.10" height="2.05" fill="#e0dcb0"/><rect x="53.20" y="39.10" width="4.10" height="2.05" fill="#d8d8aa"/><rect x="0.00" y="40.80" width="4.10" height="2.05" fill="#58a25a"/><rect x="3.80" y="40.80" width="4.10" height="2.05" fill="#58a25a"/><rect x="7.60" y="40.80" width="4.10" height="2.05" fill="#9ccb52"/><rect x="11.40" y="40.80" width="4.10" height="2.05" fill="#9ccb52"/><rect x="15.20" y="40.80" width="4.10" height="2.05" fill="#86c450"/><rect x="19.00" y="40.80" width="4.10" height="2.05" fill="#58a25a"/><rect x="22.80" y="40.80" width="4.10" height="2.05" fill="#d8d8aa"/><rect x="26.60" y="40.80" width="4.10" height="2.05" fill="#86c450"/><rect x="30.40" y="40.80" width="4.10" height="2.05" fill="#86c450"/><rect x="34.20" y="40.80" width="4.10" height="2.05" fill="#74ac88"/><rect x="38.00" y="40.80" width="4.10" height="2.05" fill="#e0dcb0"/><rect x="41.80" y="40.80" width="4.10" height="2.05" fill="#58a25a"/><rect x="45.60" y="40.80" width="4.10" height="2.05" fill="#e0dcb0"/><rect x="49.40" y="40.80" width="4.10" height="2.05" fill="#9ccb52"/><rect x="53.20" y="40.80" width="4.10" height="2.05" fill="#d8d8aa"/><rect x="0.00" y="42.50" width="4.10" height="2.05" fill="#6ab456"/><rect x="3.80" y="42.50" width="4.10" height="2.05" fill="#86c450"/><rect x="7.60" y="42.50" width="4.10" height="2.05" fill="#3cb2a6"/><rect x="11.40" y="42.50" width="4.10" height="2.05" fill="#86c450"/><rect x="15.20" y="42.50" width="4.10" height="2.05" fill="#d8d8aa"/><rect x="19.00" y="42.50" width="4.10" height="2.05" fill="#86c450"/><rect x="22.80" y="42.50" width="4.10" height="2.05" fill="#d8d8aa"/><rect x="26.60" y="42.50" width="4.10" height="2.05" fill="#58a25a"/><rect x="30.40" y="42.50" width="4.10" height="2.05" fill="#86c450"/><rect x="34.20" y="42.50" width="4.10" height="2.05" fill="#9ccb52"/><rect x="38.00" y="42.50" width="4.10" height="2.05" fill="#e0dcb0"/><rect x="41.80" y="42.50" width="4.10" height="2.05" fill="#58a25a"/><rect x="45.60" y="42.50" width="4.10" height="2.05" fill="#e0dcb0"/><rect x="49.40" y="42.50" width="4.10" height="2.05" fill="#9ccb52"/><rect x="53.20" y="42.50" width="4.10" height="2.05" fill="#e0dcb0"/></g>
<g transform="matrix(1,0,1.2800,1,255.60,230.20)"><rect x="0.00" y="0.00" width="4.10" height="2.05" fill="#86c450"/><rect x="3.80" y="0.00" width="4.10" height="2.05" fill="#74ac88"/><rect x="7.60" y="0.00" width="4.10" height="2.05" fill="#74ac88"/><rect x="11.40" y="0.00" width="4.10" height="2.05" fill="#58a25a"/><rect x="15.20" y="0.00" width="4.10" height="2.05" fill="#58a25a"/><rect x="19.00" y="0.00" width="4.10" height="2.05" fill="#86c450"/><rect x="22.80" y="0.00" width="4.10" height="2.05" fill="#6ab456"/><rect x="26.60" y="0.00" width="4.10" height="2.05" fill="#4e9a55"/><rect x="30.40" y="0.00" width="4.10" height="2.05" fill="#74ac88"/><rect x="34.20" y="0.00" width="4.10" height="2.05" fill="#9ccb52"/><rect x="38.00" y="0.00" width="4.10" height="2.05" fill="#9ccb52"/><rect x="41.80" y="0.00" width="4.10" height="2.05" fill="#74ac88"/><rect x="45.60" y="0.00" width="4.10" height="2.05" fill="#58a25a"/><rect x="49.40" y="0.00" width="4.10" height="2.05" fill="#86c450"/><rect x="53.20" y="0.00" width="4.10" height="2.05" fill="#58a25a"/><rect x="0.00" y="1.70" width="4.10" height="2.05" fill="#58a25a"/><rect x="3.80" y="1.70" width="4.10" height="2.05" fill="#58a25a"/><rect x="7.60" y="1.70" width="4.10" height="2.05" fill="#6ab456"/><rect x="11.40" y="1.70" width="4.10" height="2.05" fill="#d8d8aa"/><rect x="15.20" y="1.70" width="4.10" height="2.05" fill="#58a25a"/><rect x="19.00" y="1.70" width="4.10" height="2.05" fill="#86c450"/><rect x="22.80" y="1.70" width="4.10" height="2.05" fill="#86c450"/><rect x="26.60" y="1.70" width="4.10" height="2.05" fill="#4e9a55"/><rect x="30.40" y="1.70" width="4.10" height="2.05" fill="#58a25a"/><rect x="34.20" y="1.70" width="4.10" height="2.05" fill="#58a25a"/><rect x="38.00" y="1.70" width="4.10" height="2.05" fill="#9ccb52"/><rect x="41.80" y="1.70" width="4.10" height="2.05" fill="#74ac88"/><rect x="45.60" y="1.70" width="4.10" height="2.05" fill="#58a25a"/><rect x="49.40" y="1.70" width="4.10" height="2.05" fill="#86c450"/><rect x="53.20" y="1.70" width="4.10" height="2.05" fill="#86c450"/><rect x="0.00" y="3.40" width="4.10" height="2.05" fill="#9ccb52"/><rect x="3.80" y="3.40" width="4.10" height="2.05" fill="#86c450"/><rect x="7.60" y="3.40" width="4.10" height="2.05" fill="#6ab456"/><rect x="11.40" y="3.40" width="4.10" height="2.05" fill="#5aaa80"/><rect x="15.20" y="3.40" width="4.10" height="2.05" fill="#74ac88"/><rect x="19.00" y="3.40" width="4.10" height="2.05" fill="#86c450"/><rect x="22.80" y="3.40" width="4.10" height="2.05" fill="#74ac88"/><rect x="26.60" y="3.40" width="4.10" height="2.05" fill="#e0dcb0"/><rect x="30.40" y="3.40" width="4.10" height="2.05" fill="#58a25a"/><rect x="34.20" y="3.40" width="4.10" height="2.05" fill="#86c450"/><rect x="38.00" y="3.40" width="4.10" height="2.05" fill="#86c450"/><rect x="41.80" y="3.40" width="4.10" height="2.05" fill="#74ac88"/><rect x="45.60" y="3.40" width="4.10" height="2.05" fill="#86c450"/><rect x="49.40" y="3.40" width="4.10" height="2.05" fill="#6ab456"/><rect x="53.20" y="3.40" width="4.10" height="2.05" fill="#86c450"/><rect x="0.00" y="5.10" width="4.10" height="2.05" fill="#58a25a"/><rect x="3.80" y="5.10" width="4.10" height="2.05" fill="#6ab456"/><rect x="7.60" y="5.10" width="4.10" height="2.05" fill="#58a25a"/><rect x="11.40" y="5.10" width="4.10" height="2.05" fill="#5aaa80"/><rect x="15.20" y="5.10" width="4.10" height="2.05" fill="#9ccb52"/><rect x="19.00" y="5.10" width="4.10" height="2.05" fill="#86c450"/><rect x="22.80" y="5.10" width="4.10" height="2.05" fill="#6ab456"/><rect x="26.60" y="5.10" width="4.10" height="2.05" fill="#6ab456"/><rect x="30.40" y="5.10" width="4.10" height="2.05" fill="#5aaa80"/><rect x="34.20" y="5.10" width="4.10" height="2.05" fill="#5aaa80"/><rect x="38.00" y="5.10" width="4.10" height="2.05" fill="#86c450"/><rect x="41.80" y="5.10" width="4.10" height="2.05" fill="#86c450"/><rect x="45.60" y="5.10" width="4.10" height="2.05" fill="#86c450"/><rect x="49.40" y="5.10" width="4.10" height="2.05" fill="#5aaa80"/><rect x="53.20" y="5.10" width="4.10" height="2.05" fill="#86c450"/><rect x="0.00" y="6.80" width="4.10" height="2.05" fill="#58a25a"/><rect x="3.80" y="6.80" width="4.10" height="2.05" fill="#6ab456"/><rect x="7.60" y="6.80" width="4.10" height="2.05" fill="#58a25a"/><rect x="11.40" y="6.80" width="4.10" height="2.05" fill="#5aaa80"/><rect x="15.20" y="6.80" width="4.10" height="2.05" fill="#9ccb52"/><rect x="19.00" y="6.80" width="4.10" height="2.05" fill="#5aaa80"/><rect x="22.80" y="6.80" width="4.10" height="2.05" fill="#86c450"/><rect x="26.60" y="6.80" width="4.10" height="2.05" fill="#6ab456"/><rect x="30.40" y="6.80" width="4.10" height="2.05" fill="#4e9a55"/><rect x="34.20" y="6.80" width="4.10" height="2.05" fill="#6ab456"/><rect x="38.00" y="6.80" width="4.10" height="2.05" fill="#7ccad8"/><rect x="41.80" y="6.80" width="4.10" height="2.05" fill="#9ccb52"/><rect x="45.60" y="6.80" width="4.10" height="2.05" fill="#86c450"/><rect x="49.40" y="6.80" width="4.10" height="2.05" fill="#3cb2a6"/><rect x="53.20" y="6.80" width="4.10" height="2.05" fill="#86c450"/><rect x="0.00" y="8.50" width="4.10" height="2.05" fill="#58a25a"/><rect x="3.80" y="8.50" width="4.10" height="2.05" fill="#6ab456"/><rect x="7.60" y="8.50" width="4.10" height="2.05" fill="#74ac88"/><rect x="11.40" y="8.50" width="4.10" height="2.05" fill="#5aaa80"/><rect x="15.20" y="8.50" width="4.10" height="2.05" fill="#3cb2a6"/><rect x="19.00" y="8.50" width="4.10" height="2.05" fill="#5aaa80"/><rect x="22.80" y="8.50" width="4.10" height="2.05" fill="#74ac88"/><rect x="26.60" y="8.50" width="4.10" height="2.05" fill="#6ab456"/><rect x="30.40" y="8.50" width="4.10" height="2.05" fill="#6ab456"/><rect x="34.20" y="8.50" width="4.10" height="2.05" fill="#7ccad8"/><rect x="38.00" y="8.50" width="4.10" height="2.05" fill="#9ccb52"/><rect x="41.80" y="8.50" width="4.10" height="2.05" fill="#5aaa80"/><rect x="45.60" y="8.50" width="4.10" height="2.05" fill="#86c450"/><rect x="49.40" y="8.50" width="4.10" height="2.05" fill="#7ccad8"/><rect x="53.20" y="8.50" width="4.10" height="2.05" fill="#9ccb52"/><rect x="0.00" y="10.20" width="4.10" height="2.05" fill="#86c450"/><rect x="3.80" y="10.20" width="4.10" height="2.05" fill="#58a25a"/><rect x="7.60" y="10.20" width="4.10" height="2.05" fill="#4e9a55"/><rect x="11.40" y="10.20" width="4.10" height="2.05" fill="#9ccb52"/><rect x="15.20" y="10.20" width="4.10" height="2.05" fill="#58a25a"/><rect x="19.00" y="10.20" width="4.10" height="2.05" fill="#6ab456"/><rect x="22.80" y="10.20" width="4.10" height="2.05" fill="#74ac88"/><rect x="26.60" y="10.20" width="4.10" height="2.05" fill="#9ccb52"/><rect x="30.40" y="10.20" width="4.10" height="2.05" fill="#7ccad8"/><rect x="34.20" y="10.20" width="4.10" height="2.05" fill="#7ccad8"/><rect x="38.00" y="10.20" width="4.10" height="2.05" fill="#86c450"/><rect x="41.80" y="10.20" width="4.10" height="2.05" fill="#5aaa80"/><rect x="45.60" y="10.20" width="4.10" height="2.05" fill="#6ab456"/><rect x="49.40" y="10.20" width="4.10" height="2.05" fill="#58a25a"/><rect x="53.20" y="10.20" width="4.10" height="2.05" fill="#9ccb52"/><rect x="0.00" y="11.90" width="4.10" height="2.05" fill="#3cb2a6"/><rect x="3.80" y="11.90" width="4.10" height="2.05" fill="#74ac88"/><rect x="7.60" y="11.90" width="4.10" height="2.05" fill="#58a25a"/><rect x="11.40" y="11.90" width="4.10" height="2.05" fill="#3cb2a6"/><rect x="15.20" y="11.90" width="4.10" height="2.05" fill="#6ab456"/><rect x="19.00" y="11.90" width="4.10" height="2.05" fill="#6ab456"/><rect x="22.80" y="11.90" width="4.10" height="2.05" fill="#74ac88"/><rect x="26.60" y="11.90" width="4.10" height="2.05" fill="#7ccad8"/><rect x="30.40" y="11.90" width="4.10" height="2.05" fill="#7ccad8"/><rect x="34.20" y="11.90" width="4.10" height="2.05" fill="#6ab456"/><rect x="38.00" y="11.90" width="4.10" height="2.05" fill="#86c450"/><rect x="41.80" y="11.90" width="4.10" height="2.05" fill="#6ab456"/><rect x="45.60" y="11.90" width="4.10" height="2.05" fill="#86c450"/><rect x="49.40" y="11.90" width="4.10" height="2.05" fill="#58a25a"/><rect x="53.20" y="11.90" width="4.10" height="2.05" fill="#9ccb52"/><rect x="0.00" y="13.60" width="4.10" height="2.05" fill="#6ab456"/><rect x="3.80" y="13.60" width="4.10" height="2.05" fill="#3cb2a6"/><rect x="7.60" y="13.60" width="4.10" height="2.05" fill="#58a25a"/><rect x="11.40" y="13.60" width="4.10" height="2.05" fill="#3cb2a6"/><rect x="15.20" y="13.60" width="4.10" height="2.05" fill="#74ac88"/><rect x="19.00" y="13.60" width="4.10" height="2.05" fill="#9ccb52"/><rect x="22.80" y="13.60" width="4.10" height="2.05" fill="#4e9a55"/><rect x="26.60" y="13.60" width="4.10" height="2.05" fill="#7ccad8"/><rect x="30.40" y="13.60" width="4.10" height="2.05" fill="#7ccad8"/><rect x="34.20" y="13.60" width="4.10" height="2.05" fill="#6ab456"/><rect x="38.00" y="13.60" width="4.10" height="2.05" fill="#86c450"/><rect x="41.80" y="13.60" width="4.10" height="2.05" fill="#6ab456"/><rect x="45.60" y="13.60" width="4.10" height="2.05" fill="#6ab456"/><rect x="49.40" y="13.60" width="4.10" height="2.05" fill="#58a25a"/><rect x="53.20" y="13.60" width="4.10" height="2.05" fill="#6ab456"/><rect x="0.00" y="15.30" width="4.10" height="2.05" fill="#9ccb52"/><rect x="3.80" y="15.30" width="4.10" height="2.05" fill="#3cb2a6"/><rect x="7.60" y="15.30" width="4.10" height="2.05" fill="#58a25a"/><rect x="11.40" y="15.30" width="4.10" height="2.05" fill="#9ccb52"/><rect x="15.20" y="15.30" width="4.10" height="2.05" fill="#9ccb52"/><rect x="19.00" y="15.30" width="4.10" height="2.05" fill="#3cb2a6"/><rect x="22.80" y="15.30" width="4.10" height="2.05" fill="#86c450"/><rect x="26.60" y="15.30" width="4.10" height="2.05" fill="#86c450"/><rect x="30.40" y="15.30" width="4.10" height="2.05" fill="#58a25a"/><rect x="34.20" y="15.30" width="4.10" height="2.05" fill="#6ab456"/><rect x="38.00" y="15.30" width="4.10" height="2.05" fill="#86c450"/><rect x="41.80" y="15.30" width="4.10" height="2.05" fill="#86c450"/><rect x="45.60" y="15.30" width="4.10" height="2.05" fill="#6ab456"/><rect x="49.40" y="15.30" width="4.10" height="2.05" fill="#3cb2a6"/><rect x="53.20" y="15.30" width="4.10" height="2.05" fill="#86c450"/><rect x="0.00" y="17.00" width="4.10" height="2.05" fill="#6ab456"/><rect x="3.80" y="17.00" width="4.10" height="2.05" fill="#3cb2a6"/><rect x="7.60" y="17.00" width="4.10" height="2.05" fill="#6ab456"/><rect x="11.40" y="17.00" width="4.10" height="2.05" fill="#9ccb52"/><rect x="15.20" y="17.00" width="4.10" height="2.05" fill="#3cb2a6"/><rect x="19.00" y="17.00" width="4.10" height="2.05" fill="#3cb2a6"/><rect x="22.80" y="17.00" width="4.10" height="2.05" fill="#86c450"/><rect x="26.60" y="17.00" width="4.10" height="2.05" fill="#86c450"/><rect x="30.40" y="17.00" width="4.10" height="2.05" fill="#6ab456"/><rect x="34.20" y="17.00" width="4.10" height="2.05" fill="#6ab456"/><rect x="38.00" y="17.00" width="4.10" height="2.05" fill="#86c450"/><rect x="41.80" y="17.00" width="4.10" height="2.05" fill="#3cb2a6"/><rect x="45.60" y="17.00" width="4.10" height="2.05" fill="#58a25a"/><rect x="49.40" y="17.00" width="4.10" height="2.05" fill="#9ccb52"/><rect x="53.20" y="17.00" width="4.10" height="2.05" fill="#86c450"/><rect x="0.00" y="18.70" width="4.10" height="2.05" fill="#86c450"/><rect x="3.80" y="18.70" width="4.10" height="2.05" fill="#9ccb52"/><rect x="7.60" y="18.70" width="4.10" height="2.05" fill="#3cb2a6"/><rect x="11.40" y="18.70" width="4.10" height="2.05" fill="#3cb2a6"/><rect x="15.20" y="18.70" width="4.10" height="2.05" fill="#3cb2a6"/><rect x="19.00" y="18.70" width="4.10" height="2.05" fill="#6ab456"/><rect x="22.80" y="18.70" width="4.10" height="2.05" fill="#86c450"/><rect x="26.60" y="18.70" width="4.10" height="2.05" fill="#74ac88"/><rect x="30.40" y="18.70" width="4.10" height="2.05" fill="#74ac88"/><rect x="34.20" y="18.70" width="4.10" height="2.05" fill="#86c450"/><rect x="38.00" y="18.70" width="4.10" height="2.05" fill="#4e9a55"/><rect x="41.80" y="18.70" width="4.10" height="2.05" fill="#58a25a"/><rect x="45.60" y="18.70" width="4.10" height="2.05" fill="#58a25a"/><rect x="49.40" y="18.70" width="4.10" height="2.05" fill="#9ccb52"/><rect x="53.20" y="18.70" width="4.10" height="2.05" fill="#86c450"/><rect x="0.00" y="20.40" width="4.10" height="2.05" fill="#3cb2a6"/><rect x="3.80" y="20.40" width="4.10" height="2.05" fill="#3cb2a6"/><rect x="7.60" y="20.40" width="4.10" height="2.05" fill="#3cb2a6"/><rect x="11.40" y="20.40" width="4.10" height="2.05" fill="#3cb2a6"/><rect x="15.20" y="20.40" width="4.10" height="2.05" fill="#5aaa80"/><rect x="19.00" y="20.40" width="4.10" height="2.05" fill="#4e9a55"/><rect x="22.80" y="20.40" width="4.10" height="2.05" fill="#58a25a"/><rect x="26.60" y="20.40" width="4.10" height="2.05" fill="#74ac88"/><rect x="30.40" y="20.40" width="4.10" height="2.05" fill="#86c450"/><rect x="34.20" y="20.40" width="4.10" height="2.05" fill="#86c450"/><rect x="38.00" y="20.40" width="4.10" height="2.05" fill="#86c450"/><rect x="41.80" y="20.40" width="4.10" height="2.05" fill="#a8c8ec"/><rect x="45.60" y="20.40" width="4.10" height="2.05" fill="#a8c8ec"/><rect x="49.40" y="20.40" width="4.10" height="2.05" fill="#9ccb52"/><rect x="53.20" y="20.40" width="4.10" height="2.05" fill="#86c450"/><rect x="0.00" y="22.10" width="4.10" height="2.05" fill="#5aaa80"/><rect x="3.80" y="22.10" width="4.10" height="2.05" fill="#4e9a55"/><rect x="7.60" y="22.10" width="4.10" height="2.05" fill="#86c450"/><rect x="11.40" y="22.10" width="4.10" height="2.05" fill="#3cb2a6"/><rect x="15.20" y="22.10" width="4.10" height="2.05" fill="#74ac88"/><rect x="19.00" y="22.10" width="4.10" height="2.05" fill="#4e9a55"/><rect x="22.80" y="22.10" width="4.10" height="2.05" fill="#58a25a"/><rect x="26.60" y="22.10" width="4.10" height="2.05" fill="#4e9a55"/><rect x="30.40" y="22.10" width="4.10" height="2.05" fill="#4e9a55"/><rect x="34.20" y="22.10" width="4.10" height="2.05" fill="#86c450"/><rect x="38.00" y="22.10" width="4.10" height="2.05" fill="#5aaa80"/><rect x="41.80" y="22.10" width="4.10" height="2.05" fill="#86c450"/><rect x="45.60" y="22.10" width="4.10" height="2.05" fill="#e0dcb0"/><rect x="49.40" y="22.10" width="4.10" height="2.05" fill="#86c450"/><rect x="53.20" y="22.10" width="4.10" height="2.05" fill="#e0dcb0"/><rect x="0.00" y="23.80" width="4.10" height="2.05" fill="#9ccb52"/><rect x="3.80" y="23.80" width="4.10" height="2.05" fill="#4e9a55"/><rect x="7.60" y="23.80" width="4.10" height="2.05" fill="#3cb2a6"/><rect x="11.40" y="23.80" width="4.10" height="2.05" fill="#6ab456"/><rect x="15.20" y="23.80" width="4.10" height="2.05" fill="#58a25a"/><rect x="19.00" y="23.80" width="4.10" height="2.05" fill="#9ccb52"/><rect x="22.80" y="23.80" width="4.10" height="2.05" fill="#58a25a"/><rect x="26.60" y="23.80" width="4.10" height="2.05" fill="#9ccb52"/><rect x="30.40" y="23.80" width="4.10" height="2.05" fill="#86c450"/><rect x="34.20" y="23.80" width="4.10" height="2.05" fill="#86c450"/><rect x="38.00" y="23.80" width="4.10" height="2.05" fill="#6ab456"/><rect x="41.80" y="23.80" width="4.10" height="2.05" fill="#e0dcb0"/><rect x="45.60" y="23.80" width="4.10" height="2.05" fill="#e0dcb0"/><rect x="49.40" y="23.80" width="4.10" height="2.05" fill="#e0dcb0"/><rect x="53.20" y="23.80" width="4.10" height="2.05" fill="#e0dcb0"/><rect x="0.00" y="25.50" width="4.10" height="2.05" fill="#9ccb52"/><rect x="3.80" y="25.50" width="4.10" height="2.05" fill="#3cb2a6"/><rect x="7.60" y="25.50" width="4.10" height="2.05" fill="#3cb2a6"/><rect x="11.40" y="25.50" width="4.10" height="2.05" fill="#5aaa80"/><rect x="15.20" y="25.50" width="4.10" height="2.05" fill="#58a25a"/><rect x="19.00" y="25.50" width="4.10" height="2.05" fill="#74ac88"/><rect x="22.80" y="25.50" width="4.10" height="2.05" fill="#86c450"/><rect x="26.60" y="25.50" width="4.10" height="2.05" fill="#58a25a"/><rect x="30.40" y="25.50" width="4.10" height="2.05" fill="#58a25a"/><rect x="34.20" y="25.50" width="4.10" height="2.05" fill="#86c450"/><rect x="38.00" y="25.50" width="4.10" height="2.05" fill="#5aaa80"/><rect x="41.80" y="25.50" width="4.10" height="2.05" fill="#58a25a"/><rect x="45.60" y="25.50" width="4.10" height="2.05" fill="#e0dcb0"/><rect x="49.40" y="25.50" width="4.10" height="2.05" fill="#e0dcb0"/><rect x="53.20" y="25.50" width="4.10" height="2.05" fill="#6ab456"/><rect x="0.00" y="27.20" width="4.10" height="2.05" fill="#9ccb52"/><rect x="3.80" y="27.20" width="4.10" height="2.05" fill="#9ccb52"/><rect x="7.60" y="27.20" width="4.10" height="2.05" fill="#86c450"/><rect x="11.40" y="27.20" width="4.10" height="2.05" fill="#86c450"/><rect x="15.20" y="27.20" width="4.10" height="2.05" fill="#86c450"/><rect x="19.00" y="27.20" width="4.10" height="2.05" fill="#e0dcb0"/><rect x="22.80" y="27.20" width="4.10" height="2.05" fill="#4e9a55"/><rect x="26.60" y="27.20" width="4.10" height="2.05" fill="#6ab456"/><rect x="30.40" y="27.20" width="4.10" height="2.05" fill="#4e9a55"/><rect x="34.20" y="27.20" width="4.10" height="2.05" fill="#74ac88"/><rect x="38.00" y="27.20" width="4.10" height="2.05" fill="#4e9a55"/><rect x="41.80" y="27.20" width="4.10" height="2.05" fill="#6ab456"/><rect x="45.60" y="27.20" width="4.10" height="2.05" fill="#58a25a"/><rect x="49.40" y="27.20" width="4.10" height="2.05" fill="#3cb2a6"/><rect x="53.20" y="27.20" width="4.10" height="2.05" fill="#86c450"/><rect x="0.00" y="28.90" width="4.10" height="2.05" fill="#7ccad8"/><rect x="3.80" y="28.90" width="4.10" height="2.05" fill="#9ccb52"/><rect x="7.60" y="28.90" width="4.10" height="2.05" fill="#86c450"/><rect x="11.40" y="28.90" width="4.10" height="2.05" fill="#6ab456"/><rect x="15.20" y="28.90" width="4.10" height="2.05" fill="#e0dcb0"/><rect x="19.00" y="28.90" width="4.10" height="2.05" fill="#e0dcb0"/><rect x="22.80" y="28.90" width="4.10" height="2.05" fill="#3cb2a6"/><rect x="26.60" y="28.90" width="4.10" height="2.05" fill="#3cb2a6"/><rect x="30.40" y="28.90" width="4.10" height="2.05" fill="#7ccad8"/><rect x="34.20" y="28.90" width="4.10" height="2.05" fill="#7ccad8"/><rect x="38.00" y="28.90" width="4.10" height="2.05" fill="#7ccad8"/><rect x="41.80" y="28.90" width="4.10" height="2.05" fill="#86c450"/><rect x="45.60" y="28.90" width="4.10" height="2.05" fill="#5aaa80"/><rect x="49.40" y="28.90" width="4.10" height="2.05" fill="#3cb2a6"/><rect x="53.20" y="28.90" width="4.10" height="2.05" fill="#86c450"/><rect x="0.00" y="30.60" width="4.10" height="2.05" fill="#7ccad8"/><rect x="3.80" y="30.60" width="4.10" height="2.05" fill="#9ccb52"/><rect x="7.60" y="30.60" width="4.10" height="2.05" fill="#6ab456"/><rect x="11.40" y="30.60" width="4.10" height="2.05" fill="#4e9a55"/><rect x="15.20" y="30.60" width="4.10" height="2.05" fill="#4e9a55"/><rect x="19.00" y="30.60" width="4.10" height="2.05" fill="#6ab456"/><rect x="22.80" y="30.60" width="4.10" height="2.05" fill="#3cb2a6"/><rect x="26.60" y="30.60" width="4.10" height="2.05" fill="#3cb2a6"/><rect x="30.40" y="30.60" width="4.10" height="2.05" fill="#7ccad8"/><rect x="34.20" y="30.60" width="4.10" height="2.05" fill="#9ccb52"/><rect x="38.00" y="30.60" width="4.10" height="2.05" fill="#7ccad8"/><rect x="41.80" y="30.60" width="4.10" height="2.05" fill="#86c450"/><rect x="45.60" y="30.60" width="4.10" height="2.05" fill="#86c450"/><rect x="49.40" y="30.60" width="4.10" height="2.05" fill="#58a25a"/><rect x="53.20" y="30.60" width="4.10" height="2.05" fill="#86c450"/><rect x="0.00" y="32.30" width="4.10" height="2.05" fill="#d8d8aa"/><rect x="3.80" y="32.30" width="4.10" height="2.05" fill="#9ccb52"/><rect x="7.60" y="32.30" width="4.10" height="2.05" fill="#3cb2a6"/><rect x="11.40" y="32.30" width="4.10" height="2.05" fill="#7ccad8"/><rect x="15.20" y="32.30" width="4.10" height="2.05" fill="#4e9a55"/><rect x="19.00" y="32.30" width="4.10" height="2.05" fill="#9ccb52"/><rect x="22.80" y="32.30" width="4.10" height="2.05" fill="#3cb2a6"/><rect x="26.60" y="32.30" width="4.10" height="2.05" fill="#7ccad8"/><rect x="30.40" y="32.30" width="4.10" height="2.05" fill="#86c450"/><rect x="34.20" y="32.30" width="4.10" height="2.05" fill="#3cb2a6"/><rect x="38.00" y="32.30" width="4.10" height="2.05" fill="#86c450"/><rect x="41.80" y="32.30" width="4.10" height="2.05" fill="#86c450"/><rect x="45.60" y="32.30" width="4.10" height="2.05" fill="#3cb2a6"/><rect x="49.40" y="32.30" width="4.10" height="2.05" fill="#3cb2a6"/><rect x="53.20" y="32.30" width="4.10" height="2.05" fill="#3cb2a6"/><rect x="0.00" y="34.00" width="4.10" height="2.05" fill="#58a25a"/><rect x="3.80" y="34.00" width="4.10" height="2.05" fill="#58a25a"/><rect x="7.60" y="34.00" width="4.10" height="2.05" fill="#9ccb52"/><rect x="11.40" y="34.00" width="4.10" height="2.05" fill="#7ccad8"/><rect x="15.20" y="34.00" width="4.10" height="2.05" fill="#3cb2a6"/><rect x="19.00" y="34.00" width="4.10" height="2.05" fill="#9ccb52"/><rect x="22.80" y="34.00" width="4.10" height="2.05" fill="#3cb2a6"/><rect x="26.60" y="34.00" width="4.10" height="2.05" fill="#7ccad8"/><rect x="30.40" y="34.00" width="4.10" height="2.05" fill="#4e9a55"/><rect x="34.20" y="34.00" width="4.10" height="2.05" fill="#6ab456"/><rect x="38.00" y="34.00" width="4.10" height="2.05" fill="#86c450"/><rect x="41.80" y="34.00" width="4.10" height="2.05" fill="#86c450"/><rect x="45.60" y="34.00" width="4.10" height="2.05" fill="#3cb2a6"/><rect x="49.40" y="34.00" width="4.10" height="2.05" fill="#58a25a"/><rect x="53.20" y="34.00" width="4.10" height="2.05" fill="#86c450"/><rect x="0.00" y="35.70" width="4.10" height="2.05" fill="#9ccb52"/><rect x="3.80" y="35.70" width="4.10" height="2.05" fill="#9ccb52"/><rect x="7.60" y="35.70" width="4.10" height="2.05" fill="#6ab456"/><rect x="11.40" y="35.70" width="4.10" height="2.05" fill="#5aaa80"/><rect x="15.20" y="35.70" width="4.10" height="2.05" fill="#3cb2a6"/><rect x="19.00" y="35.70" width="4.10" height="2.05" fill="#5aaa80"/><rect x="22.80" y="35.70" width="4.10" height="2.05" fill="#6ab456"/><rect x="26.60" y="35.70" width="4.10" height="2.05" fill="#7ccad8"/><rect x="30.40" y="35.70" width="4.10" height="2.05" fill="#4e9a55"/><rect x="34.20" y="35.70" width="4.10" height="2.05" fill="#6ab456"/><rect x="38.00" y="35.70" width="4.10" height="2.05" fill="#4e9a55"/><rect x="41.80" y="35.70" width="4.10" height="2.05" fill="#4e9a55"/><rect x="45.60" y="35.70" width="4.10" height="2.05" fill="#3cb2a6"/><rect x="49.40" y="35.70" width="4.10" height="2.05" fill="#58a25a"/><rect x="53.20" y="35.70" width="4.10" height="2.05" fill="#3cb2a6"/><rect x="0.00" y="37.40" width="4.10" height="2.05" fill="#86c450"/><rect x="3.80" y="37.40" width="4.10" height="2.05" fill="#e0dcb0"/><rect x="7.60" y="37.40" width="4.10" height="2.05" fill="#e0dcb0"/><rect x="11.40" y="37.40" width="4.10" height="2.05" fill="#5aaa80"/><rect x="15.20" y="37.40" width="4.10" height="2.05" fill="#3cb2a6"/><rect x="19.00" y="37.40" width="4.10" height="2.05" fill="#3cb2a6"/><rect x="22.80" y="37.40" width="4.10" height="2.05" fill="#86c450"/><rect x="26.60" y="37.40" width="4.10" height="2.05" fill="#86c450"/><rect x="30.40" y="37.40" width="4.10" height="2.05" fill="#4e9a55"/><rect x="34.20" y="37.40" width="4.10" height="2.05" fill="#3cb2a6"/><rect x="38.00" y="37.40" width="4.10" height="2.05" fill="#9ccb52"/><rect x="41.80" y="37.40" width="4.10" height="2.05" fill="#4e9a55"/><rect x="45.60" y="37.40" width="4.10" height="2.05" fill="#86c450"/><rect x="49.40" y="37.40" width="4.10" height="2.05" fill="#58a25a"/><rect x="53.20" y="37.40" width="4.10" height="2.05" fill="#3cb2a6"/><rect x="0.00" y="39.10" width="4.10" height="2.05" fill="#58a25a"/><rect x="3.80" y="39.10" width="4.10" height="2.05" fill="#6ab456"/><rect x="7.60" y="39.10" width="4.10" height="2.05" fill="#74ac88"/><rect x="11.40" y="39.10" width="4.10" height="2.05" fill="#86c450"/><rect x="15.20" y="39.10" width="4.10" height="2.05" fill="#6ab456"/><rect x="19.00" y="39.10" width="4.10" height="2.05" fill="#5aaa80"/><rect x="22.80" y="39.10" width="4.10" height="2.05" fill="#74ac88"/><rect x="26.60" y="39.10" width="4.10" height="2.05" fill="#86c450"/><rect x="30.40" y="39.10" width="4.10" height="2.05" fill="#58a25a"/><rect x="34.20" y="39.10" width="4.10" height="2.05" fill="#9ccb52"/><rect x="38.00" y="39.10" width="4.10" height="2.05" fill="#9ccb52"/><rect x="41.80" y="39.10" width="4.10" height="2.05" fill="#4e9a55"/><rect x="45.60" y="39.10" width="4.10" height="2.05" fill="#86c450"/><rect x="49.40" y="39.10" width="4.10" height="2.05" fill="#58a25a"/><rect x="53.20" y="39.10" width="4.10" height="2.05" fill="#3cb2a6"/><rect x="0.00" y="40.80" width="4.10" height="2.05" fill="#74ac88"/><rect x="3.80" y="40.80" width="4.10" height="2.05" fill="#6ab456"/><rect x="7.60" y="40.80" width="4.10" height="2.05" fill="#86c450"/><rect x="11.40" y="40.80" width="4.10" height="2.05" fill="#58a25a"/><rect x="15.20" y="40.80" width="4.10" height="2.05" fill="#6ab456"/><rect x="19.00" y="40.80" width="4.10" height="2.05" fill="#6ab456"/><rect x="22.80" y="40.80" width="4.10" height="2.05" fill="#6ab456"/><rect x="26.60" y="40.80" width="4.10" height="2.05" fill="#86c450"/><rect x="30.40" y="40.80" width="4.10" height="2.05" fill="#58a25a"/><rect x="34.20" y="40.80" width="4.10" height="2.05" fill="#9ccb52"/><rect x="38.00" y="40.80" width="4.10" height="2.05" fill="#3cb2a6"/><rect x="41.80" y="40.80" width="4.10" height="2.05" fill="#86c450"/><rect x="45.60" y="40.80" width="4.10" height="2.05" fill="#86c450"/><rect x="49.40" y="40.80" width="4.10" height="2.05" fill="#58a25a"/><rect x="53.20" y="40.80" width="4.10" height="2.05" fill="#3cb2a6"/><rect x="0.00" y="42.50" width="4.10" height="2.05" fill="#3cb2a6"/><rect x="3.80" y="42.50" width="4.10" height="2.05" fill="#6ab456"/><rect x="7.60" y="42.50" width="4.10" height="2.05" fill="#86c450"/><rect x="11.40" y="42.50" width="4.10" height="2.05" fill="#58a25a"/><rect x="15.20" y="42.50" width="4.10" height="2.05" fill="#58a25a"/><rect x="19.00" y="42.50" width="4.10" height="2.05" fill="#6ab456"/><rect x="22.80" y="42.50" width="4.10" height="2.05" fill="#6ab456"/><rect x="26.60" y="42.50" width="4.10" height="2.05" fill="#5aaa80"/><rect x="30.40" y="42.50" width="4.10" height="2.05" fill="#9ccb52"/><rect x="34.20" y="42.50" width="4.10" height="2.05" fill="#9ccb52"/><rect x="38.00" y="42.50" width="4.10" height="2.05" fill="#3cb2a6"/><rect x="41.80" y="42.50" width="4.10" height="2.05" fill="#86c450"/><rect x="45.60" y="42.50" width="4.10" height="2.05" fill="#5aaa80"/><rect x="49.40" y="42.50" width="4.10" height="2.05" fill="#58a25a"/><rect x="53.20" y="42.50" width="4.10" height="2.05" fill="#5aaa80"/></g>
<g transform="matrix(1,0,1.2800,1,380.70,230.20)"><rect x="0.00" y="0.00" width="4.10" height="2.05" fill="#6ab456"/><rect x="3.80" y="0.00" width="4.10" height="2.05" fill="#4e9a55"/><rect x="7.60" y="0.00" width="4.10" height="2.05" fill="#4e9a55"/><rect x="11.40" y="0.00" width="4.10" height="2.05" fill="#e8d8b0"/><rect x="15.20" y="0.00" width="4.10" height="2.05" fill="#6ab456"/><rect x="19.00" y="0.00" width="4.10" height="2.05" fill="#6ab456"/><rect x="22.80" y="0.00" width="4.10" height="2.05" fill="#6ab456"/><rect x="26.60" y="0.00" width="4.10" height="2.05" fill="#6ab456"/><rect x="30.40" y="0.00" width="4.10" height="2.05" fill="#4e9a55"/><rect x="34.20" y="0.00" width="4.10" height="2.05" fill="#6ab456"/><rect x="38.00" y="0.00" width="4.10" height="2.05" fill="#6ab456"/><rect x="41.80" y="0.00" width="4.10" height="2.05" fill="#e0dcb0"/><rect x="45.60" y="0.00" width="4.10" height="2.05" fill="#e0dcb0"/><rect x="49.40" y="0.00" width="4.10" height="2.05" fill="#4e9a55"/><rect x="53.20" y="0.00" width="4.10" height="2.05" fill="#e0dcb0"/><rect x="0.00" y="1.70" width="4.10" height="2.05" fill="#6ab456"/><rect x="3.80" y="1.70" width="4.10" height="2.05" fill="#4e9a55"/><rect x="7.60" y="1.70" width="4.10" height="2.05" fill="#e8d8b0"/><rect x="11.40" y="1.70" width="4.10" height="2.05" fill="#e8d8b0"/><rect x="15.20" y="1.70" width="4.10" height="2.05" fill="#3cb2a6"/><rect x="19.00" y="1.70" width="4.10" height="2.05" fill="#6ab456"/><rect x="22.80" y="1.70" width="4.10" height="2.05" fill="#4e9a55"/><rect x="26.60" y="1.70" width="4.10" height="2.05" fill="#86c450"/><rect x="30.40" y="1.70" width="4.10" height="2.05" fill="#6ab456"/><rect x="34.20" y="1.70" width="4.10" height="2.05" fill="#e0dcb0"/><rect x="38.00" y="1.70" width="4.10" height="2.05" fill="#7ccad8"/><rect x="41.80" y="1.70" width="4.10" height="2.05" fill="#74ac88"/><rect x="45.60" y="1.70" width="4.10" height="2.05" fill="#6ab456"/><rect x="49.40" y="1.70" width="4.10" height="2.05" fill="#6ab456"/><rect x="53.20" y="1.70" width="4.10" height="2.05" fill="#e0dcb0"/><rect x="0.00" y="3.40" width="4.10" height="2.05" fill="#6ab456"/><rect x="3.80" y="3.40" width="4.10" height="2.05" fill="#4e9a55"/><rect x="7.60" y="3.40" width="4.10" height="2.05" fill="#6ab456"/><rect x="11.40" y="3.40" width="4.10" height="2.05" fill="#6ab456"/><rect x="15.20" y="3.40" width="4.10" height="2.05" fill="#3cb2a6"/><rect x="19.00" y="3.40" width="4.10" height="2.05" fill="#6ab456"/><rect x="22.80" y="3.40" width="4.10" height="2.05" fill="#e2c44a"/><rect x="26.60" y="3.40" width="4.10" height="2.05" fill="#e2c44a"/><rect x="30.40" y="3.40" width="4.10" height="2.05" fill="#3cb2a6"/><rect x="34.20" y="3.40" width="4.10" height="2.05" fill="#86c450"/><rect x="38.00" y="3.40" width="4.10" height="2.05" fill="#3cb2a6"/><rect x="41.80" y="3.40" width="4.10" height="2.05" fill="#74ac88"/><rect x="45.60" y="3.40" width="4.10" height="2.05" fill="#6ab456"/><rect x="49.40" y="3.40" width="4.10" height="2.05" fill="#e8d8b0"/><rect x="53.20" y="3.40" width="4.10" height="2.05" fill="#4e9a55"/><rect x="0.00" y="5.10" width="4.10" height="2.05" fill="#6ab456"/><rect x="3.80" y="5.10" width="4.10" height="2.05" fill="#e8d8b0"/><rect x="7.60" y="5.10" width="4.10" height="2.05" fill="#e8d8b0"/><rect x="11.40" y="5.10" width="4.10" height="2.05" fill="#6ab456"/><rect x="15.20" y="5.10" width="4.10" height="2.05" fill="#86c450"/><rect x="19.00" y="5.10" width="4.10" height="2.05" fill="#6ab456"/><rect x="22.80" y="5.10" width="4.10" height="2.05" fill="#7ccad8"/><rect x="26.60" y="5.10" width="4.10" height="2.05" fill="#4e9a55"/><rect x="30.40" y="5.10" width="4.10" height="2.05" fill="#3cb2a6"/><rect x="34.20" y="5.10" width="4.10" height="2.05" fill="#4e9a55"/><rect x="38.00" y="5.10" width="4.10" height="2.05" fill="#e0dcb0"/><rect x="41.80" y="5.10" width="4.10" height="2.05" fill="#86c450"/><rect x="45.60" y="5.10" width="4.10" height="2.05" fill="#6ab456"/><rect x="49.40" y="5.10" width="4.10" height="2.05" fill="#e8d8b0"/><rect x="53.20" y="5.10" width="4.10" height="2.05" fill="#58a25a"/><rect x="0.00" y="6.80" width="4.10" height="2.05" fill="#6ab456"/><rect x="3.80" y="6.80" width="4.10" height="2.05" fill="#e8d8b0"/><rect x="7.60" y="6.80" width="4.10" height="2.05" fill="#74ac88"/><rect x="11.40" y="6.80" width="4.10" height="2.05" fill="#58a25a"/><rect x="15.20" y="6.80" width="4.10" height="2.05" fill="#86c450"/><rect x="19.00" y="6.80" width="4.10" height="2.05" fill="#6ab456"/><rect x="22.80" y="6.80" width="4.10" height="2.05" fill="#7ccad8"/><rect x="26.60" y="6.80" width="4.10" height="2.05" fill="#58a25a"/><rect x="30.40" y="6.80" width="4.10" height="2.05" fill="#e0dcb0"/><rect x="34.20" y="6.80" width="4.10" height="2.05" fill="#e0dcb0"/><rect x="38.00" y="6.80" width="4.10" height="2.05" fill="#e0dcb0"/><rect x="41.80" y="6.80" width="4.10" height="2.05" fill="#e8d8b0"/><rect x="45.60" y="6.80" width="4.10" height="2.05" fill="#7ccad8"/><rect x="49.40" y="6.80" width="4.10" height="2.05" fill="#9ccb52"/><rect x="53.20" y="6.80" width="4.10" height="2.05" fill="#74ac88"/><rect x="0.00" y="8.50" width="4.10" height="2.05" fill="#4e9a55"/><rect x="3.80" y="8.50" width="4.10" height="2.05" fill="#e8d8b0"/><rect x="7.60" y="8.50" width="4.10" height="2.05" fill="#74ac88"/><rect x="11.40" y="8.50" width="4.10" height="2.05" fill="#e8d8b0"/><rect x="15.20" y="8.50" width="4.10" height="2.05" fill="#6ab456"/><rect x="19.00" y="8.50" width="4.10" height="2.05" fill="#e8d8b0"/><rect x="22.80" y="8.50" width="4.10" height="2.05" fill="#7ccad8"/><rect x="26.60" y="8.50" width="4.10" height="2.05" fill="#86c450"/><rect x="30.40" y="8.50" width="4.10" height="2.05" fill="#6ab456"/><rect x="34.20" y="8.50" width="4.10" height="2.05" fill="#a8c8ec"/><rect x="38.00" y="8.50" width="4.10" height="2.05" fill="#a8c8ec"/><rect x="41.80" y="8.50" width="4.10" height="2.05" fill="#7ccad8"/><rect x="45.60" y="8.50" width="4.10" height="2.05" fill="#7ccad8"/><rect x="49.40" y="8.50" width="4.10" height="2.05" fill="#58a25a"/><rect x="53.20" y="8.50" width="4.10" height="2.05" fill="#4e9a55"/><rect x="0.00" y="10.20" width="4.10" height="2.05" fill="#7ccad8"/><rect x="3.80" y="10.20" width="4.10" height="2.05" fill="#e8d8b0"/><rect x="7.60" y="10.20" width="4.10" height="2.05" fill="#74ac88"/><rect x="11.40" y="10.20" width="4.10" height="2.05" fill="#6ab456"/><rect x="15.20" y="10.20" width="4.10" height="2.05" fill="#6ab456"/><rect x="19.00" y="10.20" width="4.10" height="2.05" fill="#e8d8b0"/><rect x="22.80" y="10.20" width="4.10" height="2.05" fill="#7ccad8"/><rect x="26.60" y="10.20" width="4.10" height="2.05" fill="#86c450"/><rect x="30.40" y="10.20" width="4.10" height="2.05" fill="#6ab456"/><rect x="34.20" y="10.20" width="4.10" height="2.05" fill="#6ab456"/><rect x="38.00" y="10.20" width="4.10" height="2.05" fill="#86c450"/><rect x="41.80" y="10.20" width="4.10" height="2.05" fill="#e8d8b0"/><rect x="45.60" y="10.20" width="4.10" height="2.05" fill="#58a25a"/><rect x="49.40" y="10.20" width="4.10" height="2.05" fill="#6ab456"/><rect x="53.20" y="10.20" width="4.10" height="2.05" fill="#86c450"/><rect x="0.00" y="11.90" width="4.10" height="2.05" fill="#7ccad8"/><rect x="3.80" y="11.90" width="4.10" height="2.05" fill="#eed4aa"/><rect x="7.60" y="11.90" width="4.10" height="2.05" fill="#74ac88"/><rect x="11.40" y="11.90" width="4.10" height="2.05" fill="#6ab456"/><rect x="15.20" y="11.90" width="4.10" height="2.05" fill="#86c450"/><rect x="19.00" y="11.90" width="4.10" height="2.05" fill="#e8d8b0"/><rect x="22.80" y="11.90" width="4.10" height="2.05" fill="#3cb2a6"/><rect x="26.60" y="11.90" width="4.10" height="2.05" fill="#e8d8b0"/><rect x="30.40" y="11.90" width="4.10" height="2.05" fill="#4e9a55"/><rect x="34.20" y="11.90" width="4.10" height="2.05" fill="#e8d8b0"/><rect x="38.00" y="11.90" width="4.10" height="2.05" fill="#86c450"/><rect x="41.80" y="11.90" width="4.10" height="2.05" fill="#e0dcb0"/><rect x="45.60" y="11.90" width="4.10" height="2.05" fill="#e8d8b0"/><rect x="49.40" y="11.90" width="4.10" height="2.05" fill="#6ab456"/><rect x="53.20" y="11.90" width="4.10" height="2.05" fill="#6ab456"/><rect x="0.00" y="13.60" width="4.10" height="2.05" fill="#7ccad8"/><rect x="3.80" y="13.60" width="4.10" height="2.05" fill="#58a25a"/><rect x="7.60" y="13.60" width="4.10" height="2.05" fill="#3cb2a6"/><rect x="11.40" y="13.60" width="4.10" height="2.05" fill="#6ab456"/><rect x="15.20" y="13.60" width="4.10" height="2.05" fill="#e8d8b0"/><rect x="19.00" y="13.60" width="4.10" height="2.05" fill="#e8d8b0"/><rect x="22.80" y="13.60" width="4.10" height="2.05" fill="#4e9a55"/><rect x="26.60" y="13.60" width="4.10" height="2.05" fill="#4e9a55"/><rect x="30.40" y="13.60" width="4.10" height="2.05" fill="#e0dcb0"/><rect x="34.20" y="13.60" width="4.10" height="2.05" fill="#e0dcb0"/><rect x="38.00" y="13.60" width="4.10" height="2.05" fill="#e0dcb0"/><rect x="41.80" y="13.60" width="4.10" height="2.05" fill="#6ab456"/><rect x="45.60" y="13.60" width="4.10" height="2.05" fill="#9ccb52"/><rect x="49.40" y="13.60" width="4.10" height="2.05" fill="#6ab456"/><rect x="53.20" y="13.60" width="4.10" height="2.05" fill="#6ab456"/><rect x="0.00" y="15.30" width="4.10" height="2.05" fill="#eed4aa"/><rect x="3.80" y="15.30" width="4.10" height="2.05" fill="#eed4aa"/><rect x="7.60" y="15.30" width="4.10" height="2.05" fill="#3cb2a6"/><rect x="11.40" y="15.30" width="4.10" height="2.05" fill="#86c450"/><rect x="15.20" y="15.30" width="4.10" height="2.05" fill="#4e9a55"/><rect x="19.00" y="15.30" width="4.10" height="2.05" fill="#6ab456"/><rect x="22.80" y="15.30" width="4.10" height="2.05" fill="#e8d8b0"/><rect x="26.60" y="15.30" width="4.10" height="2.05" fill="#6ab456"/><rect x="30.40" y="15.30" width="4.10" height="2.05" fill="#e0dcb0"/><rect x="34.20" y="15.30" width="4.10" height="2.05" fill="#e0dcb0"/><rect x="38.00" y="15.30" width="4.10" height="2.05" fill="#e0dcb0"/><rect x="41.80" y="15.30" width="4.10" height="2.05" fill="#6ab456"/><rect x="45.60" y="15.30" width="4.10" height="2.05" fill="#3cb2a6"/><rect x="49.40" y="15.30" width="4.10" height="2.05" fill="#e8d8b0"/><rect x="53.20" y="15.30" width="4.10" height="2.05" fill="#e8d8b0"/><rect x="0.00" y="17.00" width="4.10" height="2.05" fill="#eed4aa"/><rect x="3.80" y="17.00" width="4.10" height="2.05" fill="#4e9a55"/><rect x="7.60" y="17.00" width="4.10" height="2.05" fill="#3cb2a6"/><rect x="11.40" y="17.00" width="4.10" height="2.05" fill="#86c450"/><rect x="15.20" y="17.00" width="4.10" height="2.05" fill="#6ab456"/><rect x="19.00" y="17.00" width="4.10" height="2.05" fill="#6ab456"/><rect x="22.80" y="17.00" width="4.10" height="2.05" fill="#7ccad8"/><rect x="26.60" y="17.00" width="4.10" height="2.05" fill="#6ab456"/><rect x="30.40" y="17.00" width="4.10" height="2.05" fill="#6ab456"/><rect x="34.20" y="17.00" width="4.10" height="2.05" fill="#e0dcb0"/><rect x="38.00" y="17.00" width="4.10" height="2.05" fill="#e0dcb0"/><rect x="41.80" y="17.00" width="4.10" height="2.05" fill="#6ab456"/><rect x="45.60" y="17.00" width="4.10" height="2.05" fill="#3cb2a6"/><rect x="49.40" y="17.00" width="4.10" height="2.05" fill="#e8d8b0"/><rect x="53.20" y="17.00" width="4.10" height="2.05" fill="#e8d8b0"/><rect x="0.00" y="18.70" width="4.10" height="2.05" fill="#e8d8b0"/><rect x="3.80" y="18.70" width="4.10" height="2.05" fill="#e8d8b0"/><rect x="7.60" y="18.70" width="4.10" height="2.05" fill="#4e9a55"/><rect x="11.40" y="18.70" width="4.10" height="2.05" fill="#4e9a55"/><rect x="15.20" y="18.70" width="4.10" height="2.05" fill="#6ab456"/><rect x="19.00" y="18.70" width="4.10" height="2.05" fill="#7ccad8"/><rect x="22.80" y="18.70" width="4.10" height="2.05" fill="#e0dcb0"/><rect x="26.60" y="18.70" width="4.10" height="2.05" fill="#e8d8b0"/><rect x="30.40" y="18.70" width="4.10" height="2.05" fill="#e8d8b0"/><rect x="34.20" y="18.70" width="4.10" height="2.05" fill="#74ac88"/><rect x="38.00" y="18.70" width="4.10" height="2.05" fill="#e0dcb0"/><rect x="41.80" y="18.70" width="4.10" height="2.05" fill="#3cb2a6"/><rect x="45.60" y="18.70" width="4.10" height="2.05" fill="#3cb2a6"/><rect x="49.40" y="18.70" width="4.10" height="2.05" fill="#4e9a55"/><rect x="53.20" y="18.70" width="4.10" height="2.05" fill="#3cb2a6"/><rect x="0.00" y="20.40" width="4.10" height="2.05" fill="#e8d8b0"/><rect x="3.80" y="20.40" width="4.10" height="2.05" fill="#e8d8b0"/><rect x="7.60" y="20.40" width="4.10" height="2.05" fill="#86c450"/><rect x="11.40" y="20.40" width="4.10" height="2.05" fill="#58a25a"/><rect x="15.20" y="20.40" width="4.10" height="2.05" fill="#6ab456"/><rect x="19.00" y="20.40" width="4.10" height="2.05" fill="#7ccad8"/><rect x="22.80" y="20.40" width="4.10" height="2.05" fill="#7ccad8"/><rect x="26.60" y="20.40" width="4.10" height="2.05" fill="#e0dcb0"/><rect x="30.40" y="20.40" width="4.10" height="2.05" fill="#e8d8b0"/><rect x="34.20" y="20.40" width="4.10" height="2.05" fill="#74ac88"/><rect x="38.00" y="20.40" width="4.10" height="2.05" fill="#6ab456"/><rect x="41.80" y="20.40" width="4.10" height="2.05" fill="#58a25a"/><rect x="45.60" y="20.40" width="4.10" height="2.05" fill="#3cb2a6"/><rect x="49.40" y="20.40" width="4.10" height="2.05" fill="#4e9a55"/><rect x="53.20" y="20.40" width="4.10" height="2.05" fill="#3cb2a6"/><rect x="0.00" y="22.10" width="4.10" height="2.05" fill="#6ab456"/><rect x="3.80" y="22.10" width="4.10" height="2.05" fill="#e0dcb0"/><rect x="7.60" y="22.10" width="4.10" height="2.05" fill="#7ccad8"/><rect x="11.40" y="22.10" width="4.10" height="2.05" fill="#58a25a"/><rect x="15.20" y="22.10" width="4.10" height="2.05" fill="#8c9ae6"/><rect x="19.00" y="22.10" width="4.10" height="2.05" fill="#4e9a55"/><rect x="22.80" y="22.10" width="4.10" height="2.05" fill="#e8d8b0"/><rect x="26.60" y="22.10" width="4.10" height="2.05" fill="#6ab456"/><rect x="30.40" y="22.10" width="4.10" height="2.05" fill="#e0dcb0"/><rect x="34.20" y="22.10" width="4.10" height="2.05" fill="#74ac88"/><rect x="38.00" y="22.10" width="4.10" height="2.05" fill="#6ab456"/><rect x="41.80" y="22.10" width="4.10" height="2.05" fill="#86c450"/><rect x="45.60" y="22.10" width="4.10" height="2.05" fill="#3cb2a6"/><rect x="49.40" y="22.10" width="4.10" height="2.05" fill="#4e9a55"/><rect x="53.20" y="22.10" width="4.10" height="2.05" fill="#74ac88"/><rect x="0.00" y="23.80" width="4.10" height="2.05" fill="#6ab456"/><rect x="3.80" y="23.80" width="4.10" height="2.05" fill="#e0dcb0"/><rect x="7.60" y="23.80" width="4.10" height="2.05" fill="#7ccad8"/><rect x="11.40" y="23.80" width="4.10" height="2.05" fill="#58a25a"/><rect x="15.20" y="23.80" width="4.10" height="2.05" fill="#e8d8b0"/><rect x="19.00" y="23.80" width="4.10" height="2.05" fill="#e0dcb0"/><rect x="22.80" y="23.80" width="4.10" height="2.05" fill="#e0dcb0"/><rect x="26.60" y="23.80" width="4.10" height="2.05" fill="#e0dcb0"/><rect x="30.40" y="23.80" width="4.10" height="2.05" fill="#e0dcb0"/><rect x="34.20" y="23.80" width="4.10" height="2.05" fill="#e0dcb0"/><rect x="38.00" y="23.80" width="4.10" height="2.05" fill="#86c450"/><rect x="41.80" y="23.80" width="4.10" height="2.05" fill="#6ab456"/><rect x="45.60" y="23.80" width="4.10" height="2.05" fill="#e0dcb0"/><rect x="49.40" y="23.80" width="4.10" height="2.05" fill="#e0dcb0"/><rect x="53.20" y="23.80" width="4.10" height="2.05" fill="#e0dcb0"/><rect x="0.00" y="25.50" width="4.10" height="2.05" fill="#6ab456"/><rect x="3.80" y="25.50" width="4.10" height="2.05" fill="#e0dcb0"/><rect x="7.60" y="25.50" width="4.10" height="2.05" fill="#9ccb52"/><rect x="11.40" y="25.50" width="4.10" height="2.05" fill="#8c9ae6"/><rect x="15.20" y="25.50" width="4.10" height="2.05" fill="#e0dcb0"/><rect x="19.00" y="25.50" width="4.10" height="2.05" fill="#e0dcb0"/><rect x="22.80" y="25.50" width="4.10" height="2.05" fill="#e0dcb0"/><rect x="26.60" y="25.50" width="4.10" height="2.05" fill="#e0dcb0"/><rect x="30.40" y="25.50" width="4.10" height="2.05" fill="#58a25a"/><rect x="34.20" y="25.50" width="4.10" height="2.05" fill="#e0dcb0"/><rect x="38.00" y="25.50" width="4.10" height="2.05" fill="#58a25a"/><rect x="41.80" y="25.50" width="4.10" height="2.05" fill="#4e9a55"/><rect x="45.60" y="25.50" width="4.10" height="2.05" fill="#e8d8b0"/><rect x="49.40" y="25.50" width="4.10" height="2.05" fill="#e8d8b0"/><rect x="53.20" y="25.50" width="4.10" height="2.05" fill="#74ac88"/><rect x="0.00" y="27.20" width="4.10" height="2.05" fill="#86c450"/><rect x="3.80" y="27.20" width="4.10" height="2.05" fill="#e0dcb0"/><rect x="7.60" y="27.20" width="4.10" height="2.05" fill="#86c450"/><rect x="11.40" y="27.20" width="4.10" height="2.05" fill="#86c450"/><rect x="15.20" y="27.20" width="4.10" height="2.05" fill="#e2c44a"/><rect x="19.00" y="27.20" width="4.10" height="2.05" fill="#e0dcb0"/><rect x="22.80" y="27.20" width="4.10" height="2.05" fill="#4e9a55"/><rect x="26.60" y="27.20" width="4.10" height="2.05" fill="#e8d8b0"/><rect x="30.40" y="27.20" width="4.10" height="2.05" fill="#74ac88"/><rect x="34.20" y="27.20" width="4.10" height="2.05" fill="#4e9a55"/><rect x="38.00" y="27.20" width="4.10" height="2.05" fill="#4e9a55"/><rect x="41.80" y="27.20" width="4.10" height="2.05" fill="#74ac88"/><rect x="45.60" y="27.20" width="4.10" height="2.05" fill="#7ccad8"/><rect x="49.40" y="27.20" width="4.10" height="2.05" fill="#7ccad8"/><rect x="53.20" y="27.20" width="4.10" height="2.05" fill="#9ccb52"/><rect x="0.00" y="28.90" width="4.10" height="2.05" fill="#86c450"/><rect x="3.80" y="28.90" width="4.10" height="2.05" fill="#e0dcb0"/><rect x="7.60" y="28.90" width="4.10" height="2.05" fill="#9ccb52"/><rect x="11.40" y="28.90" width="4.10" height="2.05" fill="#86c450"/><rect x="15.20" y="28.90" width="4.10" height="2.05" fill="#e2c44a"/><rect x="19.00" y="28.90" width="4.10" height="2.05" fill="#e2c44a"/><rect x="22.80" y="28.90" width="4.10" height="2.05" fill="#e0dcb0"/><rect x="26.60" y="28.90" width="4.10" height="2.05" fill="#4e9a55"/><rect x="30.40" y="28.90" width="4.10" height="2.05" fill="#86c450"/><rect x="34.20" y="28.90" width="4.10" height="2.05" fill="#4e9a55"/><rect x="38.00" y="28.90" width="4.10" height="2.05" fill="#4e9a55"/><rect x="41.80" y="28.90" width="4.10" height="2.05" fill="#e8d8b0"/><rect x="45.60" y="28.90" width="4.10" height="2.05" fill="#7ccad8"/><rect x="49.40" y="28.90" width="4.10" height="2.05" fill="#7ccad8"/><rect x="53.20" y="28.90" width="4.10" height="2.05" fill="#4e9a55"/><rect x="0.00" y="30.60" width="4.10" height="2.05" fill="#e0dcb0"/><rect x="3.80" y="30.60" width="4.10" height="2.05" fill="#3cb2a6"/><rect x="7.60" y="30.60" width="4.10" height="2.05" fill="#58a25a"/><rect x="11.40" y="30.60" width="4.10" height="2.05" fill="#e0dcb0"/><rect x="15.20" y="30.60" width="4.10" height="2.05" fill="#e2c44a"/><rect x="19.00" y="30.60" width="4.10" height="2.05" fill="#e0dcb0"/><rect x="22.80" y="30.60" width="4.10" height="2.05" fill="#e8d8b0"/><rect x="26.60" y="30.60" width="4.10" height="2.05" fill="#58a25a"/><rect x="30.40" y="30.60" width="4.10" height="2.05" fill="#6ab456"/><rect x="34.20" y="30.60" width="4.10" height="2.05" fill="#9ccb52"/><rect x="38.00" y="30.60" width="4.10" height="2.05" fill="#6ab456"/><rect x="41.80" y="30.60" width="4.10" height="2.05" fill="#4e9a55"/><rect x="45.60" y="30.60" width="4.10" height="2.05" fill="#7ccad8"/><rect x="49.40" y="30.60" width="4.10" height="2.05" fill="#6ab456"/><rect x="53.20" y="30.60" width="4.10" height="2.05" fill="#3cb2a6"/><rect x="0.00" y="32.30" width="4.10" height="2.05" fill="#4e9a55"/><rect x="3.80" y="32.30" width="4.10" height="2.05" fill="#4e9a55"/><rect x="7.60" y="32.30" width="4.10" height="2.05" fill="#58a25a"/><rect x="11.40" y="32.30" width="4.10" height="2.05" fill="#58a25a"/><rect x="15.20" y="32.30" width="4.10" height="2.05" fill="#58a25a"/><rect x="19.00" y="32.30" width="4.10" height="2.05" fill="#74ac88"/><rect x="22.80" y="32.30" width="4.10" height="2.05" fill="#e8d8b0"/><rect x="26.60" y="32.30" width="4.10" height="2.05" fill="#58a25a"/><rect x="30.40" y="32.30" width="4.10" height="2.05" fill="#6ab456"/><rect x="34.20" y="32.30" width="4.10" height="2.05" fill="#4e9a55"/><rect x="38.00" y="32.30" width="4.10" height="2.05" fill="#4e9a55"/><rect x="41.80" y="32.30" width="4.10" height="2.05" fill="#4e9a55"/><rect x="45.60" y="32.30" width="4.10" height="2.05" fill="#6ab456"/><rect x="49.40" y="32.30" width="4.10" height="2.05" fill="#e0dcb0"/><rect x="53.20" y="32.30" width="4.10" height="2.05" fill="#e0dcb0"/><rect x="0.00" y="34.00" width="4.10" height="2.05" fill="#e8d8b0"/><rect x="3.80" y="34.00" width="4.10" height="2.05" fill="#74ac88"/><rect x="7.60" y="34.00" width="4.10" height="2.05" fill="#e2c44a"/><rect x="11.40" y="34.00" width="4.10" height="2.05" fill="#6ab456"/><rect x="15.20" y="34.00" width="4.10" height="2.05" fill="#6ab456"/><rect x="19.00" y="34.00" width="4.10" height="2.05" fill="#a8c8ec"/><rect x="22.80" y="34.00" width="4.10" height="2.05" fill="#4e9a55"/><rect x="26.60" y="34.00" width="4.10" height="2.05" fill="#58a25a"/><rect x="30.40" y="34.00" width="4.10" height="2.05" fill="#6ab456"/><rect x="34.20" y="34.00" width="4.10" height="2.05" fill="#e8d8b0"/><rect x="38.00" y="34.00" width="4.10" height="2.05" fill="#e0dcb0"/><rect x="41.80" y="34.00" width="4.10" height="2.05" fill="#6ab456"/><rect x="45.60" y="34.00" width="4.10" height="2.05" fill="#e0dcb0"/><rect x="49.40" y="34.00" width="4.10" height="2.05" fill="#e8d8b0"/><rect x="53.20" y="34.00" width="4.10" height="2.05" fill="#58a25a"/><rect x="0.00" y="35.70" width="4.10" height="2.05" fill="#86c450"/><rect x="3.80" y="35.70" width="4.10" height="2.05" fill="#8c9ae6"/><rect x="7.60" y="35.70" width="4.10" height="2.05" fill="#86c450"/><rect x="11.40" y="35.70" width="4.10" height="2.05" fill="#6ab456"/><rect x="15.20" y="35.70" width="4.10" height="2.05" fill="#6ab456"/><rect x="19.00" y="35.70" width="4.10" height="2.05" fill="#e8d8b0"/><rect x="22.80" y="35.70" width="4.10" height="2.05" fill="#58a25a"/><rect x="26.60" y="35.70" width="4.10" height="2.05" fill="#58a25a"/><rect x="30.40" y="35.70" width="4.10" height="2.05" fill="#8c9ae6"/><rect x="34.20" y="35.70" width="4.10" height="2.05" fill="#e8d8b0"/><rect x="38.00" y="35.70" width="4.10" height="2.05" fill="#e0dcb0"/><rect x="41.80" y="35.70" width="4.10" height="2.05" fill="#9ccb52"/><rect x="45.60" y="35.70" width="4.10" height="2.05" fill="#9ccb52"/><rect x="49.40" y="35.70" width="4.10" height="2.05" fill="#4e9a55"/><rect x="53.20" y="35.70" width="4.10" height="2.05" fill="#3cb2a6"/><rect x="0.00" y="37.40" width="4.10" height="2.05" fill="#e8d8b0"/><rect x="3.80" y="37.40" width="4.10" height="2.05" fill="#e8d8b0"/><rect x="7.60" y="37.40" width="4.10" height="2.05" fill="#3cb2a6"/><rect x="11.40" y="37.40" width="4.10" height="2.05" fill="#6ab456"/><rect x="15.20" y="37.40" width="4.10" height="2.05" fill="#58a25a"/><rect x="19.00" y="37.40" width="4.10" height="2.05" fill="#4e9a55"/><rect x="22.80" y="37.40" width="4.10" height="2.05" fill="#58a25a"/><rect x="26.60" y="37.40" width="4.10" height="2.05" fill="#86c450"/><rect x="30.40" y="37.40" width="4.10" height="2.05" fill="#8c9ae6"/><rect x="34.20" y="37.40" width="4.10" height="2.05" fill="#e0dcb0"/><rect x="38.00" y="37.40" width="4.10" height="2.05" fill="#86c450"/><rect x="41.80" y="37.40" width="4.10" height="2.05" fill="#e0dcb0"/><rect x="45.60" y="37.40" width="4.10" height="2.05" fill="#e0dcb0"/><rect x="49.40" y="37.40" width="4.10" height="2.05" fill="#86c450"/><rect x="53.20" y="37.40" width="4.10" height="2.05" fill="#3cb2a6"/><rect x="0.00" y="39.10" width="4.10" height="2.05" fill="#e8d8b0"/><rect x="3.80" y="39.10" width="4.10" height="2.05" fill="#e0dcb0"/><rect x="7.60" y="39.10" width="4.10" height="2.05" fill="#58a25a"/><rect x="11.40" y="39.10" width="4.10" height="2.05" fill="#6ab456"/><rect x="15.20" y="39.10" width="4.10" height="2.05" fill="#7ccad8"/><rect x="19.00" y="39.10" width="4.10" height="2.05" fill="#7ccad8"/><rect x="22.80" y="39.10" width="4.10" height="2.05" fill="#4e9a55"/><rect x="26.60" y="39.10" width="4.10" height="2.05" fill="#e8d8b0"/><rect x="30.40" y="39.10" width="4.10" height="2.05" fill="#6ab456"/><rect x="34.20" y="39.10" width="4.10" height="2.05" fill="#58a25a"/><rect x="38.00" y="39.10" width="4.10" height="2.05" fill="#eed4aa"/><rect x="41.80" y="39.10" width="4.10" height="2.05" fill="#e8d8b0"/><rect x="45.60" y="39.10" width="4.10" height="2.05" fill="#eed4aa"/><rect x="49.40" y="39.10" width="4.10" height="2.05" fill="#86c450"/><rect x="53.20" y="39.10" width="4.10" height="2.05" fill="#3cb2a6"/><rect x="0.00" y="40.80" width="4.10" height="2.05" fill="#e8d8b0"/><rect x="3.80" y="40.80" width="4.10" height="2.05" fill="#e0dcb0"/><rect x="7.60" y="40.80" width="4.10" height="2.05" fill="#e0dcb0"/><rect x="11.40" y="40.80" width="4.10" height="2.05" fill="#e8d8b0"/><rect x="15.20" y="40.80" width="4.10" height="2.05" fill="#7ccad8"/><rect x="19.00" y="40.80" width="4.10" height="2.05" fill="#7ccad8"/><rect x="22.80" y="40.80" width="4.10" height="2.05" fill="#7ccad8"/><rect x="26.60" y="40.80" width="4.10" height="2.05" fill="#e8d8b0"/><rect x="30.40" y="40.80" width="4.10" height="2.05" fill="#6ab456"/><rect x="34.20" y="40.80" width="4.10" height="2.05" fill="#eed4aa"/><rect x="38.00" y="40.80" width="4.10" height="2.05" fill="#86c450"/><rect x="41.80" y="40.80" width="4.10" height="2.05" fill="#eed4aa"/><rect x="45.60" y="40.80" width="4.10" height="2.05" fill="#58a25a"/><rect x="49.40" y="40.80" width="4.10" height="2.05" fill="#eed4aa"/><rect x="53.20" y="40.80" width="4.10" height="2.05" fill="#58a25a"/><rect x="0.00" y="42.50" width="4.10" height="2.05" fill="#e8d8b0"/><rect x="3.80" y="42.50" width="4.10" height="2.05" fill="#e0dcb0"/><rect x="7.60" y="42.50" width="4.10" height="2.05" fill="#e0dcb0"/><rect x="11.40" y="42.50" width="4.10" height="2.05" fill="#7ccad8"/><rect x="15.20" y="42.50" width="4.10" height="2.05" fill="#7ccad8"/><rect x="19.00" y="42.50" width="4.10" height="2.05" fill="#6ab456"/><rect x="22.80" y="42.50" width="4.10" height="2.05" fill="#58a25a"/><rect x="26.60" y="42.50" width="4.10" height="2.05" fill="#7ccad8"/><rect x="30.40" y="42.50" width="4.10" height="2.05" fill="#86c450"/><rect x="34.20" y="42.50" width="4.10" height="2.05" fill="#eed4aa"/><rect x="38.00" y="42.50" width="4.10" height="2.05" fill="#eed4aa"/><rect x="41.80" y="42.50" width="4.10" height="2.05" fill="#eed4aa"/><rect x="45.60" y="42.50" width="4.10" height="2.05" fill="#eed4aa"/><rect x="49.40" y="42.50" width="4.10" height="2.05" fill="#9ccb52"/><rect x="53.20" y="42.50" width="4.10" height="2.05" fill="#eed4aa"/></g>
<rect x="90.5" y="87.6" width="114.1" height="63.6" fill="none" stroke="#7a7a7a" stroke-width="1.1"/>
<rect x="215.0" y="87.6" width="114.7" height="63.6" fill="none" stroke="#7a7a7a" stroke-width="1.1"/>
<rect x="337.6" y="87.6" width="114.7" height="63.6" fill="none" stroke="#7a7a7a" stroke-width="1.1"/>
<defs><linearGradient id="g1" x1="0" x2="1" y1="0" y2="0"><stop offset="0.000" stop-color="#7a50c8"/><stop offset="0.027" stop-color="#7a50c8"/><stop offset="0.027" stop-color="#1a10b0"/><stop offset="0.070" stop-color="#1a10b0"/><stop offset="0.070" stop-color="#1a28cc"/><stop offset="0.110" stop-color="#1a28cc"/><stop offset="0.110" stop-color="#3868d0"/><stop offset="0.187" stop-color="#3868d0"/><stop offset="0.187" stop-color="#78a8e0"/><stop offset="0.240" stop-color="#78a8e0"/><stop offset="0.240" stop-color="#a8d8e0"/><stop offset="0.280" stop-color="#a8d8e0"/><stop offset="0.280" stop-color="#30b0a0"/><stop offset="0.340" stop-color="#30b0a0"/><stop offset="0.340" stop-color="#60b050"/><stop offset="0.370" stop-color="#60b050"/><stop offset="0.370" stop-color="#80c030"/><stop offset="0.410" stop-color="#80c030"/><stop offset="0.410" stop-color="#309040"/><stop offset="0.465" stop-color="#309040"/><stop offset="0.465" stop-color="#70b060"/><stop offset="0.490" stop-color="#70b060"/><stop offset="0.490" stop-color="#e8d8b0"/><stop offset="0.550" stop-color="#e8d8b0"/><stop offset="0.550" stop-color="#e0c880"/><stop offset="0.580" stop-color="#e0c880"/><stop offset="0.580" stop-color="#f0c810"/><stop offset="0.670" stop-color="#f0c810"/><stop offset="0.670" stop-color="#f09000"/><stop offset="0.710" stop-color="#f09000"/><stop offset="0.710" stop-color="#f04800"/><stop offset="0.765" stop-color="#f04800"/><stop offset="0.765" stop-color="#c81818"/><stop offset="0.800" stop-color="#c81818"/><stop offset="0.800" stop-color="#a01020"/><stop offset="0.830" stop-color="#a01020"/><stop offset="0.830" stop-color="#f4a8b8"/><stop offset="1.000" stop-color="#f4a8b8"/></linearGradient></defs>
<defs><linearGradient id="g2" x1="0" x2="1" y1="0" y2="0"><stop offset="0.000" stop-color="#281878"/><stop offset="0.030" stop-color="#201c70"/><stop offset="0.080" stop-color="#1a4a4a"/><stop offset="0.130" stop-color="#1a6a38"/><stop offset="0.200" stop-color="#1e8a40"/><stop offset="0.300" stop-color="#30a078"/><stop offset="0.380" stop-color="#50b0a8"/><stop offset="0.450" stop-color="#70c0e0"/><stop offset="0.500" stop-color="#98c8b0"/><stop offset="0.530" stop-color="#c8c878"/><stop offset="0.580" stop-color="#e0b870"/><stop offset="0.650" stop-color="#d88878"/><stop offset="0.720" stop-color="#d06878"/><stop offset="0.800" stop-color="#c85090"/><stop offset="0.900" stop-color="#b03088"/><stop offset="0.960" stop-color="#801858"/><stop offset="1.000" stop-color="#601040"/></linearGradient></defs>
<defs><linearGradient id="g3" x1="0" x2="1" y1="0" y2="0"><stop offset="0.000" stop-color="#5c84f4"/><stop offset="0.200" stop-color="#8a64e8"/><stop offset="0.380" stop-color="#c040c0"/><stop offset="0.480" stop-color="#e03090"/><stop offset="0.580" stop-color="#f0404a"/><stop offset="0.700" stop-color="#f46420"/><stop offset="0.850" stop-color="#f88c10"/><stop offset="1.000" stop-color="#f8b400"/></linearGradient></defs>
<rect x="100.5" y="72.6" width="93.5" height="3.2" fill="url(#g1)" stroke="#5a5a5a" stroke-width="0.5"/>
<line x1="100.5" y1="75.8" x2="100.5" y2="77.8" stroke="#555" stroke-width="0.6"/>
<line x1="194.0" y1="75.8" x2="194.0" y2="77.8" stroke="#555" stroke-width="0.6"/>
<text x="100.5" y="84.5" font-size="7.2" text-anchor="middle" fill="#333">0.0</text>
<text x="194.0" y="84.5" font-size="7.2" text-anchor="middle" fill="#333">0.3</text>
<rect x="100.5" y="155.2" width="93.5" height="3.2" fill="url(#g2)" stroke="#5a5a5a" stroke-width="0.5"/>
<line x1="100.5" y1="158.4" x2="100.5" y2="160.4" stroke="#555" stroke-width="0.6"/>
<line x1="194.0" y1="158.4" x2="194.0" y2="160.4" stroke="#555" stroke-width="0.6"/>
<text x="100.5" y="167.0" font-size="7.0" text-anchor="middle" fill="#333">298</text>
<text x="194.0" y="167.0" font-size="7.0" text-anchor="middle" fill="#333">303</text>
<rect x="225.7" y="72.6" width="93.0" height="3.2" fill="url(#g1)" stroke="#5a5a5a" stroke-width="0.5"/>
<line x1="225.7" y1="75.8" x2="225.7" y2="77.8" stroke="#555" stroke-width="0.6"/>
<line x1="318.7" y1="75.8" x2="318.7" y2="77.8" stroke="#555" stroke-width="0.6"/>
<text x="225.7" y="84.5" font-size="7.2" text-anchor="middle" fill="#333">0.0</text>
<text x="318.7" y="84.5" font-size="7.2" text-anchor="middle" fill="#333">0.3</text>
<rect x="225.7" y="155.2" width="93.0" height="3.2" fill="url(#g2)" stroke="#5a5a5a" stroke-width="0.5"/>
<line x1="225.7" y1="158.4" x2="225.7" y2="160.4" stroke="#555" stroke-width="0.6"/>
<line x1="318.7" y1="158.4" x2="318.7" y2="160.4" stroke="#555" stroke-width="0.6"/>
<text x="225.7" y="167.0" font-size="7.0" text-anchor="middle" fill="#333">298</text>
<text x="318.7" y="167.0" font-size="7.0" text-anchor="middle" fill="#333">303</text>
<rect x="347.8" y="72.6" width="93.5" height="3.2" fill="url(#g1)" stroke="#5a5a5a" stroke-width="0.5"/>
<line x1="347.8" y1="75.8" x2="347.8" y2="77.8" stroke="#555" stroke-width="0.6"/>
<line x1="441.3" y1="75.8" x2="441.3" y2="77.8" stroke="#555" stroke-width="0.6"/>
<text x="347.8" y="84.5" font-size="7.2" text-anchor="middle" fill="#333">0.0</text>
<text x="441.3" y="84.5" font-size="7.2" text-anchor="middle" fill="#333">0.3</text>
<rect x="347.8" y="155.2" width="93.5" height="3.2" fill="url(#g2)" stroke="#5a5a5a" stroke-width="0.5"/>
<line x1="347.8" y1="158.4" x2="347.8" y2="160.4" stroke="#555" stroke-width="0.6"/>
<line x1="441.3" y1="158.4" x2="441.3" y2="160.4" stroke="#555" stroke-width="0.6"/>
<text x="347.8" y="167.0" font-size="7.0" text-anchor="middle" fill="#333">298</text>
<text x="441.3" y="167.0" font-size="7.0" text-anchor="middle" fill="#333">303</text>
<rect x="15.3" y="285.4" width="94.3" height="3.3" fill="url(#g1)" stroke="#5a5a5a" stroke-width="0.5"/>
<line x1="15.3" y1="288.7" x2="15.3" y2="290.7" stroke="#555" stroke-width="0.6"/>
<line x1="109.6" y1="288.7" x2="109.6" y2="290.7" stroke="#555" stroke-width="0.6"/>
<text x="15.3" y="297.1" font-size="6.3" text-anchor="middle" fill="#333">0.0</text>
<text x="109.6" y="297.1" font-size="6.3" text-anchor="middle" fill="#333">0.3</text>
<rect x="140.3" y="285.2" width="93.2" height="3.4" fill="url(#g3)" stroke="#5a5a5a" stroke-width="0.5"/>
<line x1="140.3" y1="288.6" x2="140.3" y2="290.6" stroke="#555" stroke-width="0.6"/>
<line x1="233.5" y1="288.6" x2="233.5" y2="290.6" stroke="#555" stroke-width="0.6"/>
<text x="140.3" y="297.1" font-size="6.3" text-anchor="middle" fill="#333">0.3</text>
<text x="233.5" y="297.1" font-size="6.3" text-anchor="middle" fill="#333">0.7</text>
<rect x="265.3" y="285.4" width="94.0" height="3.3" fill="url(#g1)" stroke="#5a5a5a" stroke-width="0.5"/>
<line x1="265.3" y1="288.7" x2="265.3" y2="290.7" stroke="#555" stroke-width="0.6"/>
<line x1="359.3" y1="288.7" x2="359.3" y2="290.7" stroke="#555" stroke-width="0.6"/>
<text x="265.3" y="297.1" font-size="6.3" text-anchor="middle" fill="#333">0.0</text>
<text x="359.3" y="297.1" font-size="6.3" text-anchor="middle" fill="#333">0.3</text>
<rect x="390.5" y="285.4" width="94.1" height="3.3" fill="url(#g1)" stroke="#5a5a5a" stroke-width="0.5"/>
<line x1="390.5" y1="288.7" x2="390.5" y2="290.7" stroke="#555" stroke-width="0.6"/>
<line x1="484.6" y1="288.7" x2="484.6" y2="290.7" stroke="#555" stroke-width="0.6"/>
<text x="390.5" y="297.1" font-size="6.3" text-anchor="middle" fill="#333">0.0</text>
<text x="484.6" y="297.1" font-size="6.3" text-anchor="middle" fill="#333">0.3</text>
<text x="22.20" y="40.90" font-size="9.60" fill="#111" stroke="#111" stroke-width="0.12" textLength="47.90" lengthAdjust="spacingAndGlyphs">ABI band 2</text>
<text x="22.20" y="53.90" font-size="9.60" fill="#111" stroke="#111" stroke-width="0.12" textLength="51.00" lengthAdjust="spacingAndGlyphs">reflectance</text>
<text x="23.20" y="116.90" font-size="9.60" fill="#111" stroke="#111" stroke-width="0.12" textLength="53.60" lengthAdjust="spacingAndGlyphs">ABI band 14</text>
<text x="23.20" y="129.50" font-size="9.60" fill="#111" stroke="#111" stroke-width="0.12" textLength="51.80" lengthAdjust="spacingAndGlyphs">radiometric</text>
<text x="23.20" y="142.10" font-size="9.60" fill="#111" stroke="#111" stroke-width="0.12" textLength="55.60" lengthAdjust="spacingAndGlyphs">temperature</text>
<text x="15.25" y="193.00" font-size="9.60" fill="#111" stroke="#111" stroke-width="0.12" textLength="20.75" lengthAdjust="spacingAndGlyphs">time</text>
<text x="95.10" y="192.00" font-size="9.60" fill="#111" stroke="#111" stroke-width="0.12" textLength="41.80" lengthAdjust="spacingAndGlyphs">10:30 AM</text>
<text x="234.50" y="191.90" font-size="9.60" fill="#111" stroke="#111" stroke-width="0.12" textLength="41.40" lengthAdjust="spacingAndGlyphs">12:48 PM</text>
<text x="349.10" y="191.70" font-size="9.60" fill="#111" stroke="#111" stroke-width="0.12" textLength="36.00" lengthAdjust="spacingAndGlyphs">1:30 PM</text>
<text x="10.00" y="308.25" font-size="9.60" fill="#111" stroke="#111" stroke-width="0.12" textLength="108.00" lengthAdjust="spacingAndGlyphs">Terra MODIS reflectance</text>
<text x="155.20" y="309.20" font-size="9.60" fill="#111" stroke="#111" stroke-width="0.12" textLength="60.70" lengthAdjust="spacingAndGlyphs">Ecostress ESI</text>
<text x="255.30" y="309.20" font-size="9.60" fill="#111" stroke="#111" stroke-width="0.12" textLength="112.20" lengthAdjust="spacingAndGlyphs">Aqua MODIS&#160; reflectance</text>
<text x="399.90" y="309.00" font-size="9.60" fill="#111" stroke="#111" stroke-width="0.12" textLength="77.10" lengthAdjust="spacingAndGlyphs">VIIRS reflectance</text>
<text x="94.6" y="16.5" font-size="8.80" text-anchor="start" fill="#1a1a1a" >(a)</text>
<text x="219.0" y="16.5" font-size="8.80" text-anchor="start" fill="#1a1a1a" >(b)</text>
<text x="343.2" y="16.5" font-size="8.80" text-anchor="start" fill="#1a1a1a" >(c)</text>
<text x="94.8" y="98.3" font-size="8.80" text-anchor="start" fill="#1a1a1a" >(d)</text>
<text x="219.0" y="98.3" font-size="8.80" text-anchor="start" fill="#1a1a1a" >(e)</text>
<text x="346.6" y="98.3" font-size="8.80" text-anchor="start" fill="#1a1a1a" >(f)</text>
<text x="8.6" y="227.0" font-size="8.6" font-family="Liberation Serif, serif" fill="#1a1a1a">(g)</text>
<text x="134.4" y="226.9" font-size="8.30" text-anchor="start" fill="#1a1a1a" >(h)</text>
<text x="258.6" y="226.9" font-size="8.30" text-anchor="start" fill="#1a1a1a" >(i)</text>
<text x="384.8" y="226.9" font-size="8.30" text-anchor="start" fill="#1a1a1a" >(j)</text>
<path d="M143.5 35.8L149.3 41.6M143.5 41.6L149.3 35.8" stroke="#f40000" stroke-width="2.1" stroke-linecap="butt"/>
<path d="M268.3 36.5L274.1 42.3M268.3 42.3L274.1 36.5" stroke="#f40000" stroke-width="2.1" stroke-linecap="butt"/>
<path d="M391.0 36.6L396.8 42.4M391.0 42.4L396.8 36.6" stroke="#f40000" stroke-width="2.1" stroke-linecap="butt"/>
<path d="M143.8 119.1L149.6 124.9M143.8 124.9L149.6 119.1" stroke="#f40000" stroke-width="2.1" stroke-linecap="butt"/>
<path d="M268.6 119.0L274.3 124.9M268.6 124.9L274.3 119.0" stroke="#f40000" stroke-width="2.1" stroke-linecap="butt"/>
<path d="M390.9 118.9L396.7 124.7M390.9 124.7L396.7 118.9" stroke="#f40000" stroke-width="2.1" stroke-linecap="butt"/>
<path d="M58.9 249.6L64.7 255.4M58.9 255.4L64.7 249.6" stroke="#f40000" stroke-width="2.1" stroke-linecap="butt"/>
<path d="M183.0 249.3L188.8 255.2M183.0 255.2L188.8 249.3" stroke="#f40000" stroke-width="2.1" stroke-linecap="butt"/>
<path d="M308.7 249.3L314.4 255.2M308.7 255.2L314.4 249.3" stroke="#f40000" stroke-width="2.1" stroke-linecap="butt"/>
<path d="M433.4 249.5L439.1 255.3M433.4 255.3L439.1 249.5" stroke="#f40000" stroke-width="2.1" stroke-linecap="butt"/></svg>
</body></html>
